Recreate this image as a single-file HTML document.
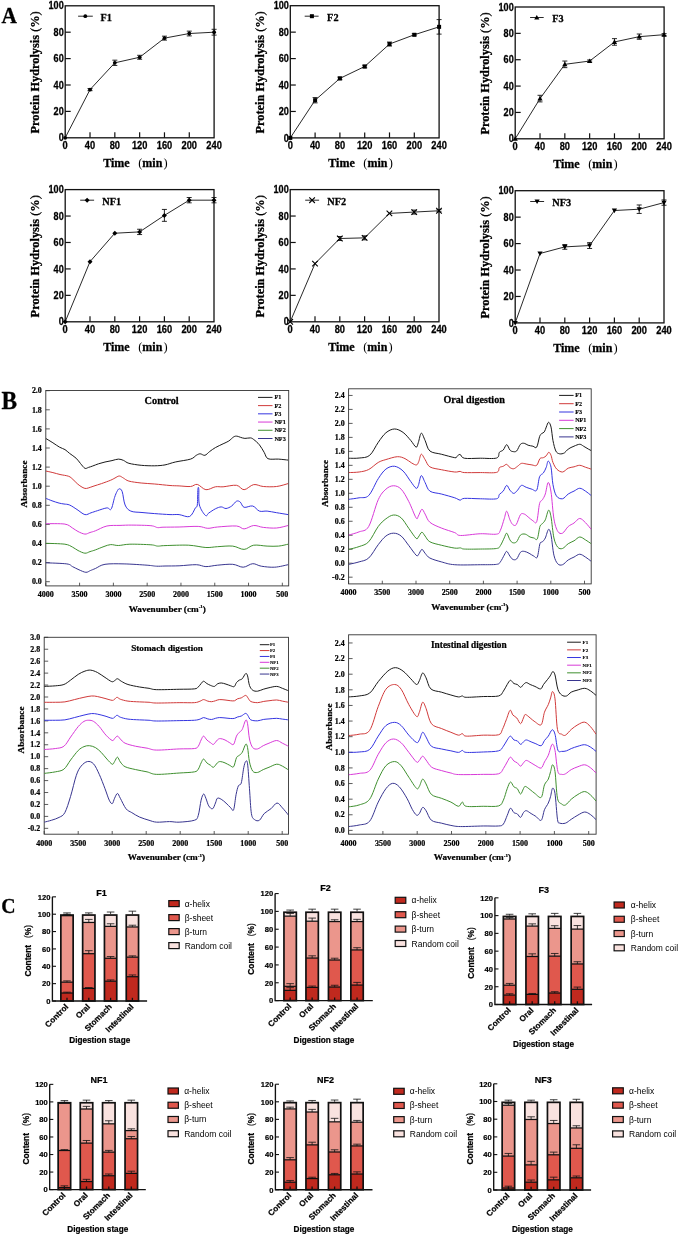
<!DOCTYPE html>
<html><head><meta charset="utf-8">
<style>
html,body{margin:0;padding:0;background:#fff;}
svg{display:block;will-change:transform;}
</style></head><body>
<svg width="680" height="1240" viewBox="0 0 680 1240">
<rect width="680" height="1240" fill="#fff"/>
<g>
<rect x="65.2" y="5.8" width="148.9" height="132" fill="none" stroke="#111" stroke-width="1.3"/>
<text transform="translate(63.7 141.4) scale(0.91 1)" font-family="&quot;Liberation Sans&quot;, sans-serif" font-weight="bold" font-size="10" text-anchor="end" fill="#000" stroke="#000" stroke-width="0.26">0</text>
<line x1="65.2" y1="111.4" x2="70.7" y2="111.4" stroke="#111" stroke-width="1.2"/>
<text transform="translate(63.7 115) scale(0.91 1)" font-family="&quot;Liberation Sans&quot;, sans-serif" font-weight="bold" font-size="10" text-anchor="end" fill="#000" stroke="#000" stroke-width="0.26">20</text>
<line x1="65.2" y1="85" x2="70.7" y2="85" stroke="#111" stroke-width="1.2"/>
<text transform="translate(63.7 88.6) scale(0.91 1)" font-family="&quot;Liberation Sans&quot;, sans-serif" font-weight="bold" font-size="10" text-anchor="end" fill="#000" stroke="#000" stroke-width="0.26">40</text>
<line x1="65.2" y1="58.6" x2="70.7" y2="58.6" stroke="#111" stroke-width="1.2"/>
<text transform="translate(63.7 62.2) scale(0.91 1)" font-family="&quot;Liberation Sans&quot;, sans-serif" font-weight="bold" font-size="10" text-anchor="end" fill="#000" stroke="#000" stroke-width="0.26">60</text>
<line x1="65.2" y1="32.2" x2="70.7" y2="32.2" stroke="#111" stroke-width="1.2"/>
<text transform="translate(63.7 35.8) scale(0.91 1)" font-family="&quot;Liberation Sans&quot;, sans-serif" font-weight="bold" font-size="10" text-anchor="end" fill="#000" stroke="#000" stroke-width="0.26">80</text>
<text transform="translate(63.7 9.4) scale(0.91 1)" font-family="&quot;Liberation Sans&quot;, sans-serif" font-weight="bold" font-size="10" text-anchor="end" fill="#000" stroke="#000" stroke-width="0.26">100</text>
<text transform="translate(65.2 148.8) scale(0.93 1)" font-family="&quot;Liberation Sans&quot;, sans-serif" font-weight="bold" font-size="10" text-anchor="middle" fill="#000" stroke="#000" stroke-width="0.26">0</text>
<line x1="90.02" y1="137.8" x2="90.02" y2="132.3" stroke="#111" stroke-width="1.2"/>
<text transform="translate(90.02 148.8) scale(0.93 1)" font-family="&quot;Liberation Sans&quot;, sans-serif" font-weight="bold" font-size="10" text-anchor="middle" fill="#000" stroke="#000" stroke-width="0.26">40</text>
<line x1="114.83" y1="137.8" x2="114.83" y2="132.3" stroke="#111" stroke-width="1.2"/>
<text transform="translate(114.83 148.8) scale(0.93 1)" font-family="&quot;Liberation Sans&quot;, sans-serif" font-weight="bold" font-size="10" text-anchor="middle" fill="#000" stroke="#000" stroke-width="0.26">80</text>
<line x1="139.65" y1="137.8" x2="139.65" y2="132.3" stroke="#111" stroke-width="1.2"/>
<text transform="translate(139.65 148.8) scale(0.93 1)" font-family="&quot;Liberation Sans&quot;, sans-serif" font-weight="bold" font-size="10" text-anchor="middle" fill="#000" stroke="#000" stroke-width="0.26">120</text>
<line x1="164.47" y1="137.8" x2="164.47" y2="132.3" stroke="#111" stroke-width="1.2"/>
<text transform="translate(164.47 148.8) scale(0.93 1)" font-family="&quot;Liberation Sans&quot;, sans-serif" font-weight="bold" font-size="10" text-anchor="middle" fill="#000" stroke="#000" stroke-width="0.26">160</text>
<line x1="189.28" y1="137.8" x2="189.28" y2="132.3" stroke="#111" stroke-width="1.2"/>
<text transform="translate(189.28 148.8) scale(0.93 1)" font-family="&quot;Liberation Sans&quot;, sans-serif" font-weight="bold" font-size="10" text-anchor="middle" fill="#000" stroke="#000" stroke-width="0.26">200</text>
<text transform="translate(214.1 148.8) scale(0.93 1)" font-family="&quot;Liberation Sans&quot;, sans-serif" font-weight="bold" font-size="10" text-anchor="middle" fill="#000" stroke="#000" stroke-width="0.26">240</text>
<text transform="translate(103.2 166.6) scale(0.97 1)" font-family="&quot;Liberation Serif&quot;, serif" font-weight="bold" font-size="12.4" text-anchor="start" fill="#000" stroke="#000" stroke-width="0.3">Time</text>
<text transform="translate(138.2 166.6)" font-family="&quot;Liberation Serif&quot;, serif" font-weight="normal" font-size="12.4" text-anchor="start" fill="#000">(</text>
<text transform="translate(142.3 166.6) scale(0.97 1)" font-family="&quot;Liberation Serif&quot;, serif" font-weight="bold" font-size="12.4" text-anchor="start" fill="#000" stroke="#000" stroke-width="0.3">min</text>
<text transform="translate(163.6 166.6)" font-family="&quot;Liberation Serif&quot;, serif" font-weight="normal" font-size="12.4" text-anchor="start" fill="#000">)</text>
<text transform="translate(39 72.4) rotate(-90) scale(0.95 1)" font-family="&quot;Liberation Serif&quot;, serif" font-weight="bold" font-size="13" text-anchor="middle" fill="#000" stroke="#000" stroke-width="0.3">Protein Hydrolysis <tspan font-weight="normal">(</tspan>%<tspan font-weight="normal">)</tspan></text>
<polyline points="65.2,137.8 90.02,89.62 114.83,62.82 139.65,57.28 164.47,38.14 189.28,33.52 214.1,32.2" fill="none" stroke="#111" stroke-width="0.9"/>
<path d="M90.02 88.56V90.68M87.52 88.56H92.52M87.52 90.68H92.52" stroke="#111" stroke-width="0.9" fill="none"/>
<path d="M114.83 60.18V65.46M112.33 60.18H117.33M112.33 65.46H117.33" stroke="#111" stroke-width="0.9" fill="none"/>
<path d="M139.65 55.3V59.26M137.15 55.3H142.15M137.15 59.26H142.15" stroke="#111" stroke-width="0.9" fill="none"/>
<path d="M164.47 36.16V40.12M161.97 36.16H166.97M161.97 40.12H166.97" stroke="#111" stroke-width="0.9" fill="none"/>
<path d="M189.28 31.14V35.9M186.78 31.14H191.78M186.78 35.9H191.78" stroke="#111" stroke-width="0.9" fill="none"/>
<path d="M214.1 29.3V35.1M211.6 29.3H216.6M211.6 35.1H216.6" stroke="#111" stroke-width="0.9" fill="none"/>
<circle cx="65.2" cy="137.8" r="1.9" fill="#000"/>
<circle cx="90.02" cy="89.62" r="1.9" fill="#000"/>
<circle cx="114.83" cy="62.82" r="1.9" fill="#000"/>
<circle cx="139.65" cy="57.28" r="1.9" fill="#000"/>
<circle cx="164.47" cy="38.14" r="1.9" fill="#000"/>
<circle cx="189.28" cy="33.52" r="1.9" fill="#000"/>
<circle cx="214.1" cy="32.2" r="1.9" fill="#000"/>
<line x1="78.1" y1="16.2" x2="92.8" y2="16.2" stroke="#111" stroke-width="0.9"/>
<circle cx="85.3" cy="16.2" r="1.9" fill="#000"/>
<text transform="translate(100.5 20.6) scale(0.91 1)" font-family="&quot;Liberation Serif&quot;, serif" font-weight="bold" font-size="11.3" text-anchor="start" fill="#000" stroke="#000" stroke-width="0.29">F1</text>
</g>
<g>
<rect x="290.3" y="5.7" width="148.8" height="132.2" fill="none" stroke="#111" stroke-width="1.3"/>
<text transform="translate(288.8 141.5) scale(0.91 1)" font-family="&quot;Liberation Sans&quot;, sans-serif" font-weight="bold" font-size="10" text-anchor="end" fill="#000" stroke="#000" stroke-width="0.26">0</text>
<line x1="290.3" y1="111.46" x2="295.8" y2="111.46" stroke="#111" stroke-width="1.2"/>
<text transform="translate(288.8 115.06) scale(0.91 1)" font-family="&quot;Liberation Sans&quot;, sans-serif" font-weight="bold" font-size="10" text-anchor="end" fill="#000" stroke="#000" stroke-width="0.26">20</text>
<line x1="290.3" y1="85.02" x2="295.8" y2="85.02" stroke="#111" stroke-width="1.2"/>
<text transform="translate(288.8 88.62) scale(0.91 1)" font-family="&quot;Liberation Sans&quot;, sans-serif" font-weight="bold" font-size="10" text-anchor="end" fill="#000" stroke="#000" stroke-width="0.26">40</text>
<line x1="290.3" y1="58.58" x2="295.8" y2="58.58" stroke="#111" stroke-width="1.2"/>
<text transform="translate(288.8 62.18) scale(0.91 1)" font-family="&quot;Liberation Sans&quot;, sans-serif" font-weight="bold" font-size="10" text-anchor="end" fill="#000" stroke="#000" stroke-width="0.26">60</text>
<line x1="290.3" y1="32.14" x2="295.8" y2="32.14" stroke="#111" stroke-width="1.2"/>
<text transform="translate(288.8 35.74) scale(0.91 1)" font-family="&quot;Liberation Sans&quot;, sans-serif" font-weight="bold" font-size="10" text-anchor="end" fill="#000" stroke="#000" stroke-width="0.26">80</text>
<text transform="translate(288.8 9.3) scale(0.91 1)" font-family="&quot;Liberation Sans&quot;, sans-serif" font-weight="bold" font-size="10" text-anchor="end" fill="#000" stroke="#000" stroke-width="0.26">100</text>
<text transform="translate(290.3 148.9) scale(0.93 1)" font-family="&quot;Liberation Sans&quot;, sans-serif" font-weight="bold" font-size="10" text-anchor="middle" fill="#000" stroke="#000" stroke-width="0.26">0</text>
<line x1="315.1" y1="137.9" x2="315.1" y2="132.4" stroke="#111" stroke-width="1.2"/>
<text transform="translate(315.1 148.9) scale(0.93 1)" font-family="&quot;Liberation Sans&quot;, sans-serif" font-weight="bold" font-size="10" text-anchor="middle" fill="#000" stroke="#000" stroke-width="0.26">40</text>
<line x1="339.9" y1="137.9" x2="339.9" y2="132.4" stroke="#111" stroke-width="1.2"/>
<text transform="translate(339.9 148.9) scale(0.93 1)" font-family="&quot;Liberation Sans&quot;, sans-serif" font-weight="bold" font-size="10" text-anchor="middle" fill="#000" stroke="#000" stroke-width="0.26">80</text>
<line x1="364.7" y1="137.9" x2="364.7" y2="132.4" stroke="#111" stroke-width="1.2"/>
<text transform="translate(364.7 148.9) scale(0.93 1)" font-family="&quot;Liberation Sans&quot;, sans-serif" font-weight="bold" font-size="10" text-anchor="middle" fill="#000" stroke="#000" stroke-width="0.26">120</text>
<line x1="389.5" y1="137.9" x2="389.5" y2="132.4" stroke="#111" stroke-width="1.2"/>
<text transform="translate(389.5 148.9) scale(0.93 1)" font-family="&quot;Liberation Sans&quot;, sans-serif" font-weight="bold" font-size="10" text-anchor="middle" fill="#000" stroke="#000" stroke-width="0.26">160</text>
<line x1="414.3" y1="137.9" x2="414.3" y2="132.4" stroke="#111" stroke-width="1.2"/>
<text transform="translate(414.3 148.9) scale(0.93 1)" font-family="&quot;Liberation Sans&quot;, sans-serif" font-weight="bold" font-size="10" text-anchor="middle" fill="#000" stroke="#000" stroke-width="0.26">200</text>
<text transform="translate(439.1 148.9) scale(0.93 1)" font-family="&quot;Liberation Sans&quot;, sans-serif" font-weight="bold" font-size="10" text-anchor="middle" fill="#000" stroke="#000" stroke-width="0.26">240</text>
<text transform="translate(328.3 166.7) scale(0.97 1)" font-family="&quot;Liberation Serif&quot;, serif" font-weight="bold" font-size="12.4" text-anchor="start" fill="#000" stroke="#000" stroke-width="0.3">Time</text>
<text transform="translate(363.3 166.7)" font-family="&quot;Liberation Serif&quot;, serif" font-weight="normal" font-size="12.4" text-anchor="start" fill="#000">(</text>
<text transform="translate(367.4 166.7) scale(0.97 1)" font-family="&quot;Liberation Serif&quot;, serif" font-weight="bold" font-size="12.4" text-anchor="start" fill="#000" stroke="#000" stroke-width="0.3">min</text>
<text transform="translate(388.7 166.7)" font-family="&quot;Liberation Serif&quot;, serif" font-weight="normal" font-size="12.4" text-anchor="start" fill="#000">)</text>
<text transform="translate(264.1 72.4) rotate(-90) scale(0.95 1)" font-family="&quot;Liberation Serif&quot;, serif" font-weight="bold" font-size="13" text-anchor="middle" fill="#000" stroke="#000" stroke-width="0.3">Protein Hydrolysis <tspan font-weight="normal">(</tspan>%<tspan font-weight="normal">)</tspan></text>
<polyline points="290.3,137.9 315.1,100.22 339.9,78.41 364.7,66.51 389.5,44.04 414.3,34.78 439.1,26.85" fill="none" stroke="#111" stroke-width="0.9"/>
<path d="M315.1 97.58V102.87M312.6 97.58H317.6M312.6 102.87H317.6" stroke="#111" stroke-width="0.9" fill="none"/>
<path d="M339.9 77.09V79.73M337.4 77.09H342.4M337.4 79.73H342.4" stroke="#111" stroke-width="0.9" fill="none"/>
<path d="M364.7 65.19V67.83M362.2 65.19H367.2M362.2 67.83H367.2" stroke="#111" stroke-width="0.9" fill="none"/>
<path d="M389.5 42.05V46.02M387 42.05H392M387 46.02H392" stroke="#111" stroke-width="0.9" fill="none"/>
<path d="M414.3 33.73V35.84M411.8 33.73H416.8M411.8 35.84H416.8" stroke="#111" stroke-width="0.9" fill="none"/>
<path d="M439.1 19.58V34.12M436.6 19.58H441.6M436.6 34.12H441.6" stroke="#111" stroke-width="0.9" fill="none"/>
<rect x="288.3" y="135.9" width="4" height="4" fill="#000"/>
<rect x="313.1" y="98.22" width="4" height="4" fill="#000"/>
<rect x="337.9" y="76.41" width="4" height="4" fill="#000"/>
<rect x="362.7" y="64.51" width="4" height="4" fill="#000"/>
<rect x="387.5" y="42.04" width="4" height="4" fill="#000"/>
<rect x="412.3" y="32.78" width="4" height="4" fill="#000"/>
<rect x="437.1" y="24.85" width="4" height="4" fill="#000"/>
<line x1="304.7" y1="16.2" x2="318.6" y2="16.2" stroke="#111" stroke-width="0.9"/>
<rect x="309.9" y="14.2" width="4" height="4" fill="#000"/>
<text transform="translate(327.1 20.6) scale(0.91 1)" font-family="&quot;Liberation Serif&quot;, serif" font-weight="bold" font-size="11.3" text-anchor="start" fill="#000" stroke="#000" stroke-width="0.29">F2</text>
</g>
<g>
<rect x="515.2" y="7" width="148.9" height="131.8" fill="none" stroke="#111" stroke-width="1.3"/>
<text transform="translate(513.7 142.4) scale(0.91 1)" font-family="&quot;Liberation Sans&quot;, sans-serif" font-weight="bold" font-size="10" text-anchor="end" fill="#000" stroke="#000" stroke-width="0.26">0</text>
<line x1="515.2" y1="112.44" x2="520.7" y2="112.44" stroke="#111" stroke-width="1.2"/>
<text transform="translate(513.7 116.04) scale(0.91 1)" font-family="&quot;Liberation Sans&quot;, sans-serif" font-weight="bold" font-size="10" text-anchor="end" fill="#000" stroke="#000" stroke-width="0.26">20</text>
<line x1="515.2" y1="86.08" x2="520.7" y2="86.08" stroke="#111" stroke-width="1.2"/>
<text transform="translate(513.7 89.68) scale(0.91 1)" font-family="&quot;Liberation Sans&quot;, sans-serif" font-weight="bold" font-size="10" text-anchor="end" fill="#000" stroke="#000" stroke-width="0.26">40</text>
<line x1="515.2" y1="59.72" x2="520.7" y2="59.72" stroke="#111" stroke-width="1.2"/>
<text transform="translate(513.7 63.32) scale(0.91 1)" font-family="&quot;Liberation Sans&quot;, sans-serif" font-weight="bold" font-size="10" text-anchor="end" fill="#000" stroke="#000" stroke-width="0.26">60</text>
<line x1="515.2" y1="33.36" x2="520.7" y2="33.36" stroke="#111" stroke-width="1.2"/>
<text transform="translate(513.7 36.96) scale(0.91 1)" font-family="&quot;Liberation Sans&quot;, sans-serif" font-weight="bold" font-size="10" text-anchor="end" fill="#000" stroke="#000" stroke-width="0.26">80</text>
<text transform="translate(513.7 10.6) scale(0.91 1)" font-family="&quot;Liberation Sans&quot;, sans-serif" font-weight="bold" font-size="10" text-anchor="end" fill="#000" stroke="#000" stroke-width="0.26">100</text>
<text transform="translate(515.2 149.8) scale(0.93 1)" font-family="&quot;Liberation Sans&quot;, sans-serif" font-weight="bold" font-size="10" text-anchor="middle" fill="#000" stroke="#000" stroke-width="0.26">0</text>
<line x1="540.02" y1="138.8" x2="540.02" y2="133.3" stroke="#111" stroke-width="1.2"/>
<text transform="translate(540.02 149.8) scale(0.93 1)" font-family="&quot;Liberation Sans&quot;, sans-serif" font-weight="bold" font-size="10" text-anchor="middle" fill="#000" stroke="#000" stroke-width="0.26">40</text>
<line x1="564.83" y1="138.8" x2="564.83" y2="133.3" stroke="#111" stroke-width="1.2"/>
<text transform="translate(564.83 149.8) scale(0.93 1)" font-family="&quot;Liberation Sans&quot;, sans-serif" font-weight="bold" font-size="10" text-anchor="middle" fill="#000" stroke="#000" stroke-width="0.26">80</text>
<line x1="589.65" y1="138.8" x2="589.65" y2="133.3" stroke="#111" stroke-width="1.2"/>
<text transform="translate(589.65 149.8) scale(0.93 1)" font-family="&quot;Liberation Sans&quot;, sans-serif" font-weight="bold" font-size="10" text-anchor="middle" fill="#000" stroke="#000" stroke-width="0.26">120</text>
<line x1="614.47" y1="138.8" x2="614.47" y2="133.3" stroke="#111" stroke-width="1.2"/>
<text transform="translate(614.47 149.8) scale(0.93 1)" font-family="&quot;Liberation Sans&quot;, sans-serif" font-weight="bold" font-size="10" text-anchor="middle" fill="#000" stroke="#000" stroke-width="0.26">160</text>
<line x1="639.28" y1="138.8" x2="639.28" y2="133.3" stroke="#111" stroke-width="1.2"/>
<text transform="translate(639.28 149.8) scale(0.93 1)" font-family="&quot;Liberation Sans&quot;, sans-serif" font-weight="bold" font-size="10" text-anchor="middle" fill="#000" stroke="#000" stroke-width="0.26">200</text>
<text transform="translate(664.1 149.8) scale(0.93 1)" font-family="&quot;Liberation Sans&quot;, sans-serif" font-weight="bold" font-size="10" text-anchor="middle" fill="#000" stroke="#000" stroke-width="0.26">240</text>
<text transform="translate(553.2 167.6) scale(0.97 1)" font-family="&quot;Liberation Serif&quot;, serif" font-weight="bold" font-size="12.4" text-anchor="start" fill="#000" stroke="#000" stroke-width="0.3">Time</text>
<text transform="translate(588.2 167.6)" font-family="&quot;Liberation Serif&quot;, serif" font-weight="normal" font-size="12.4" text-anchor="start" fill="#000">(</text>
<text transform="translate(592.3 167.6) scale(0.97 1)" font-family="&quot;Liberation Serif&quot;, serif" font-weight="bold" font-size="12.4" text-anchor="start" fill="#000" stroke="#000" stroke-width="0.3">min</text>
<text transform="translate(613.6 167.6)" font-family="&quot;Liberation Serif&quot;, serif" font-weight="normal" font-size="12.4" text-anchor="start" fill="#000">)</text>
<text transform="translate(489 73.5) rotate(-90) scale(0.95 1)" font-family="&quot;Liberation Serif&quot;, serif" font-weight="bold" font-size="13" text-anchor="middle" fill="#000" stroke="#000" stroke-width="0.3">Protein Hydrolysis <tspan font-weight="normal">(</tspan>%<tspan font-weight="normal">)</tspan></text>
<polyline points="515.2,138.8 540.02,98.6 564.83,64.33 589.65,61.04 614.47,41.93 639.28,36.66 664.1,34.68" fill="none" stroke="#111" stroke-width="0.9"/>
<path d="M540.02 95.31V101.9M537.52 95.31H542.52M537.52 101.9H542.52" stroke="#111" stroke-width="0.9" fill="none"/>
<path d="M564.83 61.04V67.63M562.33 61.04H567.33M562.33 67.63H567.33" stroke="#111" stroke-width="0.9" fill="none"/>
<path d="M589.65 59.98V62.09M587.15 59.98H592.15M587.15 62.09H592.15" stroke="#111" stroke-width="0.9" fill="none"/>
<path d="M614.47 38.63V45.22M611.97 38.63H616.97M611.97 45.22H616.97" stroke="#111" stroke-width="0.9" fill="none"/>
<path d="M639.28 34.02V39.29M636.78 34.02H641.78M636.78 39.29H641.78" stroke="#111" stroke-width="0.9" fill="none"/>
<path d="M664.1 33.62V35.73M661.6 33.62H666.6M661.6 35.73H666.6" stroke="#111" stroke-width="0.9" fill="none"/>
<path d="M515.2 136.2L517.8 140.75L512.6 140.75Z" fill="#000"/>
<path d="M540.02 96L542.62 100.55L537.42 100.55Z" fill="#000"/>
<path d="M564.83 61.73L567.43 66.28L562.23 66.28Z" fill="#000"/>
<path d="M589.65 58.44L592.25 62.99L587.05 62.99Z" fill="#000"/>
<path d="M614.47 39.33L617.07 43.88L611.87 43.88Z" fill="#000"/>
<path d="M639.28 34.05L641.88 38.61L636.68 38.61Z" fill="#000"/>
<path d="M664.1 32.08L666.7 36.63L661.5 36.63Z" fill="#000"/>
<line x1="530.1" y1="17.5" x2="543.7" y2="17.5" stroke="#111" stroke-width="0.9"/>
<path d="M536.8 14.9L539.4 19.45L534.2 19.45Z" fill="#000"/>
<text transform="translate(552.3 21.9) scale(0.91 1)" font-family="&quot;Liberation Serif&quot;, serif" font-weight="bold" font-size="11.3" text-anchor="start" fill="#000" stroke="#000" stroke-width="0.29">F3</text>
</g>
<g>
<rect x="65.2" y="189.6" width="148.8" height="132.2" fill="none" stroke="#111" stroke-width="1.3"/>
<text transform="translate(63.7 325.4) scale(0.91 1)" font-family="&quot;Liberation Sans&quot;, sans-serif" font-weight="bold" font-size="10" text-anchor="end" fill="#000" stroke="#000" stroke-width="0.26">0</text>
<line x1="65.2" y1="295.36" x2="70.7" y2="295.36" stroke="#111" stroke-width="1.2"/>
<text transform="translate(63.7 298.96) scale(0.91 1)" font-family="&quot;Liberation Sans&quot;, sans-serif" font-weight="bold" font-size="10" text-anchor="end" fill="#000" stroke="#000" stroke-width="0.26">20</text>
<line x1="65.2" y1="268.92" x2="70.7" y2="268.92" stroke="#111" stroke-width="1.2"/>
<text transform="translate(63.7 272.52) scale(0.91 1)" font-family="&quot;Liberation Sans&quot;, sans-serif" font-weight="bold" font-size="10" text-anchor="end" fill="#000" stroke="#000" stroke-width="0.26">40</text>
<line x1="65.2" y1="242.48" x2="70.7" y2="242.48" stroke="#111" stroke-width="1.2"/>
<text transform="translate(63.7 246.08) scale(0.91 1)" font-family="&quot;Liberation Sans&quot;, sans-serif" font-weight="bold" font-size="10" text-anchor="end" fill="#000" stroke="#000" stroke-width="0.26">60</text>
<line x1="65.2" y1="216.04" x2="70.7" y2="216.04" stroke="#111" stroke-width="1.2"/>
<text transform="translate(63.7 219.64) scale(0.91 1)" font-family="&quot;Liberation Sans&quot;, sans-serif" font-weight="bold" font-size="10" text-anchor="end" fill="#000" stroke="#000" stroke-width="0.26">80</text>
<text transform="translate(63.7 193.2) scale(0.91 1)" font-family="&quot;Liberation Sans&quot;, sans-serif" font-weight="bold" font-size="10" text-anchor="end" fill="#000" stroke="#000" stroke-width="0.26">100</text>
<text transform="translate(65.2 332.8) scale(0.93 1)" font-family="&quot;Liberation Sans&quot;, sans-serif" font-weight="bold" font-size="10" text-anchor="middle" fill="#000" stroke="#000" stroke-width="0.26">0</text>
<line x1="90" y1="321.8" x2="90" y2="316.3" stroke="#111" stroke-width="1.2"/>
<text transform="translate(90 332.8) scale(0.93 1)" font-family="&quot;Liberation Sans&quot;, sans-serif" font-weight="bold" font-size="10" text-anchor="middle" fill="#000" stroke="#000" stroke-width="0.26">40</text>
<line x1="114.8" y1="321.8" x2="114.8" y2="316.3" stroke="#111" stroke-width="1.2"/>
<text transform="translate(114.8 332.8) scale(0.93 1)" font-family="&quot;Liberation Sans&quot;, sans-serif" font-weight="bold" font-size="10" text-anchor="middle" fill="#000" stroke="#000" stroke-width="0.26">80</text>
<line x1="139.6" y1="321.8" x2="139.6" y2="316.3" stroke="#111" stroke-width="1.2"/>
<text transform="translate(139.6 332.8) scale(0.93 1)" font-family="&quot;Liberation Sans&quot;, sans-serif" font-weight="bold" font-size="10" text-anchor="middle" fill="#000" stroke="#000" stroke-width="0.26">120</text>
<line x1="164.4" y1="321.8" x2="164.4" y2="316.3" stroke="#111" stroke-width="1.2"/>
<text transform="translate(164.4 332.8) scale(0.93 1)" font-family="&quot;Liberation Sans&quot;, sans-serif" font-weight="bold" font-size="10" text-anchor="middle" fill="#000" stroke="#000" stroke-width="0.26">160</text>
<line x1="189.2" y1="321.8" x2="189.2" y2="316.3" stroke="#111" stroke-width="1.2"/>
<text transform="translate(189.2 332.8) scale(0.93 1)" font-family="&quot;Liberation Sans&quot;, sans-serif" font-weight="bold" font-size="10" text-anchor="middle" fill="#000" stroke="#000" stroke-width="0.26">200</text>
<text transform="translate(214 332.8) scale(0.93 1)" font-family="&quot;Liberation Sans&quot;, sans-serif" font-weight="bold" font-size="10" text-anchor="middle" fill="#000" stroke="#000" stroke-width="0.26">240</text>
<text transform="translate(103.2 350.6) scale(0.97 1)" font-family="&quot;Liberation Serif&quot;, serif" font-weight="bold" font-size="12.4" text-anchor="start" fill="#000" stroke="#000" stroke-width="0.3">Time</text>
<text transform="translate(138.2 350.6)" font-family="&quot;Liberation Serif&quot;, serif" font-weight="normal" font-size="12.4" text-anchor="start" fill="#000">(</text>
<text transform="translate(142.3 350.6) scale(0.97 1)" font-family="&quot;Liberation Serif&quot;, serif" font-weight="bold" font-size="12.4" text-anchor="start" fill="#000" stroke="#000" stroke-width="0.3">min</text>
<text transform="translate(163.6 350.6)" font-family="&quot;Liberation Serif&quot;, serif" font-weight="normal" font-size="12.4" text-anchor="start" fill="#000">)</text>
<text transform="translate(39 256.3) rotate(-90) scale(0.95 1)" font-family="&quot;Liberation Serif&quot;, serif" font-weight="bold" font-size="13" text-anchor="middle" fill="#000" stroke="#000" stroke-width="0.3">Protein Hydrolysis <tspan font-weight="normal">(</tspan>%<tspan font-weight="normal">)</tspan></text>
<polyline points="65.2,321.8 90,261.65 114.8,233.23 139.6,231.9 164.4,215.38 189.2,200.18 214,200.18" fill="none" stroke="#111" stroke-width="0.9"/>
<path d="M139.6 229.26V234.55M137.1 229.26H142.1M137.1 234.55H142.1" stroke="#111" stroke-width="0.9" fill="none"/>
<path d="M164.4 209.43V221.33M161.9 209.43H166.9M161.9 221.33H166.9" stroke="#111" stroke-width="0.9" fill="none"/>
<path d="M189.2 197.53V202.82M186.7 197.53H191.7M186.7 202.82H191.7" stroke="#111" stroke-width="0.9" fill="none"/>
<path d="M214 197.53V202.82M211.5 197.53H216.5M211.5 202.82H216.5" stroke="#111" stroke-width="0.9" fill="none"/>
<path d="M65.2 319.3L67.7 321.8L65.2 324.3L62.7 321.8Z" fill="#000"/>
<path d="M90 259.15L92.5 261.65L90 264.15L87.5 261.65Z" fill="#000"/>
<path d="M114.8 230.73L117.3 233.23L114.8 235.73L112.3 233.23Z" fill="#000"/>
<path d="M139.6 229.4L142.1 231.9L139.6 234.4L137.1 231.9Z" fill="#000"/>
<path d="M164.4 212.88L166.9 215.38L164.4 217.88L161.9 215.38Z" fill="#000"/>
<path d="M189.2 197.68L191.7 200.18L189.2 202.68L186.7 200.18Z" fill="#000"/>
<path d="M214 197.68L216.5 200.18L214 202.68L211.5 200.18Z" fill="#000"/>
<line x1="80.2" y1="200.2" x2="94.1" y2="200.2" stroke="#111" stroke-width="0.9"/>
<path d="M87.1 197.7L89.6 200.2L87.1 202.7L84.6 200.2Z" fill="#000"/>
<text transform="translate(102.3 204.6) scale(0.91 1)" font-family="&quot;Liberation Serif&quot;, serif" font-weight="bold" font-size="11.3" text-anchor="start" fill="#000" stroke="#000" stroke-width="0.29">NF1</text>
</g>
<g>
<rect x="290.2" y="189.6" width="148.8" height="132.2" fill="none" stroke="#111" stroke-width="1.3"/>
<text transform="translate(288.7 325.4) scale(0.91 1)" font-family="&quot;Liberation Sans&quot;, sans-serif" font-weight="bold" font-size="10" text-anchor="end" fill="#000" stroke="#000" stroke-width="0.26">0</text>
<line x1="290.2" y1="295.36" x2="295.7" y2="295.36" stroke="#111" stroke-width="1.2"/>
<text transform="translate(288.7 298.96) scale(0.91 1)" font-family="&quot;Liberation Sans&quot;, sans-serif" font-weight="bold" font-size="10" text-anchor="end" fill="#000" stroke="#000" stroke-width="0.26">20</text>
<line x1="290.2" y1="268.92" x2="295.7" y2="268.92" stroke="#111" stroke-width="1.2"/>
<text transform="translate(288.7 272.52) scale(0.91 1)" font-family="&quot;Liberation Sans&quot;, sans-serif" font-weight="bold" font-size="10" text-anchor="end" fill="#000" stroke="#000" stroke-width="0.26">40</text>
<line x1="290.2" y1="242.48" x2="295.7" y2="242.48" stroke="#111" stroke-width="1.2"/>
<text transform="translate(288.7 246.08) scale(0.91 1)" font-family="&quot;Liberation Sans&quot;, sans-serif" font-weight="bold" font-size="10" text-anchor="end" fill="#000" stroke="#000" stroke-width="0.26">60</text>
<line x1="290.2" y1="216.04" x2="295.7" y2="216.04" stroke="#111" stroke-width="1.2"/>
<text transform="translate(288.7 219.64) scale(0.91 1)" font-family="&quot;Liberation Sans&quot;, sans-serif" font-weight="bold" font-size="10" text-anchor="end" fill="#000" stroke="#000" stroke-width="0.26">80</text>
<text transform="translate(288.7 193.2) scale(0.91 1)" font-family="&quot;Liberation Sans&quot;, sans-serif" font-weight="bold" font-size="10" text-anchor="end" fill="#000" stroke="#000" stroke-width="0.26">100</text>
<text transform="translate(290.2 332.8) scale(0.93 1)" font-family="&quot;Liberation Sans&quot;, sans-serif" font-weight="bold" font-size="10" text-anchor="middle" fill="#000" stroke="#000" stroke-width="0.26">0</text>
<line x1="315" y1="321.8" x2="315" y2="316.3" stroke="#111" stroke-width="1.2"/>
<text transform="translate(315 332.8) scale(0.93 1)" font-family="&quot;Liberation Sans&quot;, sans-serif" font-weight="bold" font-size="10" text-anchor="middle" fill="#000" stroke="#000" stroke-width="0.26">40</text>
<line x1="339.8" y1="321.8" x2="339.8" y2="316.3" stroke="#111" stroke-width="1.2"/>
<text transform="translate(339.8 332.8) scale(0.93 1)" font-family="&quot;Liberation Sans&quot;, sans-serif" font-weight="bold" font-size="10" text-anchor="middle" fill="#000" stroke="#000" stroke-width="0.26">80</text>
<line x1="364.6" y1="321.8" x2="364.6" y2="316.3" stroke="#111" stroke-width="1.2"/>
<text transform="translate(364.6 332.8) scale(0.93 1)" font-family="&quot;Liberation Sans&quot;, sans-serif" font-weight="bold" font-size="10" text-anchor="middle" fill="#000" stroke="#000" stroke-width="0.26">120</text>
<line x1="389.4" y1="321.8" x2="389.4" y2="316.3" stroke="#111" stroke-width="1.2"/>
<text transform="translate(389.4 332.8) scale(0.93 1)" font-family="&quot;Liberation Sans&quot;, sans-serif" font-weight="bold" font-size="10" text-anchor="middle" fill="#000" stroke="#000" stroke-width="0.26">160</text>
<line x1="414.2" y1="321.8" x2="414.2" y2="316.3" stroke="#111" stroke-width="1.2"/>
<text transform="translate(414.2 332.8) scale(0.93 1)" font-family="&quot;Liberation Sans&quot;, sans-serif" font-weight="bold" font-size="10" text-anchor="middle" fill="#000" stroke="#000" stroke-width="0.26">200</text>
<text transform="translate(439 332.8) scale(0.93 1)" font-family="&quot;Liberation Sans&quot;, sans-serif" font-weight="bold" font-size="10" text-anchor="middle" fill="#000" stroke="#000" stroke-width="0.26">240</text>
<text transform="translate(328.2 350.6) scale(0.97 1)" font-family="&quot;Liberation Serif&quot;, serif" font-weight="bold" font-size="12.4" text-anchor="start" fill="#000" stroke="#000" stroke-width="0.3">Time</text>
<text transform="translate(363.2 350.6)" font-family="&quot;Liberation Serif&quot;, serif" font-weight="normal" font-size="12.4" text-anchor="start" fill="#000">(</text>
<text transform="translate(367.3 350.6) scale(0.97 1)" font-family="&quot;Liberation Serif&quot;, serif" font-weight="bold" font-size="12.4" text-anchor="start" fill="#000" stroke="#000" stroke-width="0.3">min</text>
<text transform="translate(388.6 350.6)" font-family="&quot;Liberation Serif&quot;, serif" font-weight="normal" font-size="12.4" text-anchor="start" fill="#000">)</text>
<text transform="translate(264 256.3) rotate(-90) scale(0.95 1)" font-family="&quot;Liberation Serif&quot;, serif" font-weight="bold" font-size="13" text-anchor="middle" fill="#000" stroke="#000" stroke-width="0.3">Protein Hydrolysis <tspan font-weight="normal">(</tspan>%<tspan font-weight="normal">)</tspan></text>
<polyline points="290.2,321.8 315,263.63 339.8,238.51 364.6,237.85 389.4,213.4 414.2,212.07 439,210.75" fill="none" stroke="#111" stroke-width="0.9"/>
<path d="M339.8 236.53V240.5M337.3 236.53H342.3M337.3 240.5H342.3" stroke="#111" stroke-width="0.9" fill="none"/>
<path d="M364.6 235.87V239.84M362.1 235.87H367.1M362.1 239.84H367.1" stroke="#111" stroke-width="0.9" fill="none"/>
<path d="M414.2 210.09V214.06M411.7 210.09H416.7M411.7 214.06H416.7" stroke="#111" stroke-width="0.9" fill="none"/>
<path d="M439 209.69V211.81M436.5 209.69H441.5M436.5 211.81H441.5" stroke="#111" stroke-width="0.9" fill="none"/>
<path d="M287.4 319L293 324.6M287.4 324.6L293 319" stroke="#000" stroke-width="1.1" fill="none"/>
<path d="M312.2 260.83L317.8 266.43M312.2 266.43L317.8 260.83" stroke="#000" stroke-width="1.1" fill="none"/>
<path d="M337 235.71L342.6 241.31M337 241.31L342.6 235.71" stroke="#000" stroke-width="1.1" fill="none"/>
<path d="M361.8 235.05L367.4 240.65M361.8 240.65L367.4 235.05" stroke="#000" stroke-width="1.1" fill="none"/>
<path d="M386.6 210.6L392.2 216.2M386.6 216.2L392.2 210.6" stroke="#000" stroke-width="1.1" fill="none"/>
<path d="M411.4 209.27L417 214.87M411.4 214.87L417 209.27" stroke="#000" stroke-width="1.1" fill="none"/>
<path d="M436.2 207.95L441.8 213.55M436.2 213.55L441.8 207.95" stroke="#000" stroke-width="1.1" fill="none"/>
<line x1="305.2" y1="200.2" x2="319.1" y2="200.2" stroke="#111" stroke-width="0.9"/>
<path d="M309.3 197.4L314.9 203M309.3 203L314.9 197.4" stroke="#000" stroke-width="1.1" fill="none"/>
<text transform="translate(327.3 204.6) scale(0.91 1)" font-family="&quot;Liberation Serif&quot;, serif" font-weight="bold" font-size="11.3" text-anchor="start" fill="#000" stroke="#000" stroke-width="0.29">NF2</text>
</g>
<g>
<rect x="515.2" y="190.7" width="148.8" height="132.2" fill="none" stroke="#111" stroke-width="1.3"/>
<text transform="translate(513.7 326.5) scale(0.91 1)" font-family="&quot;Liberation Sans&quot;, sans-serif" font-weight="bold" font-size="10" text-anchor="end" fill="#000" stroke="#000" stroke-width="0.26">0</text>
<line x1="515.2" y1="296.46" x2="520.7" y2="296.46" stroke="#111" stroke-width="1.2"/>
<text transform="translate(513.7 300.06) scale(0.91 1)" font-family="&quot;Liberation Sans&quot;, sans-serif" font-weight="bold" font-size="10" text-anchor="end" fill="#000" stroke="#000" stroke-width="0.26">20</text>
<line x1="515.2" y1="270.02" x2="520.7" y2="270.02" stroke="#111" stroke-width="1.2"/>
<text transform="translate(513.7 273.62) scale(0.91 1)" font-family="&quot;Liberation Sans&quot;, sans-serif" font-weight="bold" font-size="10" text-anchor="end" fill="#000" stroke="#000" stroke-width="0.26">40</text>
<line x1="515.2" y1="243.58" x2="520.7" y2="243.58" stroke="#111" stroke-width="1.2"/>
<text transform="translate(513.7 247.18) scale(0.91 1)" font-family="&quot;Liberation Sans&quot;, sans-serif" font-weight="bold" font-size="10" text-anchor="end" fill="#000" stroke="#000" stroke-width="0.26">60</text>
<line x1="515.2" y1="217.14" x2="520.7" y2="217.14" stroke="#111" stroke-width="1.2"/>
<text transform="translate(513.7 220.74) scale(0.91 1)" font-family="&quot;Liberation Sans&quot;, sans-serif" font-weight="bold" font-size="10" text-anchor="end" fill="#000" stroke="#000" stroke-width="0.26">80</text>
<text transform="translate(513.7 194.3) scale(0.91 1)" font-family="&quot;Liberation Sans&quot;, sans-serif" font-weight="bold" font-size="10" text-anchor="end" fill="#000" stroke="#000" stroke-width="0.26">100</text>
<text transform="translate(515.2 333.9) scale(0.93 1)" font-family="&quot;Liberation Sans&quot;, sans-serif" font-weight="bold" font-size="10" text-anchor="middle" fill="#000" stroke="#000" stroke-width="0.26">0</text>
<line x1="540" y1="322.9" x2="540" y2="317.4" stroke="#111" stroke-width="1.2"/>
<text transform="translate(540 333.9) scale(0.93 1)" font-family="&quot;Liberation Sans&quot;, sans-serif" font-weight="bold" font-size="10" text-anchor="middle" fill="#000" stroke="#000" stroke-width="0.26">40</text>
<line x1="564.8" y1="322.9" x2="564.8" y2="317.4" stroke="#111" stroke-width="1.2"/>
<text transform="translate(564.8 333.9) scale(0.93 1)" font-family="&quot;Liberation Sans&quot;, sans-serif" font-weight="bold" font-size="10" text-anchor="middle" fill="#000" stroke="#000" stroke-width="0.26">80</text>
<line x1="589.6" y1="322.9" x2="589.6" y2="317.4" stroke="#111" stroke-width="1.2"/>
<text transform="translate(589.6 333.9) scale(0.93 1)" font-family="&quot;Liberation Sans&quot;, sans-serif" font-weight="bold" font-size="10" text-anchor="middle" fill="#000" stroke="#000" stroke-width="0.26">120</text>
<line x1="614.4" y1="322.9" x2="614.4" y2="317.4" stroke="#111" stroke-width="1.2"/>
<text transform="translate(614.4 333.9) scale(0.93 1)" font-family="&quot;Liberation Sans&quot;, sans-serif" font-weight="bold" font-size="10" text-anchor="middle" fill="#000" stroke="#000" stroke-width="0.26">160</text>
<line x1="639.2" y1="322.9" x2="639.2" y2="317.4" stroke="#111" stroke-width="1.2"/>
<text transform="translate(639.2 333.9) scale(0.93 1)" font-family="&quot;Liberation Sans&quot;, sans-serif" font-weight="bold" font-size="10" text-anchor="middle" fill="#000" stroke="#000" stroke-width="0.26">200</text>
<text transform="translate(664 333.9) scale(0.93 1)" font-family="&quot;Liberation Sans&quot;, sans-serif" font-weight="bold" font-size="10" text-anchor="middle" fill="#000" stroke="#000" stroke-width="0.26">240</text>
<text transform="translate(553.2 351.7) scale(0.97 1)" font-family="&quot;Liberation Serif&quot;, serif" font-weight="bold" font-size="12.4" text-anchor="start" fill="#000" stroke="#000" stroke-width="0.3">Time</text>
<text transform="translate(588.2 351.7)" font-family="&quot;Liberation Serif&quot;, serif" font-weight="normal" font-size="12.4" text-anchor="start" fill="#000">(</text>
<text transform="translate(592.3 351.7) scale(0.97 1)" font-family="&quot;Liberation Serif&quot;, serif" font-weight="bold" font-size="12.4" text-anchor="start" fill="#000" stroke="#000" stroke-width="0.3">min</text>
<text transform="translate(613.6 351.7)" font-family="&quot;Liberation Serif&quot;, serif" font-weight="normal" font-size="12.4" text-anchor="start" fill="#000">)</text>
<text transform="translate(489 257.4) rotate(-90) scale(0.95 1)" font-family="&quot;Liberation Serif&quot;, serif" font-weight="bold" font-size="13" text-anchor="middle" fill="#000" stroke="#000" stroke-width="0.3">Protein Hydrolysis <tspan font-weight="normal">(</tspan>%<tspan font-weight="normal">)</tspan></text>
<polyline points="515.2,322.9 540,253.49 564.8,246.88 589.6,245.56 614.4,210.53 639.2,209.21 664,202.6" fill="none" stroke="#111" stroke-width="0.9"/>
<path d="M564.8 244.51V249.26M562.3 244.51H567.3M562.3 249.26H567.3" stroke="#111" stroke-width="0.9" fill="none"/>
<path d="M589.6 242.65V248.47M587.1 242.65H592.1M587.1 248.47H592.1" stroke="#111" stroke-width="0.9" fill="none"/>
<path d="M639.2 204.98V213.44M636.7 204.98H641.7M636.7 213.44H641.7" stroke="#111" stroke-width="0.9" fill="none"/>
<path d="M664 199.95V205.24M661.5 199.95H666.5M661.5 205.24H666.5" stroke="#111" stroke-width="0.9" fill="none"/>
<path d="M515.2 325.5L517.8 320.95L512.6 320.95Z" fill="#000"/>
<path d="M540 256.09L542.6 251.54L537.4 251.54Z" fill="#000"/>
<path d="M564.8 249.48L567.4 244.94L562.2 244.94Z" fill="#000"/>
<path d="M589.6 248.16L592.2 243.61L587 243.61Z" fill="#000"/>
<path d="M614.4 213.13L617 208.58L611.8 208.58Z" fill="#000"/>
<path d="M639.2 211.81L641.8 207.26L636.6 207.26Z" fill="#000"/>
<path d="M664 205.2L666.6 200.65L661.4 200.65Z" fill="#000"/>
<line x1="530.2" y1="201.5" x2="544.1" y2="201.5" stroke="#111" stroke-width="0.9"/>
<path d="M537.1 204.1L539.7 199.55L534.5 199.55Z" fill="#000"/>
<text transform="translate(552.3 205.9) scale(0.91 1)" font-family="&quot;Liberation Serif&quot;, serif" font-weight="bold" font-size="11.3" text-anchor="start" fill="#000" stroke="#000" stroke-width="0.29">NF3</text>
</g>
<text transform="translate(1.4 22.9) scale(0.93 1)" font-family="&quot;Liberation Serif&quot;, serif" font-weight="bold" font-size="23" text-anchor="start" fill="#000" stroke="#000" stroke-width="0.3">A</text>
<g>
<rect x="45.8" y="390.5" width="242.9" height="195.4" fill="none" stroke="#333" stroke-width="0.9"/>
<line x1="45.8" y1="581.7" x2="49.8" y2="581.7" stroke="#333" stroke-width="0.8"/>
<text transform="translate(41.8 584.4)" font-family="&quot;Liberation Serif&quot;, serif" font-weight="bold" font-size="7.9" text-anchor="end" fill="#000" stroke="#000" stroke-width="0.21">0.0</text>
<line x1="45.8" y1="562.6" x2="49.8" y2="562.6" stroke="#333" stroke-width="0.8"/>
<text transform="translate(41.8 565.3)" font-family="&quot;Liberation Serif&quot;, serif" font-weight="bold" font-size="7.9" text-anchor="end" fill="#000" stroke="#000" stroke-width="0.21">0.2</text>
<line x1="45.8" y1="543.5" x2="49.8" y2="543.5" stroke="#333" stroke-width="0.8"/>
<text transform="translate(41.8 546.2)" font-family="&quot;Liberation Serif&quot;, serif" font-weight="bold" font-size="7.9" text-anchor="end" fill="#000" stroke="#000" stroke-width="0.21">0.4</text>
<line x1="45.8" y1="524.4" x2="49.8" y2="524.4" stroke="#333" stroke-width="0.8"/>
<text transform="translate(41.8 527.1)" font-family="&quot;Liberation Serif&quot;, serif" font-weight="bold" font-size="7.9" text-anchor="end" fill="#000" stroke="#000" stroke-width="0.21">0.6</text>
<line x1="45.8" y1="505.3" x2="49.8" y2="505.3" stroke="#333" stroke-width="0.8"/>
<text transform="translate(41.8 508)" font-family="&quot;Liberation Serif&quot;, serif" font-weight="bold" font-size="7.9" text-anchor="end" fill="#000" stroke="#000" stroke-width="0.21">0.8</text>
<line x1="45.8" y1="486.2" x2="49.8" y2="486.2" stroke="#333" stroke-width="0.8"/>
<text transform="translate(41.8 488.9)" font-family="&quot;Liberation Serif&quot;, serif" font-weight="bold" font-size="7.9" text-anchor="end" fill="#000" stroke="#000" stroke-width="0.21">1.0</text>
<line x1="45.8" y1="467.1" x2="49.8" y2="467.1" stroke="#333" stroke-width="0.8"/>
<text transform="translate(41.8 469.8)" font-family="&quot;Liberation Serif&quot;, serif" font-weight="bold" font-size="7.9" text-anchor="end" fill="#000" stroke="#000" stroke-width="0.21">1.2</text>
<line x1="45.8" y1="448" x2="49.8" y2="448" stroke="#333" stroke-width="0.8"/>
<text transform="translate(41.8 450.7)" font-family="&quot;Liberation Serif&quot;, serif" font-weight="bold" font-size="7.9" text-anchor="end" fill="#000" stroke="#000" stroke-width="0.21">1.4</text>
<line x1="45.8" y1="428.9" x2="49.8" y2="428.9" stroke="#333" stroke-width="0.8"/>
<text transform="translate(41.8 431.6)" font-family="&quot;Liberation Serif&quot;, serif" font-weight="bold" font-size="7.9" text-anchor="end" fill="#000" stroke="#000" stroke-width="0.21">1.6</text>
<line x1="45.8" y1="409.8" x2="49.8" y2="409.8" stroke="#333" stroke-width="0.8"/>
<text transform="translate(41.8 412.5)" font-family="&quot;Liberation Serif&quot;, serif" font-weight="bold" font-size="7.9" text-anchor="end" fill="#000" stroke="#000" stroke-width="0.21">1.8</text>
<line x1="45.8" y1="390.7" x2="49.8" y2="390.7" stroke="#333" stroke-width="0.8"/>
<text transform="translate(41.8 393.4)" font-family="&quot;Liberation Serif&quot;, serif" font-weight="bold" font-size="7.9" text-anchor="end" fill="#000" stroke="#000" stroke-width="0.21">2.0</text>
<line x1="45.8" y1="585.9" x2="45.8" y2="582.7" stroke="#333" stroke-width="0.8"/>
<text transform="translate(45.8 597.3)" font-family="&quot;Liberation Serif&quot;, serif" font-weight="bold" font-size="8" text-anchor="middle" fill="#000" stroke="#000" stroke-width="0.21">4000</text>
<line x1="79.59" y1="585.9" x2="79.59" y2="582.7" stroke="#333" stroke-width="0.8"/>
<text transform="translate(79.59 597.3)" font-family="&quot;Liberation Serif&quot;, serif" font-weight="bold" font-size="8" text-anchor="middle" fill="#000" stroke="#000" stroke-width="0.21">3500</text>
<line x1="113.38" y1="585.9" x2="113.38" y2="582.7" stroke="#333" stroke-width="0.8"/>
<text transform="translate(113.38 597.3)" font-family="&quot;Liberation Serif&quot;, serif" font-weight="bold" font-size="8" text-anchor="middle" fill="#000" stroke="#000" stroke-width="0.21">3000</text>
<line x1="147.17" y1="585.9" x2="147.17" y2="582.7" stroke="#333" stroke-width="0.8"/>
<text transform="translate(147.17 597.3)" font-family="&quot;Liberation Serif&quot;, serif" font-weight="bold" font-size="8" text-anchor="middle" fill="#000" stroke="#000" stroke-width="0.21">2500</text>
<line x1="180.96" y1="585.9" x2="180.96" y2="582.7" stroke="#333" stroke-width="0.8"/>
<text transform="translate(180.96 597.3)" font-family="&quot;Liberation Serif&quot;, serif" font-weight="bold" font-size="8" text-anchor="middle" fill="#000" stroke="#000" stroke-width="0.21">2000</text>
<line x1="214.75" y1="585.9" x2="214.75" y2="582.7" stroke="#333" stroke-width="0.8"/>
<text transform="translate(214.75 597.3)" font-family="&quot;Liberation Serif&quot;, serif" font-weight="bold" font-size="8" text-anchor="middle" fill="#000" stroke="#000" stroke-width="0.21">1500</text>
<line x1="248.54" y1="585.9" x2="248.54" y2="582.7" stroke="#333" stroke-width="0.8"/>
<text transform="translate(248.54 597.3)" font-family="&quot;Liberation Serif&quot;, serif" font-weight="bold" font-size="8" text-anchor="middle" fill="#000" stroke="#000" stroke-width="0.21">1000</text>
<line x1="282.33" y1="585.9" x2="282.33" y2="582.7" stroke="#333" stroke-width="0.8"/>
<text transform="translate(282.33 597.3)" font-family="&quot;Liberation Serif&quot;, serif" font-weight="bold" font-size="8" text-anchor="middle" fill="#000" stroke="#000" stroke-width="0.21">500</text>
<clipPath id="cp317"><rect x="45.8" y="390.5" width="242.9" height="195.4"/></clipPath>
<g clip-path="url(#cp317)">
<path d="M45.7 438.4C46.9 439.13 50.58 441.33 52.9 442.8C55.22 444.27 57.58 446.07 59.6 447.2C61.62 448.33 63.33 448.57 65 449.6C66.67 450.63 67.75 451.97 69.6 453.4C71.45 454.83 74.28 456.52 76.1 458.2C77.92 459.88 79.03 461.82 80.5 463.5C81.97 465.18 83.57 467.65 84.9 468.3C86.23 468.95 87.2 467.78 88.5 467.4C89.8 467.02 91.03 466.6 92.7 466C94.37 465.4 96.45 464.47 98.5 463.8C100.55 463.13 102.75 462.53 105 462C107.25 461.47 109.77 461.08 112 460.6C114.23 460.12 116.48 459.13 118.4 459.1C120.32 459.07 121.75 459.7 123.5 460.4C125.25 461.1 125.95 462.48 128.9 463.3C131.85 464.12 136.9 464.88 141.2 465.3C145.5 465.72 150.73 465.87 154.7 465.8C158.67 465.73 161.57 465.53 165 464.9C168.43 464.27 171.03 462.97 175.3 462C179.57 461.03 187.1 460.22 190.6 459.1C194.1 457.98 194.7 456.18 196.3 455.3C197.9 454.42 198.77 453.8 200.2 453.8C201.63 453.8 203.32 455.68 204.9 455.3C206.48 454.92 207.95 452.78 209.7 451.5C211.45 450.22 213.17 448.88 215.4 447.6C217.63 446.32 220.87 444.9 223.1 443.8C225.33 442.7 227.02 442.17 228.8 441C230.58 439.83 232.42 437.6 233.8 436.8C235.18 436 236 436.12 237.1 436.2C238.2 436.28 239.1 436.93 240.4 437.3C241.7 437.67 243.23 438.3 244.9 438.4C246.57 438.5 248.93 437.72 250.4 437.9C251.87 438.08 252.2 438.35 253.7 439.5C255.2 440.65 257.65 442.65 259.4 444.8C261.15 446.95 262.77 450.08 264.2 452.4C265.63 454.72 265.62 457.58 268 458.7C270.38 459.82 275.15 458.87 278.5 459.1C281.85 459.33 286.5 459.93 288.1 460.1" fill="none" stroke="#1a1a1a" stroke-width="1.0" stroke-linejoin="round"/>
<path d="M45.7 471C46.9 471.27 50.52 472.02 52.9 472.6C55.28 473.18 57.37 473.88 60 474.5C62.63 475.12 66.53 475.47 68.7 476.3C70.87 477.13 71.58 478.28 73 479.5C74.42 480.72 75.87 482.43 77.2 483.6C78.53 484.77 79.72 485.7 81 486.5C82.28 487.3 83.7 488.15 84.9 488.4C86.1 488.65 86.68 488.4 88.2 488C89.72 487.6 91.78 486.73 94 486C96.22 485.27 98.72 484.57 101.5 483.6C104.28 482.63 108.45 481.13 110.7 480.2C112.95 479.27 113.57 478.7 115 478C116.43 477.3 117.88 475.98 119.3 476C120.72 476.02 121.9 477.25 123.5 478.1C125.1 478.95 125.95 480.28 128.9 481.1C131.85 481.92 136.9 482.52 141.2 483C145.5 483.48 149.9 483.58 154.7 484C159.5 484.42 165.93 485.18 170 485.5C174.07 485.82 175.67 485.73 179.1 485.9C182.53 486.07 187.57 486.75 190.6 486.5C193.63 486.25 194.75 483.87 197.3 484.4C199.85 484.93 202.88 489.3 205.9 489.7C208.92 490.1 212.53 487.28 215.4 486.8C218.27 486.32 219.58 487.05 223.1 486.8C226.62 486.55 233 484.82 236.5 485.3C240 485.78 241.23 489.82 244.1 489.7C246.97 489.58 250.5 485.13 253.7 484.6C256.9 484.07 259.48 486.18 263.3 486.5C267.12 486.82 272.47 486.98 276.6 486.5C280.73 486.02 286.18 484.08 288.1 483.6" fill="none" stroke="#d03a3a" stroke-width="1.0" stroke-linejoin="round"/>
<path d="M45.7 498.3C46.75 498.72 49.77 500 52 500.8C54.23 501.6 57.1 502.57 59.1 503.1C61.1 503.63 62.25 503.68 64 504C65.75 504.32 67.43 504.08 69.6 505C71.77 505.92 74.45 507.9 77 509.5C79.55 511.1 82.57 514.05 84.9 514.6C87.23 515.15 88.92 513.45 91 512.8C93.08 512.15 94.75 511.52 97.4 510.7C100.05 509.88 104.62 508.15 106.9 507.9C109.18 507.65 109.82 510.95 111.1 509.2C112.38 507.45 113.62 500.35 114.6 497.4C115.58 494.45 116.22 492.93 117 491.5C117.78 490.07 118.43 488.78 119.3 488.8C120.17 488.82 121.23 488.9 122.2 491.6C123.17 494.3 123.67 501.75 125.1 505C126.53 508.25 127.98 509.85 130.8 511.1C133.62 512.35 138.02 512.08 142 512.5C145.98 512.92 150.03 513.25 154.7 513.6C159.37 513.95 165.93 514.43 170 514.6C174.07 514.77 175.83 514.28 179.1 514.6C182.37 514.92 186.88 517.62 189.6 516.5C192.32 515.38 194.12 509.82 195.4 507.9C196.68 505.98 196.88 508.1 197.3 505C197.72 501.9 197.65 491.92 197.9 489.3C198.15 486.68 198.55 486.68 198.8 489.3C199.05 491.92 198.28 500.63 199.4 505C200.52 509.37 203.93 514.17 205.5 515.5C207.07 516.83 207.15 514.12 208.8 513C210.45 511.88 213.33 509.82 215.4 508.8C217.47 507.78 219.43 506.95 221.2 506.9C222.97 506.85 224.25 508.65 226 508.5C227.75 508.35 229.95 507.22 231.7 506C233.45 504.78 235.07 501.85 236.5 501.2C237.93 500.55 239.03 501.08 240.3 502.1C241.57 503.12 242.03 506.65 244.1 507.3C246.17 507.95 250.15 505.37 252.7 506C255.25 506.63 257 510.25 259.4 511.1C261.8 511.95 264.23 510.83 267.1 511.1C269.97 511.37 273.1 512.12 276.6 512.7C280.1 513.28 286.18 514.28 288.1 514.6" fill="none" stroke="#3535e0" stroke-width="1.0" stroke-linejoin="round"/>
<path d="M45.7 523.7C48.9 523.77 60.43 523.38 64.9 524.1C69.37 524.82 70.32 526.77 72.5 528C74.68 529.23 75.93 530.48 78 531.5C80.07 532.52 82.9 533.93 84.9 534.1C86.9 534.27 88.25 533.05 90 532.5C91.75 531.95 92.58 531.88 95.4 530.8C98.22 529.72 102.8 526.9 106.9 526C111 525.1 115.85 525.55 120 525.4C124.15 525.25 126.65 525.05 131.8 525.1C136.95 525.15 146.6 525.28 150.9 525.7C155.2 526.12 155.58 527.35 157.6 527.6C159.62 527.85 159.42 527.3 163 527.2C166.58 527.1 173.23 527.13 179.1 527C184.97 526.87 193.42 526.18 198.2 526.4C202.98 526.62 204.6 528.2 207.8 528.3C211 528.4 212.62 527.38 217.4 527C222.18 526.62 232.05 525.68 236.5 526C240.95 526.32 241.23 528.98 244.1 528.9C246.97 528.82 250.5 525.75 253.7 525.5C256.9 525.25 259.48 526.98 263.3 527.4C267.12 527.82 272.47 528.32 276.6 528C280.73 527.68 286.18 525.92 288.1 525.5" fill="none" stroke="#d83ad8" stroke-width="1.0" stroke-linejoin="round"/>
<path d="M45.7 543.3C48.9 543.45 60.43 543.57 64.9 544.2C69.37 544.83 70.32 546.05 72.5 547.1C74.68 548.15 75.93 549.48 78 550.5C80.07 551.52 82.9 553.02 84.9 553.2C86.9 553.38 88.25 552.15 90 551.6C91.75 551.05 93.07 550.75 95.4 549.9C97.73 549.05 101.45 547.38 104 546.5C106.55 545.62 108.3 544.77 110.7 544.6C113.1 544.43 115.2 545.57 118.4 545.5C121.6 545.43 124.48 544.32 129.9 544.2C135.32 544.08 146.28 544.48 150.9 544.8C155.52 545.12 155.25 545.97 157.6 546.1C159.95 546.23 159.82 545.75 165 545.6C170.18 545.45 181.88 544.88 188.7 545.2C195.52 545.52 201.12 547.25 205.9 547.5C210.68 547.75 212.93 546.93 217.4 546.7C221.87 546.47 228.25 545.65 232.7 546.1C237.15 546.55 240.6 549.55 244.1 549.4C247.6 549.25 249.87 545.75 253.7 545.2C257.53 544.65 262.97 545.95 267.1 546.1C271.23 546.25 275 546.42 278.5 546.1C282 545.78 286.5 544.52 288.1 544.2" fill="none" stroke="#3f8f2f" stroke-width="1.0" stroke-linejoin="round"/>
<path d="M45.7 562.8C49.22 562.98 62.33 563.27 66.8 563.9C71.27 564.53 70.47 565.62 72.5 566.6C74.53 567.58 76.77 568.85 79 569.8C81.23 570.75 83.98 572.18 85.9 572.3C87.82 572.42 88.92 571.13 90.5 570.5C92.08 569.87 92.98 569.53 95.4 568.5C97.82 567.47 100.22 565.07 105 564.3C109.78 563.53 117.08 563.75 124.1 563.9C131.12 564.05 141.68 564.82 147.1 565.2C152.52 565.58 153.62 566.07 156.6 566.2C159.58 566.33 161.25 566.07 165 566C168.75 565.93 173.88 566.02 179.1 565.8C184.32 565.58 191.83 564.57 196.3 564.7C200.77 564.83 202.38 566.52 205.9 566.6C209.42 566.68 212.93 565.58 217.4 565.2C221.87 564.82 228.4 563.97 232.7 564.3C237 564.63 239.87 567.3 243.2 567.2C246.53 567.1 249.68 563.87 252.7 563.7C255.72 563.53 257.63 565.62 261.3 566.2C264.97 566.78 270.23 567.45 274.7 567.2C279.17 566.95 285.87 565.12 288.1 564.7" fill="none" stroke="#38358f" stroke-width="1.0" stroke-linejoin="round"/>
</g>
<text transform="translate(144.6 404.2)" font-family="&quot;Liberation Serif&quot;, serif" font-weight="bold" font-size="10.3" text-anchor="start" fill="#000" stroke="#000" stroke-width="0.27">Control</text>
<line x1="258" y1="397.4" x2="272.5" y2="397.4" stroke="#1a1a1a" stroke-width="1"/>
<text transform="translate(274.4 399.45)" font-family="&quot;Liberation Serif&quot;, serif" font-weight="bold" font-size="6.2" text-anchor="start" fill="#000" stroke="#000" stroke-width="0.16">F1</text>
<line x1="258" y1="405.62" x2="272.5" y2="405.62" stroke="#d03a3a" stroke-width="1"/>
<text transform="translate(274.4 407.67)" font-family="&quot;Liberation Serif&quot;, serif" font-weight="bold" font-size="6.2" text-anchor="start" fill="#000" stroke="#000" stroke-width="0.16">F2</text>
<line x1="258" y1="413.84" x2="272.5" y2="413.84" stroke="#3535e0" stroke-width="1"/>
<text transform="translate(274.4 415.89)" font-family="&quot;Liberation Serif&quot;, serif" font-weight="bold" font-size="6.2" text-anchor="start" fill="#000" stroke="#000" stroke-width="0.16">F3</text>
<line x1="258" y1="422.06" x2="272.5" y2="422.06" stroke="#d83ad8" stroke-width="1"/>
<text transform="translate(274.4 424.11)" font-family="&quot;Liberation Serif&quot;, serif" font-weight="bold" font-size="6.2" text-anchor="start" fill="#000" stroke="#000" stroke-width="0.16">NF1</text>
<line x1="258" y1="430.28" x2="272.5" y2="430.28" stroke="#3f8f2f" stroke-width="1"/>
<text transform="translate(274.4 432.33)" font-family="&quot;Liberation Serif&quot;, serif" font-weight="bold" font-size="6.2" text-anchor="start" fill="#000" stroke="#000" stroke-width="0.16">NF2</text>
<line x1="258" y1="438.5" x2="272.5" y2="438.5" stroke="#38358f" stroke-width="1"/>
<text transform="translate(274.4 440.55)" font-family="&quot;Liberation Serif&quot;, serif" font-weight="bold" font-size="6.2" text-anchor="start" fill="#000" stroke="#000" stroke-width="0.16">NF3</text>
<text transform="translate(167.25 611.9)" font-family="&quot;Liberation Serif&quot;, serif" font-weight="bold" font-size="9.2" text-anchor="middle" fill="#000" stroke="#000" stroke-width="0.24">Wavenumber (cm<tspan font-size="5" dy="-3.5">-1</tspan><tspan dy="3.5">)</tspan></text>
<text transform="translate(27.1 484) rotate(-90)" font-family="&quot;Liberation Serif&quot;, serif" font-weight="bold" font-size="9.2" text-anchor="middle" fill="#000" stroke="#000" stroke-width="0.24">Absorbance</text>
</g>
<g>
<rect x="348.6" y="388.8" width="242.6" height="195.1" fill="none" stroke="#333" stroke-width="0.9"/>
<line x1="348.6" y1="577.18" x2="352.6" y2="577.18" stroke="#333" stroke-width="0.8"/>
<text transform="translate(344.6 579.88)" font-family="&quot;Liberation Serif&quot;, serif" font-weight="bold" font-size="7.9" text-anchor="end" fill="#000" stroke="#000" stroke-width="0.21">-0.2</text>
<line x1="348.6" y1="563.2" x2="352.6" y2="563.2" stroke="#333" stroke-width="0.8"/>
<text transform="translate(344.6 565.9)" font-family="&quot;Liberation Serif&quot;, serif" font-weight="bold" font-size="7.9" text-anchor="end" fill="#000" stroke="#000" stroke-width="0.21">0.0</text>
<line x1="348.6" y1="549.22" x2="352.6" y2="549.22" stroke="#333" stroke-width="0.8"/>
<text transform="translate(344.6 551.92)" font-family="&quot;Liberation Serif&quot;, serif" font-weight="bold" font-size="7.9" text-anchor="end" fill="#000" stroke="#000" stroke-width="0.21">0.2</text>
<line x1="348.6" y1="535.24" x2="352.6" y2="535.24" stroke="#333" stroke-width="0.8"/>
<text transform="translate(344.6 537.94)" font-family="&quot;Liberation Serif&quot;, serif" font-weight="bold" font-size="7.9" text-anchor="end" fill="#000" stroke="#000" stroke-width="0.21">0.4</text>
<line x1="348.6" y1="521.26" x2="352.6" y2="521.26" stroke="#333" stroke-width="0.8"/>
<text transform="translate(344.6 523.96)" font-family="&quot;Liberation Serif&quot;, serif" font-weight="bold" font-size="7.9" text-anchor="end" fill="#000" stroke="#000" stroke-width="0.21">0.6</text>
<line x1="348.6" y1="507.28" x2="352.6" y2="507.28" stroke="#333" stroke-width="0.8"/>
<text transform="translate(344.6 509.98)" font-family="&quot;Liberation Serif&quot;, serif" font-weight="bold" font-size="7.9" text-anchor="end" fill="#000" stroke="#000" stroke-width="0.21">0.8</text>
<line x1="348.6" y1="493.3" x2="352.6" y2="493.3" stroke="#333" stroke-width="0.8"/>
<text transform="translate(344.6 496)" font-family="&quot;Liberation Serif&quot;, serif" font-weight="bold" font-size="7.9" text-anchor="end" fill="#000" stroke="#000" stroke-width="0.21">1.0</text>
<line x1="348.6" y1="479.32" x2="352.6" y2="479.32" stroke="#333" stroke-width="0.8"/>
<text transform="translate(344.6 482.02)" font-family="&quot;Liberation Serif&quot;, serif" font-weight="bold" font-size="7.9" text-anchor="end" fill="#000" stroke="#000" stroke-width="0.21">1.2</text>
<line x1="348.6" y1="465.34" x2="352.6" y2="465.34" stroke="#333" stroke-width="0.8"/>
<text transform="translate(344.6 468.04)" font-family="&quot;Liberation Serif&quot;, serif" font-weight="bold" font-size="7.9" text-anchor="end" fill="#000" stroke="#000" stroke-width="0.21">1.4</text>
<line x1="348.6" y1="451.36" x2="352.6" y2="451.36" stroke="#333" stroke-width="0.8"/>
<text transform="translate(344.6 454.06)" font-family="&quot;Liberation Serif&quot;, serif" font-weight="bold" font-size="7.9" text-anchor="end" fill="#000" stroke="#000" stroke-width="0.21">1.6</text>
<line x1="348.6" y1="437.38" x2="352.6" y2="437.38" stroke="#333" stroke-width="0.8"/>
<text transform="translate(344.6 440.08)" font-family="&quot;Liberation Serif&quot;, serif" font-weight="bold" font-size="7.9" text-anchor="end" fill="#000" stroke="#000" stroke-width="0.21">1.8</text>
<line x1="348.6" y1="423.4" x2="352.6" y2="423.4" stroke="#333" stroke-width="0.8"/>
<text transform="translate(344.6 426.1)" font-family="&quot;Liberation Serif&quot;, serif" font-weight="bold" font-size="7.9" text-anchor="end" fill="#000" stroke="#000" stroke-width="0.21">2.0</text>
<line x1="348.6" y1="409.42" x2="352.6" y2="409.42" stroke="#333" stroke-width="0.8"/>
<text transform="translate(344.6 412.12)" font-family="&quot;Liberation Serif&quot;, serif" font-weight="bold" font-size="7.9" text-anchor="end" fill="#000" stroke="#000" stroke-width="0.21">2.2</text>
<line x1="348.6" y1="395.44" x2="352.6" y2="395.44" stroke="#333" stroke-width="0.8"/>
<text transform="translate(344.6 398.14)" font-family="&quot;Liberation Serif&quot;, serif" font-weight="bold" font-size="7.9" text-anchor="end" fill="#000" stroke="#000" stroke-width="0.21">2.4</text>
<line x1="348.6" y1="583.9" x2="348.6" y2="580.7" stroke="#333" stroke-width="0.8"/>
<text transform="translate(348.6 595.3)" font-family="&quot;Liberation Serif&quot;, serif" font-weight="bold" font-size="8" text-anchor="middle" fill="#000" stroke="#000" stroke-width="0.21">4000</text>
<line x1="382.3" y1="583.9" x2="382.3" y2="580.7" stroke="#333" stroke-width="0.8"/>
<text transform="translate(382.3 595.3)" font-family="&quot;Liberation Serif&quot;, serif" font-weight="bold" font-size="8" text-anchor="middle" fill="#000" stroke="#000" stroke-width="0.21">3500</text>
<line x1="416" y1="583.9" x2="416" y2="580.7" stroke="#333" stroke-width="0.8"/>
<text transform="translate(416 595.3)" font-family="&quot;Liberation Serif&quot;, serif" font-weight="bold" font-size="8" text-anchor="middle" fill="#000" stroke="#000" stroke-width="0.21">3000</text>
<line x1="449.7" y1="583.9" x2="449.7" y2="580.7" stroke="#333" stroke-width="0.8"/>
<text transform="translate(449.7 595.3)" font-family="&quot;Liberation Serif&quot;, serif" font-weight="bold" font-size="8" text-anchor="middle" fill="#000" stroke="#000" stroke-width="0.21">2500</text>
<line x1="483.4" y1="583.9" x2="483.4" y2="580.7" stroke="#333" stroke-width="0.8"/>
<text transform="translate(483.4 595.3)" font-family="&quot;Liberation Serif&quot;, serif" font-weight="bold" font-size="8" text-anchor="middle" fill="#000" stroke="#000" stroke-width="0.21">2000</text>
<line x1="517.1" y1="583.9" x2="517.1" y2="580.7" stroke="#333" stroke-width="0.8"/>
<text transform="translate(517.1 595.3)" font-family="&quot;Liberation Serif&quot;, serif" font-weight="bold" font-size="8" text-anchor="middle" fill="#000" stroke="#000" stroke-width="0.21">1500</text>
<line x1="550.8" y1="583.9" x2="550.8" y2="580.7" stroke="#333" stroke-width="0.8"/>
<text transform="translate(550.8 595.3)" font-family="&quot;Liberation Serif&quot;, serif" font-weight="bold" font-size="8" text-anchor="middle" fill="#000" stroke="#000" stroke-width="0.21">1000</text>
<line x1="584.5" y1="583.9" x2="584.5" y2="580.7" stroke="#333" stroke-width="0.8"/>
<text transform="translate(584.5 595.3)" font-family="&quot;Liberation Serif&quot;, serif" font-weight="bold" font-size="8" text-anchor="middle" fill="#000" stroke="#000" stroke-width="0.21">500</text>
<clipPath id="cp388"><rect x="348.6" y="388.8" width="242.6" height="195.1"/></clipPath>
<g clip-path="url(#cp388)">
<path d="M348.6 458.23C350.36 458.2 355.62 458.52 359.12 458.04C362.63 457.56 366.45 457.98 369.64 455.36C372.82 452.75 375.53 446.12 378.24 442.36C380.95 438.6 383.18 435.03 385.89 432.8C388.6 430.57 391.63 429.04 394.49 428.98C397.36 428.91 400.39 430.51 403.1 432.42C405.81 434.33 408.58 438 410.75 440.45C412.91 442.9 414.82 446.82 416.1 447.14C417.37 447.46 417.53 444.69 418.39 442.36C419.25 440.04 420.15 433.5 421.26 433.18C422.38 432.86 423.65 437.49 425.09 440.45C426.52 443.41 427.16 448.67 429.87 450.97C432.57 453.26 437.2 453.1 441.34 454.22C445.48 455.33 452.17 457.24 454.72 457.66C457.27 458.07 455.74 457.24 456.63 456.7C457.53 456.16 458.8 454.15 460.08 454.41C461.35 454.66 460.91 457.59 464.28 458.23C467.65 458.87 474.92 458.26 480.3 458.23C485.67 458.2 493.36 459.03 496.55 458.04C499.74 457.05 498.3 453.64 499.42 452.3C500.53 450.97 502.03 451.28 503.24 450.01C504.45 448.73 505.57 444.66 506.68 444.66C507.8 444.66 508.91 448.86 509.93 450.01C510.95 451.16 511.69 451.38 512.8 451.54C513.92 451.7 515.35 452.18 516.63 450.97C517.9 449.75 519.17 445.55 520.45 444.27C521.72 443 523 443.16 524.27 443.32C525.55 443.48 526.66 444.75 528.1 445.23C529.53 445.71 531.44 445.87 532.88 446.19C534.31 446.5 535.59 448.73 536.7 447.14C537.82 445.55 538.77 438.86 539.57 436.63C540.37 434.39 540.69 434.55 541.48 433.76C542.28 432.96 543.55 432.96 544.35 431.85C545.15 430.73 545.56 428.66 546.26 427.07C546.96 425.47 547.76 422.28 548.56 422.28C549.35 422.28 550.31 424.04 551.04 427.07C551.78 430.09 552.16 436.47 552.95 440.45C553.75 444.43 554.71 448.73 555.82 450.97C556.94 453.2 558.21 453.51 559.65 453.83C561.08 454.15 562.99 453.67 564.43 452.88C565.86 452.08 566.66 450.17 568.25 449.05C569.84 447.94 572.07 446.98 573.99 446.19C575.9 445.39 578.13 444.27 579.72 444.27C581.32 444.27 582.11 445.39 583.55 446.19C584.98 446.98 587.05 448.32 588.33 449.05C589.6 449.79 590.72 450.33 591.2 450.58" fill="none" stroke="#1a1a1a" stroke-width="1.0" stroke-linejoin="round"/>
<path d="M348.6 472.57C350.36 472.48 355.77 472.51 359.12 472C362.47 471.49 365.49 471.11 368.68 469.51C371.87 467.92 375.37 464.09 378.24 462.44C381.11 460.78 382.7 460.53 385.89 459.57C389.08 458.61 394.17 456.86 397.36 456.7C400.55 456.54 402.62 457.56 405.01 458.61C407.4 459.67 409.79 461.96 411.7 463.01C413.61 464.06 415.3 465.18 416.48 464.92C417.66 464.67 417.98 463.27 418.78 461.48C419.57 459.7 420.21 454.53 421.26 454.22C422.31 453.9 423.65 457.47 425.09 459.57C426.52 461.67 427.16 465.15 429.87 466.84C432.57 468.52 437.2 468.84 441.34 469.7C445.48 470.56 451.6 471.71 454.72 472C457.85 472.28 458.48 471.33 460.08 471.42C461.67 471.52 460.91 472.38 464.28 472.57C467.65 472.76 474.92 472.6 480.3 472.57C485.67 472.54 493.36 473.21 496.55 472.38C499.74 471.55 498.3 468.62 499.42 467.6C500.53 466.58 502.03 466.8 503.24 466.26C504.45 465.72 505.57 464.13 506.68 464.35C507.8 464.57 508.75 466.87 509.93 467.6C511.11 468.33 512.48 468.97 513.76 468.75C515.03 468.52 516.31 467.15 517.58 466.26C518.86 465.37 519.97 463.78 521.41 463.39C522.84 463.01 524.43 463.71 526.19 463.97C527.94 464.22 530.17 464.7 531.92 464.92C533.67 465.15 535.36 466.36 536.7 465.31C538.04 464.25 538.84 459.89 539.95 458.61C541.07 457.34 542.34 458.14 543.39 457.66C544.45 457.18 545.37 456.64 546.26 455.75C547.15 454.85 547.95 452.37 548.75 452.3C549.54 452.24 550.34 453.67 551.04 455.36C551.74 457.05 552 460.14 552.95 462.44C553.91 464.73 555.18 467.54 556.78 469.13C558.37 470.72 560.6 472.16 562.51 472C564.43 471.84 566.34 469.03 568.25 468.17C570.16 467.31 572.07 467.31 573.99 466.84C575.9 466.36 577.81 465.24 579.72 465.31C581.63 465.37 583.55 466.58 585.46 467.22C587.37 467.86 590.24 468.81 591.2 469.13" fill="none" stroke="#d03a3a" stroke-width="1.0" stroke-linejoin="round"/>
<path d="M348.6 499.34C350.36 499.09 355.77 498.45 359.12 497.81C362.47 497.17 365.49 498.7 368.68 495.52C371.87 492.33 375.37 483.09 378.24 478.69C381.11 474.29 383.18 471.2 385.89 469.13C388.6 467.06 391.63 465.94 394.49 466.26C397.36 466.58 400.39 468.49 403.1 471.04C405.81 473.59 408.58 478.69 410.75 481.56C412.91 484.43 414.82 487.61 416.1 488.25C417.37 488.89 417.53 487.49 418.39 485.38C419.25 483.28 420.15 476.11 421.26 475.63C422.38 475.15 423.65 479.93 425.09 482.51C426.52 485.1 427.16 489.21 429.87 491.12C432.57 493.03 437.2 492.87 441.34 493.99C445.48 495.1 451.6 496.79 454.72 497.81C457.85 498.83 458.48 500.01 460.08 500.11C461.67 500.2 460.91 498.61 464.28 498.38C467.65 498.16 474.92 498.7 480.3 498.77C485.67 498.83 493.36 499.5 496.55 498.77C499.74 498.03 498.3 495.64 499.42 494.37C500.53 493.09 502.03 492.62 503.24 491.12C504.45 489.62 505.57 485.54 506.68 485.38C507.8 485.22 508.75 488.82 509.93 490.16C511.11 491.5 512.48 493.41 513.76 493.41C515.03 493.41 516.31 491.5 517.58 490.16C518.86 488.82 519.97 485.86 521.41 485.38C522.84 484.9 524.43 486.66 526.19 487.29C527.94 487.93 530.17 488.73 531.92 489.21C533.67 489.68 535.43 492.23 536.7 490.16C537.98 488.09 538.45 479.65 539.57 476.78C540.69 473.91 542.28 474.55 543.39 472.95C544.51 471.36 545.47 469.19 546.26 467.22C547.06 465.24 547.38 461.1 548.17 461.1C548.97 461.1 550.25 463.33 551.04 467.22C551.84 471.11 552.06 479.65 552.95 484.43C553.85 489.21 554.8 493.51 556.4 495.9C557.99 498.29 560.54 499.09 562.51 498.77C564.49 498.45 566.34 495.26 568.25 493.99C570.16 492.71 572.07 492.07 573.99 491.12C575.9 490.16 577.81 488.25 579.72 488.25C581.63 488.25 583.55 489.91 585.46 491.12C587.37 492.33 590.24 494.78 591.2 495.52" fill="none" stroke="#3535e0" stroke-width="1.0" stroke-linejoin="round"/>
<path d="M348.6 535.1C350.36 534.55 355.77 533.28 359.12 531.85C362.47 530.41 365.49 531.85 368.68 526.49C371.87 521.14 375.37 505.94 378.24 499.72C381.11 493.51 383.34 491.53 385.89 489.21C388.44 486.88 390.99 485.76 393.54 485.76C396.09 485.76 398.64 486.56 401.19 489.21C403.73 491.85 406.35 496.85 408.83 501.63C411.32 506.41 414.51 515.5 416.1 517.89C417.69 520.28 417.44 517.41 418.39 515.98C419.35 514.54 420.72 509.6 421.84 509.28C422.95 508.96 423.75 511.9 425.09 514.06C426.42 516.23 427.16 519.96 429.87 522.28C432.57 524.61 437.2 526.3 441.34 528.02C445.48 529.74 451.54 531.37 454.72 532.61C457.91 533.85 456.2 535.29 460.46 535.48C464.72 535.67 474.28 533.98 480.3 533.76C486.31 533.53 493.2 534.71 496.55 534.14C499.89 533.57 499.1 532.86 500.37 530.32C501.65 527.77 503.15 522.03 504.2 518.84C505.25 515.66 505.73 511.04 506.68 511.2C507.64 511.35 508.91 517.57 509.93 519.8C510.95 522.03 511.75 523.78 512.8 524.58C513.85 525.38 514.97 526.24 516.24 524.58C517.52 522.92 519.11 516.39 520.45 514.64C521.79 512.88 523 513.68 524.27 514.06C525.55 514.45 526.66 515.82 528.1 516.93C529.53 518.05 531.44 519.96 532.88 520.76C534.31 521.55 535.59 524.58 536.7 521.71C537.82 518.84 538.61 507.21 539.57 503.55C540.53 499.88 541.48 501.32 542.44 499.72C543.39 498.13 544.35 496.85 545.31 493.99C546.26 491.12 547.22 482.83 548.17 482.51C549.13 482.2 550.09 486.02 551.04 492.07C552 498.13 552.79 512.31 553.91 518.84C555.03 525.38 556.3 528.88 557.73 531.27C559.17 533.66 560.76 533.98 562.51 533.18C564.27 532.39 566.34 528.18 568.25 526.49C570.16 524.8 572.07 524.39 573.99 523.05C575.9 521.71 577.81 518.52 579.72 518.46C581.63 518.4 583.55 520.85 585.46 522.67C587.37 524.48 590.24 528.24 591.2 529.36" fill="none" stroke="#d83ad8" stroke-width="1.0" stroke-linejoin="round"/>
<path d="M348.6 549.44C350.36 548.96 355.77 547.84 359.12 546.57C362.47 545.29 365.49 545.13 368.68 541.79C371.87 538.44 375.37 530.32 378.24 526.49C381.11 522.67 383.34 520.76 385.89 518.84C388.44 516.93 390.99 515.18 393.54 515.02C396.09 514.86 398.64 515.66 401.19 517.89C403.73 520.12 406.35 524.99 408.83 528.4C411.32 531.81 414.51 536.91 416.1 538.35C417.69 539.78 417.44 538.03 418.39 537.01C419.35 535.99 420.72 532.39 421.84 532.23C422.95 532.07 423.75 534.46 425.09 536.05C426.42 537.64 427.16 540.26 429.87 541.79C432.57 543.32 437.2 544.18 441.34 545.23C445.48 546.28 451.54 547.65 454.72 548.1C457.91 548.54 458.87 547.75 460.46 547.91C462.05 548.07 460.98 548.86 464.28 549.05C467.59 549.24 474.92 549.15 480.3 549.05C485.67 548.96 493.2 549.05 496.55 548.48C499.89 547.91 499.1 547.36 500.37 545.61C501.65 543.86 503.15 540.04 504.2 537.96C505.25 535.89 505.73 532.86 506.68 533.18C507.64 533.5 508.91 538.28 509.93 539.88C510.95 541.47 511.69 542.43 512.8 542.74C513.92 543.06 515.35 543.06 516.63 541.79C517.9 540.51 519.02 536.37 520.45 535.1C521.88 533.82 523.64 533.82 525.23 534.14C526.82 534.46 528.58 536.37 530.01 537.01C531.44 537.64 532.62 537.64 533.83 537.96C535.04 538.28 536.26 540.83 537.28 538.92C538.3 537.01 539.09 529.04 539.95 526.49C540.81 523.94 541.55 524.74 542.44 523.62C543.33 522.51 544.29 522.03 545.31 519.8C546.33 517.57 547.6 510.72 548.56 510.24C549.51 509.76 550.15 512.31 551.04 516.93C551.93 521.55 552.79 532.93 553.91 537.96C555.03 543 556.3 545.39 557.73 547.14C559.17 548.89 560.76 549.05 562.51 548.48C564.27 547.91 566.34 544.97 568.25 543.7C570.16 542.43 572.07 541.95 573.99 540.83C575.9 539.72 577.81 537.17 579.72 537.01C581.63 536.85 583.55 538.76 585.46 539.88C587.37 540.99 590.24 543.06 591.2 543.7" fill="none" stroke="#3f8f2f" stroke-width="1.0" stroke-linejoin="round"/>
<path d="M348.6 564.73C349.08 564.57 349.72 564.25 351.47 563.78C353.22 563.3 356.25 562.82 359.12 561.86C361.99 560.91 365.49 560.91 368.68 558.04C371.87 555.17 375.37 548.32 378.24 544.66C381.11 540.99 383.34 537.96 385.89 536.05C388.44 534.14 390.99 533.18 393.54 533.18C396.09 533.18 398.64 533.98 401.19 536.05C403.73 538.12 406.35 542.43 408.83 545.61C411.32 548.8 414.51 553.64 416.1 555.17C417.69 556.7 417.44 555.75 418.39 554.79C419.35 553.83 420.72 549.69 421.84 549.44C422.95 549.18 423.75 551.83 425.09 553.26C426.42 554.69 427.16 556.61 429.87 558.04C432.57 559.47 437.2 560.75 441.34 561.86C445.48 562.98 448.23 564.25 454.72 564.73C461.22 565.21 473.33 564.8 480.3 564.73C487.27 564.67 493.2 564.83 496.55 564.35C499.89 563.87 499.1 563.39 500.37 561.86C501.65 560.33 503.15 556.92 504.2 555.17C505.25 553.42 505.73 551.19 506.68 551.35C507.64 551.51 508.91 554.79 509.93 556.13C510.95 557.47 511.69 558.9 512.8 559.38C513.92 559.86 515.35 560.18 516.63 559C517.9 557.82 519.17 553.58 520.45 552.3C521.72 551.03 522.84 551.19 524.27 551.35C525.71 551.51 527.46 552.46 529.05 553.26C530.65 554.06 532.46 555.49 533.83 556.13C535.2 556.77 536.26 559.16 537.28 557.08C538.3 555.01 539.09 546.25 539.95 543.7C540.81 541.15 541.55 542.74 542.44 541.79C543.33 540.83 544.29 540.04 545.31 537.96C546.33 535.89 547.6 529.84 548.56 529.36C549.51 528.88 550.15 530.79 551.04 535.1C551.93 539.4 552.79 550.39 553.91 555.17C555.03 559.95 556.3 562.18 557.73 563.78C559.17 565.37 560.76 565.37 562.51 564.73C564.27 564.09 566.34 561.23 568.25 559.95C570.16 558.68 572.07 558.04 573.99 557.08C575.9 556.13 577.81 554.22 579.72 554.22C581.63 554.22 583.55 555.91 585.46 557.08C587.37 558.26 590.24 560.59 591.2 561.29" fill="none" stroke="#38358f" stroke-width="1.0" stroke-linejoin="round"/>
</g>
<text transform="translate(443.4 403)" font-family="&quot;Liberation Serif&quot;, serif" font-weight="bold" font-size="10.1" text-anchor="start" fill="#000" stroke="#000" stroke-width="0.26">Oral digestion</text>
<line x1="559.1" y1="395.4" x2="573.6" y2="395.4" stroke="#1a1a1a" stroke-width="1"/>
<text transform="translate(575.2 397.41)" font-family="&quot;Liberation Serif&quot;, serif" font-weight="bold" font-size="6.1" text-anchor="start" fill="#000" stroke="#000" stroke-width="0.16">F1</text>
<line x1="559.1" y1="403.7" x2="573.6" y2="403.7" stroke="#d03a3a" stroke-width="1"/>
<text transform="translate(575.2 405.71)" font-family="&quot;Liberation Serif&quot;, serif" font-weight="bold" font-size="6.1" text-anchor="start" fill="#000" stroke="#000" stroke-width="0.16">F2</text>
<line x1="559.1" y1="412" x2="573.6" y2="412" stroke="#3535e0" stroke-width="1"/>
<text transform="translate(575.2 414.01)" font-family="&quot;Liberation Serif&quot;, serif" font-weight="bold" font-size="6.1" text-anchor="start" fill="#000" stroke="#000" stroke-width="0.16">F3</text>
<line x1="559.1" y1="420.3" x2="573.6" y2="420.3" stroke="#d83ad8" stroke-width="1"/>
<text transform="translate(575.2 422.31)" font-family="&quot;Liberation Serif&quot;, serif" font-weight="bold" font-size="6.1" text-anchor="start" fill="#000" stroke="#000" stroke-width="0.16">NF1</text>
<line x1="559.1" y1="428.6" x2="573.6" y2="428.6" stroke="#3f8f2f" stroke-width="1"/>
<text transform="translate(575.2 430.61)" font-family="&quot;Liberation Serif&quot;, serif" font-weight="bold" font-size="6.1" text-anchor="start" fill="#000" stroke="#000" stroke-width="0.16">NF2</text>
<line x1="559.1" y1="436.9" x2="573.6" y2="436.9" stroke="#38358f" stroke-width="1"/>
<text transform="translate(575.2 438.91)" font-family="&quot;Liberation Serif&quot;, serif" font-weight="bold" font-size="6.1" text-anchor="start" fill="#000" stroke="#000" stroke-width="0.16">NF3</text>
<text transform="translate(469.9 609.9)" font-family="&quot;Liberation Serif&quot;, serif" font-weight="bold" font-size="9.2" text-anchor="middle" fill="#000" stroke="#000" stroke-width="0.24">Wavenumber (cm<tspan font-size="5" dy="-3.5">-1</tspan><tspan dy="3.5">)</tspan></text>
<text transform="translate(327.5 483.5) rotate(-90)" font-family="&quot;Liberation Serif&quot;, serif" font-weight="bold" font-size="9.2" text-anchor="middle" fill="#000" stroke="#000" stroke-width="0.24">Absorbance</text>
</g>
<g>
<rect x="44.2" y="637.3" width="244.3" height="196.9" fill="none" stroke="#333" stroke-width="0.9"/>
<line x1="44.2" y1="828.34" x2="48.2" y2="828.34" stroke="#333" stroke-width="0.8"/>
<text transform="translate(40.2 831.04)" font-family="&quot;Liberation Serif&quot;, serif" font-weight="bold" font-size="7.9" text-anchor="end" fill="#000" stroke="#000" stroke-width="0.21">-0.2</text>
<line x1="44.2" y1="816.4" x2="48.2" y2="816.4" stroke="#333" stroke-width="0.8"/>
<text transform="translate(40.2 819.1)" font-family="&quot;Liberation Serif&quot;, serif" font-weight="bold" font-size="7.9" text-anchor="end" fill="#000" stroke="#000" stroke-width="0.21">0.0</text>
<line x1="44.2" y1="804.46" x2="48.2" y2="804.46" stroke="#333" stroke-width="0.8"/>
<text transform="translate(40.2 807.16)" font-family="&quot;Liberation Serif&quot;, serif" font-weight="bold" font-size="7.9" text-anchor="end" fill="#000" stroke="#000" stroke-width="0.21">0.2</text>
<line x1="44.2" y1="792.52" x2="48.2" y2="792.52" stroke="#333" stroke-width="0.8"/>
<text transform="translate(40.2 795.22)" font-family="&quot;Liberation Serif&quot;, serif" font-weight="bold" font-size="7.9" text-anchor="end" fill="#000" stroke="#000" stroke-width="0.21">0.4</text>
<line x1="44.2" y1="780.58" x2="48.2" y2="780.58" stroke="#333" stroke-width="0.8"/>
<text transform="translate(40.2 783.28)" font-family="&quot;Liberation Serif&quot;, serif" font-weight="bold" font-size="7.9" text-anchor="end" fill="#000" stroke="#000" stroke-width="0.21">0.6</text>
<line x1="44.2" y1="768.64" x2="48.2" y2="768.64" stroke="#333" stroke-width="0.8"/>
<text transform="translate(40.2 771.34)" font-family="&quot;Liberation Serif&quot;, serif" font-weight="bold" font-size="7.9" text-anchor="end" fill="#000" stroke="#000" stroke-width="0.21">0.8</text>
<line x1="44.2" y1="756.7" x2="48.2" y2="756.7" stroke="#333" stroke-width="0.8"/>
<text transform="translate(40.2 759.4)" font-family="&quot;Liberation Serif&quot;, serif" font-weight="bold" font-size="7.9" text-anchor="end" fill="#000" stroke="#000" stroke-width="0.21">1.0</text>
<line x1="44.2" y1="744.76" x2="48.2" y2="744.76" stroke="#333" stroke-width="0.8"/>
<text transform="translate(40.2 747.46)" font-family="&quot;Liberation Serif&quot;, serif" font-weight="bold" font-size="7.9" text-anchor="end" fill="#000" stroke="#000" stroke-width="0.21">1.2</text>
<line x1="44.2" y1="732.82" x2="48.2" y2="732.82" stroke="#333" stroke-width="0.8"/>
<text transform="translate(40.2 735.52)" font-family="&quot;Liberation Serif&quot;, serif" font-weight="bold" font-size="7.9" text-anchor="end" fill="#000" stroke="#000" stroke-width="0.21">1.4</text>
<line x1="44.2" y1="720.88" x2="48.2" y2="720.88" stroke="#333" stroke-width="0.8"/>
<text transform="translate(40.2 723.58)" font-family="&quot;Liberation Serif&quot;, serif" font-weight="bold" font-size="7.9" text-anchor="end" fill="#000" stroke="#000" stroke-width="0.21">1.6</text>
<line x1="44.2" y1="708.94" x2="48.2" y2="708.94" stroke="#333" stroke-width="0.8"/>
<text transform="translate(40.2 711.64)" font-family="&quot;Liberation Serif&quot;, serif" font-weight="bold" font-size="7.9" text-anchor="end" fill="#000" stroke="#000" stroke-width="0.21">1.8</text>
<line x1="44.2" y1="697" x2="48.2" y2="697" stroke="#333" stroke-width="0.8"/>
<text transform="translate(40.2 699.7)" font-family="&quot;Liberation Serif&quot;, serif" font-weight="bold" font-size="7.9" text-anchor="end" fill="#000" stroke="#000" stroke-width="0.21">2.0</text>
<line x1="44.2" y1="685.06" x2="48.2" y2="685.06" stroke="#333" stroke-width="0.8"/>
<text transform="translate(40.2 687.76)" font-family="&quot;Liberation Serif&quot;, serif" font-weight="bold" font-size="7.9" text-anchor="end" fill="#000" stroke="#000" stroke-width="0.21">2.2</text>
<line x1="44.2" y1="673.12" x2="48.2" y2="673.12" stroke="#333" stroke-width="0.8"/>
<text transform="translate(40.2 675.82)" font-family="&quot;Liberation Serif&quot;, serif" font-weight="bold" font-size="7.9" text-anchor="end" fill="#000" stroke="#000" stroke-width="0.21">2.4</text>
<line x1="44.2" y1="661.18" x2="48.2" y2="661.18" stroke="#333" stroke-width="0.8"/>
<text transform="translate(40.2 663.88)" font-family="&quot;Liberation Serif&quot;, serif" font-weight="bold" font-size="7.9" text-anchor="end" fill="#000" stroke="#000" stroke-width="0.21">2.6</text>
<line x1="44.2" y1="649.24" x2="48.2" y2="649.24" stroke="#333" stroke-width="0.8"/>
<text transform="translate(40.2 651.94)" font-family="&quot;Liberation Serif&quot;, serif" font-weight="bold" font-size="7.9" text-anchor="end" fill="#000" stroke="#000" stroke-width="0.21">2.8</text>
<line x1="44.2" y1="637.3" x2="48.2" y2="637.3" stroke="#333" stroke-width="0.8"/>
<text transform="translate(40.2 640)" font-family="&quot;Liberation Serif&quot;, serif" font-weight="bold" font-size="7.9" text-anchor="end" fill="#000" stroke="#000" stroke-width="0.21">3.0</text>
<line x1="44.2" y1="834.2" x2="44.2" y2="831" stroke="#333" stroke-width="0.8"/>
<text transform="translate(44.2 845.6)" font-family="&quot;Liberation Serif&quot;, serif" font-weight="bold" font-size="8" text-anchor="middle" fill="#000" stroke="#000" stroke-width="0.21">4000</text>
<line x1="78.2" y1="834.2" x2="78.2" y2="831" stroke="#333" stroke-width="0.8"/>
<text transform="translate(78.2 845.6)" font-family="&quot;Liberation Serif&quot;, serif" font-weight="bold" font-size="8" text-anchor="middle" fill="#000" stroke="#000" stroke-width="0.21">3500</text>
<line x1="112.2" y1="834.2" x2="112.2" y2="831" stroke="#333" stroke-width="0.8"/>
<text transform="translate(112.2 845.6)" font-family="&quot;Liberation Serif&quot;, serif" font-weight="bold" font-size="8" text-anchor="middle" fill="#000" stroke="#000" stroke-width="0.21">3000</text>
<line x1="146.2" y1="834.2" x2="146.2" y2="831" stroke="#333" stroke-width="0.8"/>
<text transform="translate(146.2 845.6)" font-family="&quot;Liberation Serif&quot;, serif" font-weight="bold" font-size="8" text-anchor="middle" fill="#000" stroke="#000" stroke-width="0.21">2500</text>
<line x1="180.2" y1="834.2" x2="180.2" y2="831" stroke="#333" stroke-width="0.8"/>
<text transform="translate(180.2 845.6)" font-family="&quot;Liberation Serif&quot;, serif" font-weight="bold" font-size="8" text-anchor="middle" fill="#000" stroke="#000" stroke-width="0.21">2000</text>
<line x1="214.2" y1="834.2" x2="214.2" y2="831" stroke="#333" stroke-width="0.8"/>
<text transform="translate(214.2 845.6)" font-family="&quot;Liberation Serif&quot;, serif" font-weight="bold" font-size="8" text-anchor="middle" fill="#000" stroke="#000" stroke-width="0.21">1500</text>
<line x1="248.2" y1="834.2" x2="248.2" y2="831" stroke="#333" stroke-width="0.8"/>
<text transform="translate(248.2 845.6)" font-family="&quot;Liberation Serif&quot;, serif" font-weight="bold" font-size="8" text-anchor="middle" fill="#000" stroke="#000" stroke-width="0.21">1000</text>
<line x1="282.2" y1="834.2" x2="282.2" y2="831" stroke="#333" stroke-width="0.8"/>
<text transform="translate(282.2 845.6)" font-family="&quot;Liberation Serif&quot;, serif" font-weight="bold" font-size="8" text-anchor="middle" fill="#000" stroke="#000" stroke-width="0.21">500</text>
<clipPath id="cp465"><rect x="44.2" y="637.3" width="244.3" height="196.9"/></clipPath>
<g clip-path="url(#cp465)">
<path d="M44.21 686.41C46.05 686.31 52.01 686.15 55.3 685.83C58.58 685.51 61.35 685.45 63.9 684.49C66.45 683.54 68.2 681.78 70.59 680.1C72.98 678.41 75.85 675.86 78.24 674.36C80.63 672.86 82.86 671.81 84.93 671.11C87 670.41 88.6 669.93 90.67 670.15C92.74 670.38 94.97 671.24 97.36 672.45C99.75 673.66 102.62 675.89 105.01 677.42C107.4 678.95 110.11 681.08 111.7 681.63C113.3 682.17 113.61 681.15 114.57 680.67C115.53 680.19 116.32 678.66 117.44 678.76C118.55 678.85 119.51 680.29 121.26 681.24C123.01 682.2 124.93 683.54 127.95 684.49C130.98 685.45 135.92 686.34 139.43 686.98C142.93 687.62 146.12 687.87 148.99 688.32C151.85 688.76 151.61 689.5 156.63 689.66C161.66 689.82 172.82 689.4 179.12 689.27C185.42 689.15 191.23 689.27 194.42 688.89C197.6 688.51 197.13 687.87 198.24 686.98C199.36 686.09 200.22 684.49 201.11 683.54C202 682.58 202.64 681.24 203.59 681.24C204.55 681.24 205.67 682.84 206.85 683.54C208.02 684.24 209.39 684.97 210.67 685.45C211.94 685.93 213.38 686.66 214.49 686.41C215.61 686.15 216.25 684.49 217.36 683.92C218.48 683.35 219.75 682.93 221.19 682.96C222.62 683 224.37 683.63 225.97 684.11C227.56 684.59 229.38 685.42 230.75 685.83C232.12 686.25 233.23 687.14 234.19 686.6C235.14 686.05 235.62 683.66 236.48 682.58C237.34 681.5 238.39 680.73 239.35 680.1C240.31 679.46 241.17 679.84 242.22 678.76C243.27 677.67 244.77 674.07 245.66 673.59C246.55 673.12 246.93 673.91 247.57 675.89C248.21 677.86 248.62 683.06 249.48 685.45C250.34 687.84 251.4 689.27 252.73 690.23C254.07 691.19 255.76 691.34 257.51 691.19C259.27 691.03 261.34 689.85 263.25 689.27C265.16 688.7 266.76 688.22 268.99 687.74C271.22 687.27 274.4 686.31 276.63 686.41C278.87 686.5 280.4 687.58 282.37 688.32C284.35 689.05 287.47 690.39 288.49 690.8" fill="none" stroke="#1a1a1a" stroke-width="1.0" stroke-linejoin="round"/>
<path d="M44.21 702.28C46.05 702.28 51.85 702.34 55.3 702.28C58.74 702.21 61.67 702.34 64.86 701.89C68.04 701.45 71.23 700.36 74.42 699.6C77.6 698.83 81.11 697.91 83.98 697.3C86.85 696.7 89.39 696.09 91.63 695.97C93.86 695.84 95.13 696.12 97.36 696.54C99.59 696.95 102.52 697.81 105.01 698.45C107.5 699.09 110.68 700.24 112.28 700.36C113.87 700.49 113.77 699.73 114.57 699.22C115.37 698.71 116.1 697.3 117.06 697.3C118.01 697.3 118.49 698.58 120.31 699.22C122.12 699.85 124.77 700.68 127.95 701.13C131.14 701.57 135.92 701.7 139.43 701.89C142.93 702.08 146.12 702.08 148.99 702.28C151.85 702.47 151.61 702.98 156.63 703.04C161.66 703.1 172.82 702.72 179.12 702.66C185.42 702.59 190.91 702.91 194.42 702.66C197.92 702.4 198.62 701.64 200.15 701.13C201.68 700.62 202.32 699.6 203.59 699.6C204.87 699.6 206.46 700.78 207.8 701.13C209.14 701.48 210.35 701.77 211.63 701.7C212.9 701.64 214.17 701.1 215.45 700.75C216.72 700.4 217.68 699.73 219.27 699.6C220.87 699.47 223.1 699.79 225.01 699.98C226.92 700.17 229.15 700.62 230.75 700.75C232.34 700.87 233.45 701.06 234.57 700.75C235.69 700.43 236.32 699.31 237.44 698.83C238.55 698.36 239.89 698.45 241.26 697.88C242.63 697.3 244.54 695.39 245.66 695.39C246.78 695.39 247.09 696.86 247.95 697.88C248.81 698.9 249.23 700.71 250.82 701.51C252.42 702.31 255.44 702.66 257.51 702.66C259.59 702.66 261.34 701.83 263.25 701.51C265.16 701.19 266.76 701 268.99 700.75C271.22 700.49 274.4 699.92 276.63 699.98C278.87 700.04 280.4 700.75 282.37 701.13C284.35 701.51 287.47 702.08 288.49 702.28" fill="none" stroke="#d03a3a" stroke-width="1.0" stroke-linejoin="round"/>
<path d="M44.21 720.25C46.05 720.25 51.85 720.31 55.3 720.25C58.74 720.18 61.67 720.31 64.86 719.87C68.04 719.42 71.23 718.37 74.42 717.57C77.6 716.78 81.11 715.76 83.98 715.09C86.85 714.42 89.39 713.72 91.63 713.56C93.86 713.4 95.13 713.72 97.36 714.13C99.59 714.54 102.52 715.34 105.01 716.04C107.5 716.74 110.68 718.15 112.28 718.34C113.87 718.53 113.77 717.7 114.57 717.19C115.37 716.68 116.1 715.28 117.06 715.28C118.01 715.28 118.49 716.55 120.31 717.19C122.12 717.83 124.77 718.66 127.95 719.1C131.14 719.55 135.92 719.67 139.43 719.87C142.93 720.06 146.12 720.06 148.99 720.25C151.85 720.44 151.61 720.95 156.63 721.01C161.66 721.08 172.82 720.76 179.12 720.63C185.42 720.5 190.91 720.5 194.42 720.25C197.92 719.99 198.62 719.55 200.15 719.1C201.68 718.66 202.32 717.6 203.59 717.57C204.87 717.54 206.46 718.59 207.8 718.91C209.14 719.23 210.35 719.58 211.63 719.48C212.9 719.39 214.17 718.66 215.45 718.34C216.72 718.02 217.68 717.64 219.27 717.57C220.87 717.51 223.1 717.79 225.01 717.95C226.92 718.11 229.15 718.46 230.75 718.53C232.34 718.59 233.45 718.59 234.57 718.34C235.69 718.08 236.32 717.38 237.44 717C238.55 716.62 239.89 716.65 241.26 716.04C242.63 715.44 244.54 713.43 245.66 713.37C246.78 713.3 247.09 714.58 247.95 715.66C248.81 716.74 249.23 719.01 250.82 719.87C252.42 720.73 255.44 720.89 257.51 720.82C259.59 720.76 261.34 719.8 263.25 719.48C265.16 719.17 266.76 719.1 268.99 718.91C271.22 718.72 274.4 718.3 276.63 718.34C278.87 718.37 280.4 718.85 282.37 719.1C284.35 719.36 287.47 719.74 288.49 719.87" fill="none" stroke="#3535e0" stroke-width="1.0" stroke-linejoin="round"/>
<path d="M44.21 749.5C46.05 749.34 52.01 749.09 55.3 748.55C58.58 748.01 61.35 748.16 63.9 746.25C66.45 744.34 68.2 740.36 70.59 737.07C72.98 733.79 76.01 729.17 78.24 726.56C80.47 723.95 82.22 722.45 83.98 721.4C85.73 720.34 87.16 720.25 88.76 720.25C90.35 720.25 91.78 720.34 93.54 721.4C95.29 722.45 97.2 724.26 99.27 726.56C101.34 728.85 103.8 732.84 105.97 735.16C108.13 737.49 110.84 739.94 112.28 740.52C113.71 741.09 113.71 739.34 114.57 738.6C115.43 737.87 116.48 736.05 117.44 736.12C118.39 736.18 119.03 737.81 120.31 738.99C121.58 740.17 122.54 741.98 125.09 743.19C127.64 744.4 131.94 745.42 135.6 746.25C139.27 747.08 143.57 747.53 147.07 748.16C150.58 748.8 151.29 749.95 156.63 750.08C161.98 750.2 172.82 749.18 179.12 748.93C185.42 748.67 191.23 748.99 194.42 748.55C197.6 748.1 197.13 747.69 198.24 746.25C199.36 744.82 200.22 741.63 201.11 739.94C202 738.25 202.64 736.12 203.59 736.12C204.55 736.12 205.67 738.83 206.85 739.94C208.02 741.06 209.55 742.08 210.67 742.81C211.78 743.54 212.42 744.82 213.54 744.34C214.65 743.86 216.25 740.9 217.36 739.94C218.48 738.99 218.95 738.6 220.23 738.6C221.5 738.6 223.42 739.24 225.01 739.94C226.6 740.64 228.36 742.08 229.79 742.81C231.22 743.54 232.5 745.46 233.61 744.34C234.73 743.22 235.53 738.13 236.48 736.12C237.44 734.11 238.39 733.41 239.35 732.29C240.31 731.18 241.17 731.43 242.22 729.43C243.27 727.42 244.77 721.2 245.66 720.25C246.55 719.29 246.93 720.57 247.57 723.69C248.21 726.81 248.62 735 249.48 738.99C250.34 742.97 251.4 745.93 252.73 747.59C254.07 749.25 255.76 749.25 257.51 748.93C259.27 748.61 261.34 746.63 263.25 745.68C265.16 744.72 266.76 744.05 268.99 743.19C271.22 742.33 274.4 740.52 276.63 740.52C278.87 740.52 280.4 742.24 282.37 743.19C284.35 744.15 287.47 745.74 288.49 746.25" fill="none" stroke="#d83ad8" stroke-width="1.0" stroke-linejoin="round"/>
<path d="M44.21 773.4C46.05 773.15 52.01 772.57 55.3 771.87C58.58 771.17 61.35 771.17 63.9 769.2C66.45 767.22 68.2 763.14 70.59 760.02C72.98 756.9 76.01 752.69 78.24 750.46C80.47 748.23 82.13 747.43 83.98 746.63C85.83 745.84 87.42 745.52 89.33 745.68C91.24 745.84 93.47 746.48 95.45 747.59C97.43 748.71 99.27 750.46 101.19 752.37C103.1 754.28 105.07 757.09 106.92 759.06C108.77 761.04 111 763.81 112.28 764.23C113.55 764.64 113.71 762.73 114.57 761.55C115.43 760.37 116.48 757.09 117.44 757.15C118.39 757.21 119.03 760.34 120.31 761.93C121.58 763.52 122.54 765.44 125.09 766.71C127.64 767.99 131.94 768.72 135.6 769.58C139.27 770.44 143.57 771.08 147.07 771.87C150.58 772.67 151.29 774.17 156.63 774.36C161.98 774.55 172.82 773.44 179.12 773.02C185.42 772.61 191.23 772.51 194.42 771.87C197.6 771.24 197.13 770.69 198.24 769.2C199.36 767.7 200.22 764.58 201.11 762.89C202 761.2 202.64 759.06 203.59 759.06C204.55 759.06 205.67 761.84 206.85 762.89C208.02 763.94 209.55 764.64 210.67 765.37C211.78 766.11 212.42 767.7 213.54 767.28C214.65 766.87 216.25 763.84 217.36 762.89C218.48 761.93 218.95 761.55 220.23 761.55C221.5 761.55 223.42 762.25 225.01 762.89C226.6 763.52 228.36 764.74 229.79 765.37C231.22 766.01 232.5 767.99 233.61 766.71C234.73 765.44 235.53 759.64 236.48 757.72C237.44 755.81 238.39 756.13 239.35 755.24C240.31 754.35 241.17 754.19 242.22 752.37C243.27 750.55 244.77 745.14 245.66 744.34C246.55 743.54 246.93 744.66 247.57 747.59C248.21 750.52 248.62 758.01 249.48 761.93C250.34 765.85 251.4 769.36 252.73 771.11C254.07 772.86 255.76 772.7 257.51 772.45C259.27 772.19 261.34 770.44 263.25 769.58C265.16 768.72 266.76 768.18 268.99 767.28C271.22 766.39 274.4 764.42 276.63 764.23C278.87 764.03 280.4 765.18 282.37 766.14C284.35 767.09 287.47 769.32 288.49 769.96" fill="none" stroke="#3f8f2f" stroke-width="1.0" stroke-linejoin="round"/>
<path d="M44.21 822.16C45.42 821.84 48.99 821.05 51.47 820.25C53.96 819.45 56.89 818.66 59.12 817.38C61.35 816.11 62.94 816.11 64.86 812.6C66.77 809.09 68.68 802.56 70.59 796.35C72.5 790.13 74.58 780.35 76.33 775.32C78.08 770.28 79.26 768.43 81.11 766.14C82.96 763.84 85.35 761.93 87.42 761.55C89.49 761.17 91.56 761.71 93.54 763.84C95.51 765.98 97.36 770.22 99.27 774.36C101.19 778.5 103.35 784.4 105.01 788.7C106.67 793 108.01 797.69 109.22 800.17C110.43 802.66 111.38 803.93 112.28 803.61C113.17 803.3 113.71 799.95 114.57 798.26C115.43 796.57 116.48 793.48 117.44 793.48C118.39 793.48 118.87 795.71 120.31 798.26C121.74 800.81 124.13 806.39 126.04 808.78C127.95 811.17 129.55 811.23 131.78 812.6C134.01 813.97 136.56 815.72 139.43 817C142.29 818.27 146.12 819.39 148.99 820.25C151.85 821.11 153.21 821.94 156.63 822.16C160.06 822.38 165.81 821.59 169.56 821.59C173.31 821.59 174.98 822.38 179.12 822.16C183.26 821.94 191.23 821.36 194.42 820.25C197.6 819.13 197.13 818.81 198.24 815.47C199.36 812.12 200.22 803.74 201.11 800.17C202 796.6 202.8 794.37 203.59 794.05C204.39 793.73 205.03 796.28 205.89 798.26C206.75 800.24 207.64 804.16 208.76 805.91C209.87 807.66 211.47 809.25 212.58 808.78C213.7 808.3 214.65 804.79 215.45 803.04C216.25 801.29 216.41 798.9 217.36 798.26C218.32 797.62 219.75 798.42 221.19 799.22C222.62 800.01 224.37 801.61 225.97 803.04C227.56 804.47 229.47 806.7 230.75 807.82C232.02 808.94 232.72 811.96 233.61 809.73C234.51 807.5 235.3 798.42 236.1 794.44C236.9 790.45 237.53 787.74 238.39 785.83C239.25 783.92 240.37 785.99 241.26 782.96C242.15 779.94 243.01 771.24 243.75 767.67C244.48 764.1 245.02 762.19 245.66 761.55C246.3 760.91 246.93 759.32 247.57 763.84C248.21 768.37 248.85 780.41 249.48 788.7C250.12 796.99 250.54 808.39 251.4 813.56C252.26 818.72 253.31 818.56 254.65 819.67C255.98 820.79 257.83 821.27 259.43 820.25C261.02 819.23 262.29 815.47 264.21 813.56C266.12 811.64 268.76 810.53 270.9 808.78C273.03 807.02 275.11 803.2 277.02 803.04C278.93 802.88 280.46 805.81 282.37 807.82C284.28 809.83 287.47 813.88 288.49 815.09" fill="none" stroke="#38358f" stroke-width="1.0" stroke-linejoin="round"/>
</g>
<text transform="translate(131.2 651)" font-family="&quot;Liberation Serif&quot;, serif" font-weight="bold" font-size="9.2" text-anchor="start" fill="#000" stroke="#000" stroke-width="0.24">Stomach digestion</text>
<line x1="259.8" y1="644.7" x2="269.4" y2="644.7" stroke="#1a1a1a" stroke-width="1"/>
<text transform="translate(269.9 646.28)" font-family="&quot;Liberation Serif&quot;, serif" font-weight="bold" font-size="4.8" text-anchor="start" fill="#000" stroke="#000" stroke-width="0.12">F1</text>
<line x1="259.8" y1="650.57" x2="269.4" y2="650.57" stroke="#d03a3a" stroke-width="1"/>
<text transform="translate(269.9 652.15)" font-family="&quot;Liberation Serif&quot;, serif" font-weight="bold" font-size="4.8" text-anchor="start" fill="#000" stroke="#000" stroke-width="0.12">F2</text>
<line x1="259.8" y1="656.44" x2="269.4" y2="656.44" stroke="#3535e0" stroke-width="1"/>
<text transform="translate(269.9 658.02)" font-family="&quot;Liberation Serif&quot;, serif" font-weight="bold" font-size="4.8" text-anchor="start" fill="#000" stroke="#000" stroke-width="0.12">F3</text>
<line x1="259.8" y1="662.31" x2="269.4" y2="662.31" stroke="#d83ad8" stroke-width="1"/>
<text transform="translate(269.9 663.89)" font-family="&quot;Liberation Serif&quot;, serif" font-weight="bold" font-size="4.8" text-anchor="start" fill="#000" stroke="#000" stroke-width="0.12">NF1</text>
<line x1="259.8" y1="668.18" x2="269.4" y2="668.18" stroke="#3f8f2f" stroke-width="1"/>
<text transform="translate(269.9 669.76)" font-family="&quot;Liberation Serif&quot;, serif" font-weight="bold" font-size="4.8" text-anchor="start" fill="#000" stroke="#000" stroke-width="0.12">NF2</text>
<line x1="259.8" y1="674.05" x2="269.4" y2="674.05" stroke="#38358f" stroke-width="1"/>
<text transform="translate(269.9 675.63)" font-family="&quot;Liberation Serif&quot;, serif" font-weight="bold" font-size="4.8" text-anchor="start" fill="#000" stroke="#000" stroke-width="0.12">NF3</text>
<text transform="translate(166.35 860.2)" font-family="&quot;Liberation Serif&quot;, serif" font-weight="bold" font-size="9.2" text-anchor="middle" fill="#000" stroke="#000" stroke-width="0.24">Wavenumber (cm<tspan font-size="5" dy="-3.5">-1</tspan><tspan dy="3.5">)</tspan></text>
<text transform="translate(24.3 730) rotate(-90)" font-family="&quot;Liberation Serif&quot;, serif" font-weight="bold" font-size="9.2" text-anchor="middle" fill="#000" stroke="#000" stroke-width="0.24">Absorbance</text>
</g>
<g>
<rect x="348.6" y="634.8" width="247.5" height="199.4" fill="none" stroke="#333" stroke-width="0.9"/>
<line x1="348.6" y1="830.4" x2="352.6" y2="830.4" stroke="#333" stroke-width="0.8"/>
<text transform="translate(344.6 833.1)" font-family="&quot;Liberation Serif&quot;, serif" font-weight="bold" font-size="7.9" text-anchor="end" fill="#000" stroke="#000" stroke-width="0.21">0.0</text>
<line x1="348.6" y1="814.78" x2="352.6" y2="814.78" stroke="#333" stroke-width="0.8"/>
<text transform="translate(344.6 817.48)" font-family="&quot;Liberation Serif&quot;, serif" font-weight="bold" font-size="7.9" text-anchor="end" fill="#000" stroke="#000" stroke-width="0.21">0.2</text>
<line x1="348.6" y1="799.16" x2="352.6" y2="799.16" stroke="#333" stroke-width="0.8"/>
<text transform="translate(344.6 801.86)" font-family="&quot;Liberation Serif&quot;, serif" font-weight="bold" font-size="7.9" text-anchor="end" fill="#000" stroke="#000" stroke-width="0.21">0.4</text>
<line x1="348.6" y1="783.54" x2="352.6" y2="783.54" stroke="#333" stroke-width="0.8"/>
<text transform="translate(344.6 786.24)" font-family="&quot;Liberation Serif&quot;, serif" font-weight="bold" font-size="7.9" text-anchor="end" fill="#000" stroke="#000" stroke-width="0.21">0.6</text>
<line x1="348.6" y1="767.92" x2="352.6" y2="767.92" stroke="#333" stroke-width="0.8"/>
<text transform="translate(344.6 770.62)" font-family="&quot;Liberation Serif&quot;, serif" font-weight="bold" font-size="7.9" text-anchor="end" fill="#000" stroke="#000" stroke-width="0.21">0.8</text>
<line x1="348.6" y1="752.3" x2="352.6" y2="752.3" stroke="#333" stroke-width="0.8"/>
<text transform="translate(344.6 755)" font-family="&quot;Liberation Serif&quot;, serif" font-weight="bold" font-size="7.9" text-anchor="end" fill="#000" stroke="#000" stroke-width="0.21">1.0</text>
<line x1="348.6" y1="736.68" x2="352.6" y2="736.68" stroke="#333" stroke-width="0.8"/>
<text transform="translate(344.6 739.38)" font-family="&quot;Liberation Serif&quot;, serif" font-weight="bold" font-size="7.9" text-anchor="end" fill="#000" stroke="#000" stroke-width="0.21">1.2</text>
<line x1="348.6" y1="721.06" x2="352.6" y2="721.06" stroke="#333" stroke-width="0.8"/>
<text transform="translate(344.6 723.76)" font-family="&quot;Liberation Serif&quot;, serif" font-weight="bold" font-size="7.9" text-anchor="end" fill="#000" stroke="#000" stroke-width="0.21">1.4</text>
<line x1="348.6" y1="705.44" x2="352.6" y2="705.44" stroke="#333" stroke-width="0.8"/>
<text transform="translate(344.6 708.14)" font-family="&quot;Liberation Serif&quot;, serif" font-weight="bold" font-size="7.9" text-anchor="end" fill="#000" stroke="#000" stroke-width="0.21">1.6</text>
<line x1="348.6" y1="689.82" x2="352.6" y2="689.82" stroke="#333" stroke-width="0.8"/>
<text transform="translate(344.6 692.52)" font-family="&quot;Liberation Serif&quot;, serif" font-weight="bold" font-size="7.9" text-anchor="end" fill="#000" stroke="#000" stroke-width="0.21">1.8</text>
<line x1="348.6" y1="674.2" x2="352.6" y2="674.2" stroke="#333" stroke-width="0.8"/>
<text transform="translate(344.6 676.9)" font-family="&quot;Liberation Serif&quot;, serif" font-weight="bold" font-size="7.9" text-anchor="end" fill="#000" stroke="#000" stroke-width="0.21">2.0</text>
<line x1="348.6" y1="658.58" x2="352.6" y2="658.58" stroke="#333" stroke-width="0.8"/>
<text transform="translate(344.6 661.28)" font-family="&quot;Liberation Serif&quot;, serif" font-weight="bold" font-size="7.9" text-anchor="end" fill="#000" stroke="#000" stroke-width="0.21">2.2</text>
<line x1="348.6" y1="642.96" x2="352.6" y2="642.96" stroke="#333" stroke-width="0.8"/>
<text transform="translate(344.6 645.66)" font-family="&quot;Liberation Serif&quot;, serif" font-weight="bold" font-size="7.9" text-anchor="end" fill="#000" stroke="#000" stroke-width="0.21">2.4</text>
<line x1="348.6" y1="834.2" x2="348.6" y2="831" stroke="#333" stroke-width="0.8"/>
<text transform="translate(348.6 845.6)" font-family="&quot;Liberation Serif&quot;, serif" font-weight="bold" font-size="8" text-anchor="middle" fill="#000" stroke="#000" stroke-width="0.21">4000</text>
<line x1="382.9" y1="834.2" x2="382.9" y2="831" stroke="#333" stroke-width="0.8"/>
<text transform="translate(382.9 845.6)" font-family="&quot;Liberation Serif&quot;, serif" font-weight="bold" font-size="8" text-anchor="middle" fill="#000" stroke="#000" stroke-width="0.21">3500</text>
<line x1="417.2" y1="834.2" x2="417.2" y2="831" stroke="#333" stroke-width="0.8"/>
<text transform="translate(417.2 845.6)" font-family="&quot;Liberation Serif&quot;, serif" font-weight="bold" font-size="8" text-anchor="middle" fill="#000" stroke="#000" stroke-width="0.21">3000</text>
<line x1="451.5" y1="834.2" x2="451.5" y2="831" stroke="#333" stroke-width="0.8"/>
<text transform="translate(451.5 845.6)" font-family="&quot;Liberation Serif&quot;, serif" font-weight="bold" font-size="8" text-anchor="middle" fill="#000" stroke="#000" stroke-width="0.21">2500</text>
<line x1="485.8" y1="834.2" x2="485.8" y2="831" stroke="#333" stroke-width="0.8"/>
<text transform="translate(485.8 845.6)" font-family="&quot;Liberation Serif&quot;, serif" font-weight="bold" font-size="8" text-anchor="middle" fill="#000" stroke="#000" stroke-width="0.21">2000</text>
<line x1="520.1" y1="834.2" x2="520.1" y2="831" stroke="#333" stroke-width="0.8"/>
<text transform="translate(520.1 845.6)" font-family="&quot;Liberation Serif&quot;, serif" font-weight="bold" font-size="8" text-anchor="middle" fill="#000" stroke="#000" stroke-width="0.21">1500</text>
<line x1="554.4" y1="834.2" x2="554.4" y2="831" stroke="#333" stroke-width="0.8"/>
<text transform="translate(554.4 845.6)" font-family="&quot;Liberation Serif&quot;, serif" font-weight="bold" font-size="8" text-anchor="middle" fill="#000" stroke="#000" stroke-width="0.21">1000</text>
<line x1="588.7" y1="834.2" x2="588.7" y2="831" stroke="#333" stroke-width="0.8"/>
<text transform="translate(588.7 845.6)" font-family="&quot;Liberation Serif&quot;, serif" font-weight="bold" font-size="8" text-anchor="middle" fill="#000" stroke="#000" stroke-width="0.21">500</text>
<clipPath id="cp534"><rect x="348.6" y="634.8" width="247.5" height="199.4"/></clipPath>
<g clip-path="url(#cp534)">
<path d="M348.6 696.92C350.36 696.76 355.62 696.6 359.12 695.97C362.63 695.33 366.45 695.49 369.64 693.1C372.82 690.71 375.21 685.29 378.24 681.63C381.27 677.96 384.93 673.44 387.8 671.11C390.67 668.78 392.9 667.67 395.45 667.67C398 667.67 400.55 669.26 403.1 671.11C405.65 672.96 408.51 676.53 410.75 678.76C412.98 680.99 415.05 684.17 416.48 684.49C417.92 684.81 418.33 682.58 419.35 680.67C420.37 678.76 421.49 673.5 422.6 673.02C423.72 672.54 424.67 675.16 426.04 677.8C427.41 680.45 428.27 686.5 430.82 688.89C433.37 691.28 437.99 691.12 441.34 692.14C444.68 693.16 448.03 694.21 450.9 695.01C453.77 695.81 456.63 696.76 458.55 696.92C460.46 697.08 461.1 695.9 462.37 695.97C463.65 696.03 462.71 697.21 466.2 697.3C469.68 697.4 477.9 696.76 483.3 696.54C488.7 696.32 495.25 696.86 498.59 695.97C501.94 695.07 501.94 693.1 503.37 691.19C504.81 689.27 506.02 686.31 507.2 684.49C508.38 682.68 509.33 680.45 510.45 680.29C511.56 680.13 512.74 682.84 513.89 683.54C515.04 684.24 516.22 683.86 517.33 684.49C518.45 685.13 519.56 687.36 520.58 687.36C521.6 687.36 522.49 685.29 523.45 684.49C524.41 683.7 525.2 682.58 526.32 682.58C527.43 682.58 528.71 683.86 530.14 684.49C531.58 685.13 533.17 685.67 534.92 686.41C536.67 687.14 539.22 689.21 540.66 688.89C542.09 688.57 542.41 686.02 543.53 684.49C544.64 682.96 546.23 681.15 547.35 679.71C548.47 678.28 549.33 677.23 550.22 675.89C551.11 674.55 551.91 671.84 552.7 671.68C553.5 671.52 554.14 672 555 674.93C555.86 677.86 556.75 685.93 557.87 689.27C558.98 692.62 560.26 693.89 561.69 695.01C563.12 696.12 564.88 696.44 566.47 695.97C568.06 695.49 569.5 693.1 571.25 692.14C573 691.19 574.76 690.87 576.99 690.23C579.22 689.59 582.4 688.22 584.63 688.32C586.87 688.41 588.46 689.62 590.37 690.8C592.28 691.98 595.15 694.63 596.11 695.39" fill="none" stroke="#1a1a1a" stroke-width="1.0" stroke-linejoin="round"/>
<path d="M348.6 735.54C350.36 735.32 355.62 735.07 359.12 734.21C362.63 733.35 366.45 735 369.64 730.38C372.82 725.76 375.53 713.33 378.24 706.48C380.95 699.63 383.18 692.94 385.89 689.27C388.6 685.61 391.94 684.49 394.49 684.49C397.04 684.49 398.8 685.93 401.19 689.27C403.58 692.62 406.28 700.04 408.83 704.57C411.38 709.09 414.73 715.15 416.48 716.42C418.23 717.7 418.33 714.58 419.35 712.22C420.37 709.86 421.49 702.91 422.6 702.28C423.72 701.64 424.58 704.82 426.04 708.39C427.51 711.96 428.85 720.34 431.4 723.69C433.95 727.04 438.09 727.04 441.34 728.47C444.59 729.9 448.03 731.18 450.9 732.29C453.77 733.41 456.63 734.94 458.55 735.16C460.46 735.39 461.1 733.47 462.37 733.63C463.65 733.79 462.71 735.86 466.2 736.12C469.68 736.37 477.9 735.39 483.3 735.16C488.7 734.94 495.41 735.74 498.59 734.78C501.78 733.82 501.14 731.91 502.42 729.43C503.69 726.94 504.97 723.05 506.24 719.87C507.52 716.68 508.95 711.1 510.07 710.31C511.18 709.51 511.82 713.81 512.93 715.09C514.05 716.36 515.48 716.52 516.76 717.95C518.03 719.39 519.47 723.69 520.58 723.69C521.7 723.69 522.65 719.48 523.45 717.95C524.25 716.42 524.25 714.51 525.36 714.51C526.48 714.51 528.55 716.74 530.14 717.95C531.73 719.17 533.07 720.66 534.92 721.78C536.77 722.89 539.64 726.24 541.23 724.65C542.82 723.05 543.3 715.56 544.48 712.22C545.66 708.87 547.29 706.96 548.31 704.57C549.33 702.18 549.9 700.04 550.6 697.88C551.3 695.71 551.78 691.41 552.51 691.57C553.25 691.73 554.17 692.52 555 698.83C555.83 705.14 556.37 723.53 557.48 729.43C558.6 735.32 560.35 733.25 561.69 734.21C563.03 735.16 563.92 735.96 565.51 735.16C567.11 734.37 569.18 731.18 571.25 729.43C573.32 727.67 575.71 725.86 577.94 724.65C580.17 723.44 582.56 721.84 584.63 722.16C586.71 722.48 588.46 724.55 590.37 726.56C592.28 728.57 595.15 732.93 596.11 734.21" fill="none" stroke="#d03a3a" stroke-width="1.0" stroke-linejoin="round"/>
<path d="M348.6 752.37C350.36 752.31 355.62 752.47 359.12 751.99C362.63 751.51 366.45 752.15 369.64 749.5C372.82 746.86 375.53 740.1 378.24 736.12C380.95 732.14 383.18 727.9 385.89 725.6C388.6 723.31 391.94 722.35 394.49 722.35C397.04 722.35 398.8 723.47 401.19 725.6C403.58 727.74 406.28 732.36 408.83 735.16C411.38 737.97 414.73 741.63 416.48 742.43C418.23 743.22 418.33 741.63 419.35 739.94C420.37 738.25 421.49 732.77 422.6 732.29C423.72 731.82 424.58 734.75 426.04 737.07C427.51 739.4 428.85 744.28 431.4 746.25C433.95 748.23 438.09 748.16 441.34 748.93C444.59 749.69 448.03 750.27 450.9 750.84C453.77 751.41 456.63 752.43 458.55 752.37C460.46 752.31 461.1 750.46 462.37 750.46C463.65 750.46 462.71 752.12 466.2 752.37C469.68 752.63 477.9 752.24 483.3 751.99C488.7 751.73 495.25 751.8 498.59 750.84C501.94 749.89 501.94 748.07 503.37 746.25C504.81 744.44 506.02 741.63 507.2 739.94C508.38 738.25 509.33 736.12 510.45 736.12C511.56 736.12 512.74 739.15 513.89 739.94C515.04 740.74 516.22 740.17 517.33 740.9C518.45 741.63 519.56 744.18 520.58 744.34C521.6 744.5 522.49 742.59 523.45 741.85C524.41 741.12 525.04 739.94 526.32 739.94C527.59 739.94 529.5 741.22 531.1 741.85C532.69 742.49 534.19 743.13 535.88 743.77C537.57 744.4 539.8 746.22 541.23 745.68C542.67 745.14 543.3 742.11 544.48 740.52C545.66 738.92 547.03 737.9 548.31 736.12C549.58 734.33 551.01 730.13 552.13 729.81C553.25 729.49 554.04 730.83 555 734.21C555.95 737.58 556.75 747.21 557.87 750.08C558.98 752.94 560.26 751.29 561.69 751.41C563.12 751.54 564.88 751.32 566.47 750.84C568.06 750.36 569.34 749.31 571.25 748.55C573.16 747.78 575.71 746.89 577.94 746.25C580.17 745.62 582.56 744.6 584.63 744.72C586.71 744.85 588.46 745.9 590.37 747.02C592.28 748.13 595.15 750.68 596.11 751.41" fill="none" stroke="#3535e0" stroke-width="1.0" stroke-linejoin="round"/>
<path d="M348.6 774.74C350.36 774.52 355.62 774.1 359.12 773.4C362.63 772.7 366.45 773.72 369.64 770.54C372.82 767.35 375.53 758.9 378.24 754.28C380.95 749.66 383.34 745.36 385.89 742.81C388.44 740.26 390.99 738.99 393.54 738.99C396.09 738.99 398.64 740.58 401.19 742.81C403.73 745.04 406.28 749.18 408.83 752.37C411.38 755.56 414.73 760.59 416.48 761.93C418.23 763.27 418.33 761.36 419.35 760.4C420.37 759.45 421.49 756.26 422.6 756.2C423.72 756.13 424.51 758.17 426.04 760.02C427.57 761.87 429.23 765.53 431.78 767.28C434.33 769.04 438.15 769.58 441.34 770.54C444.53 771.49 448.03 772.35 450.9 773.02C453.77 773.69 453.15 774.33 458.55 774.55C463.95 774.77 476.62 774.49 483.3 774.36C489.97 774.23 495.25 774.74 498.59 773.79C501.94 772.83 501.94 770.6 503.37 768.62C504.81 766.65 506.02 763.84 507.2 761.93C508.38 760.02 509.33 757.31 510.45 757.15C511.56 756.99 512.74 760.02 513.89 760.98C515.04 761.93 516.22 762.03 517.33 762.89C518.45 763.75 519.56 766.14 520.58 766.14C521.6 766.14 522.49 763.84 523.45 762.89C524.41 761.93 525.04 760.4 526.32 760.4C527.59 760.4 529.5 761.99 531.1 762.89C532.69 763.78 534.19 764.89 535.88 765.76C537.57 766.62 539.8 768.69 541.23 768.05C542.67 767.41 543.3 764.07 544.48 761.93C545.66 759.8 547.03 758.17 548.31 755.24C549.58 752.31 551.01 745.14 552.13 744.34C553.25 743.54 554.04 745.93 555 750.46C555.95 754.98 556.75 767.51 557.87 771.49C558.98 775.47 560.42 773.98 561.69 774.36C562.96 774.74 563.92 774.58 565.51 773.79C567.11 772.99 569.18 770.76 571.25 769.58C573.32 768.4 575.71 767.51 577.94 766.71C580.17 765.91 582.56 764.64 584.63 764.8C586.71 764.96 588.46 766.3 590.37 767.67C592.28 769.04 595.15 772.13 596.11 773.02" fill="none" stroke="#d83ad8" stroke-width="1.0" stroke-linejoin="round"/>
<path d="M348.6 806.86C350.36 806.55 355.62 806.23 359.12 804.95C362.63 803.68 366.45 803.52 369.64 799.22C372.82 794.91 375.53 784.72 378.24 779.14C380.95 773.56 383.18 768.69 385.89 765.76C388.6 762.82 391.94 761.55 394.49 761.55C397.04 761.55 398.8 763.14 401.19 765.76C403.58 768.37 406.28 773.47 408.83 777.23C411.38 780.99 414.73 786.79 416.48 788.32C418.23 789.85 418.33 787.93 419.35 786.41C420.37 784.88 421.49 779.55 422.6 779.14C423.72 778.73 424.58 781.37 426.04 783.92C427.51 786.47 428.85 792.05 431.4 794.44C433.95 796.83 438.09 796.99 441.34 798.26C444.59 799.53 448.03 800.75 450.9 802.08C453.77 803.42 456.63 806.29 458.55 806.29C460.46 806.29 461.1 802.08 462.37 802.08C463.65 802.08 462.71 805.59 466.2 806.29C469.68 806.99 477.9 806.35 483.3 806.29C488.7 806.23 495.25 806.93 498.59 805.91C501.94 804.89 501.94 803.04 503.37 800.17C504.81 797.3 506.02 791.73 507.2 788.7C508.38 785.67 509.33 782.33 510.45 782.01C511.56 781.69 512.74 785.67 513.89 786.79C515.04 787.9 516.22 787.49 517.33 788.7C518.45 789.91 519.56 794.05 520.58 794.05C521.6 794.05 522.65 789.97 523.45 788.7C524.25 787.43 524.25 786.25 525.36 786.41C526.48 786.56 528.55 788.48 530.14 789.66C531.73 790.83 533.07 792.21 534.92 793.48C536.77 794.75 539.64 798.74 541.23 797.3C542.82 795.87 543.3 787.9 544.48 784.88C545.66 781.85 547.29 781.37 548.31 779.14C549.33 776.91 549.9 773.88 550.6 771.49C551.3 769.1 551.78 764.8 552.51 764.8C553.25 764.8 554.17 765.91 555 771.49C555.83 777.07 556.37 792.84 557.48 798.26C558.6 803.68 560.35 802.88 561.69 804C563.03 805.11 563.92 805.75 565.51 804.95C567.11 804.16 569.18 800.97 571.25 799.22C573.32 797.46 575.71 795.71 577.94 794.44C580.17 793.16 582.56 791.5 584.63 791.57C586.71 791.63 588.46 793.22 590.37 794.82C592.28 796.41 595.15 800.08 596.11 801.13" fill="none" stroke="#3f8f2f" stroke-width="1.0" stroke-linejoin="round"/>
<path d="M348.6 826.56C350.36 826.3 355.62 825.92 359.12 825.03C362.63 824.14 366.45 825.03 369.64 821.2C372.82 817.38 375.53 807.5 378.24 802.08C380.95 796.67 383.5 791.82 385.89 788.7C388.28 785.58 390.35 783.66 392.58 783.35C394.81 783.03 396.88 784.3 399.27 786.79C401.66 789.27 404.75 794.5 406.92 798.26C409.09 802.02 410.68 806.55 412.28 809.35C413.87 812.15 415.3 814.38 416.48 815.09C417.66 815.79 418.33 814.83 419.35 813.56C420.37 812.28 421.49 807.92 422.6 807.44C423.72 806.96 424.58 808.55 426.04 810.69C427.51 812.82 428.85 818.18 431.4 820.25C433.95 822.32 438.09 822.26 441.34 823.12C444.59 823.98 447.71 824.84 450.9 825.41C454.09 825.98 455.06 826.46 460.46 826.56C465.86 826.65 476.94 826.08 483.3 825.98C489.65 825.89 495.25 826.3 498.59 825.98C501.94 825.67 501.94 825.83 503.37 824.07C504.81 822.32 506.02 818.11 507.2 815.47C508.38 812.82 509.33 808.68 510.45 808.2C511.56 807.72 512.74 811.64 513.89 812.6C515.04 813.56 516.22 813.14 517.33 813.94C518.45 814.74 519.56 817.6 520.58 817.38C521.6 817.16 522.49 813.72 523.45 812.6C524.41 811.49 525.04 810.53 526.32 810.69C527.59 810.85 529.5 812.6 531.1 813.56C532.69 814.51 534.19 815.31 535.88 816.42C537.57 817.54 539.8 821.36 541.23 820.25C542.67 819.13 543.3 812.6 544.48 809.73C545.66 806.86 547.29 805.27 548.31 803.04C549.33 800.81 549.9 798.8 550.6 796.35C551.3 793.89 551.78 788.8 552.51 788.32C553.25 787.84 554.17 788.32 555 793.48C555.83 798.64 556.69 814.35 557.48 819.29C558.28 824.23 558.44 822.48 559.78 823.12C561.12 823.75 563.6 823.75 565.51 823.12C567.43 822.48 569.18 820.63 571.25 819.29C573.32 817.95 575.71 816.3 577.94 815.09C580.17 813.88 582.56 812.12 584.63 812.03C586.71 811.93 588.46 813.24 590.37 814.51C592.28 815.79 595.15 818.81 596.11 819.67" fill="none" stroke="#38358f" stroke-width="1.0" stroke-linejoin="round"/>
</g>
<text transform="translate(431 648.3)" font-family="&quot;Liberation Serif&quot;, serif" font-weight="bold" font-size="9.3" text-anchor="start" fill="#000" stroke="#000" stroke-width="0.24">Intestinal digestion</text>
<line x1="567.1" y1="642.2" x2="580.9" y2="642.2" stroke="#1a1a1a" stroke-width="1"/>
<text transform="translate(582.6 643.85)" font-family="&quot;Liberation Serif&quot;, serif" font-weight="bold" font-size="5" text-anchor="start" fill="#000" stroke="#000" stroke-width="0.13">F1</text>
<line x1="567.1" y1="649.86" x2="580.9" y2="649.86" stroke="#d03a3a" stroke-width="1"/>
<text transform="translate(582.6 651.51)" font-family="&quot;Liberation Serif&quot;, serif" font-weight="bold" font-size="5" text-anchor="start" fill="#000" stroke="#000" stroke-width="0.13">F2</text>
<line x1="567.1" y1="657.52" x2="580.9" y2="657.52" stroke="#3535e0" stroke-width="1"/>
<text transform="translate(582.6 659.17)" font-family="&quot;Liberation Serif&quot;, serif" font-weight="bold" font-size="5" text-anchor="start" fill="#000" stroke="#000" stroke-width="0.13">F3</text>
<line x1="567.1" y1="665.18" x2="580.9" y2="665.18" stroke="#d83ad8" stroke-width="1"/>
<text transform="translate(582.6 666.83)" font-family="&quot;Liberation Serif&quot;, serif" font-weight="bold" font-size="5" text-anchor="start" fill="#000" stroke="#000" stroke-width="0.13">NF1</text>
<line x1="567.1" y1="672.84" x2="580.9" y2="672.84" stroke="#3f8f2f" stroke-width="1"/>
<text transform="translate(582.6 674.49)" font-family="&quot;Liberation Serif&quot;, serif" font-weight="bold" font-size="5" text-anchor="start" fill="#000" stroke="#000" stroke-width="0.13">NF2</text>
<line x1="567.1" y1="680.5" x2="580.9" y2="680.5" stroke="#38358f" stroke-width="1"/>
<text transform="translate(582.6 682.15)" font-family="&quot;Liberation Serif&quot;, serif" font-weight="bold" font-size="5" text-anchor="start" fill="#000" stroke="#000" stroke-width="0.13">NF3</text>
<text transform="translate(472.35 860.2)" font-family="&quot;Liberation Serif&quot;, serif" font-weight="bold" font-size="9.2" text-anchor="middle" fill="#000" stroke="#000" stroke-width="0.24">Wavenumber (cm<tspan font-size="5" dy="-3.5">-1</tspan><tspan dy="3.5">)</tspan></text>
<text transform="translate(331.5 727) rotate(-90)" font-family="&quot;Liberation Serif&quot;, serif" font-weight="bold" font-size="9.2" text-anchor="middle" fill="#000" stroke="#000" stroke-width="0.24">Absorbance</text>
</g>
<text transform="translate(1.6 409) scale(0.9 1)" font-family="&quot;Liberation Serif&quot;, serif" font-weight="bold" font-size="26" text-anchor="start" fill="#000" stroke="#000" stroke-width="0.3">B</text>
<g>
<rect x="60.85" y="993.01" width="12.3" height="7.99" fill="#c0291e"/>
<rect x="60.85" y="982.16" width="12.3" height="10.85" fill="#e0584d"/>
<rect x="60.85" y="915.68" width="12.3" height="66.49" fill="#eb968c"/>
<rect x="60.85" y="914.2" width="12.3" height="1.48" fill="#f9e2df"/>
<line x1="60.85" y1="993.01" x2="73.15" y2="993.01" stroke="#111" stroke-width="1.25"/>
<line x1="60.85" y1="982.16" x2="73.15" y2="982.16" stroke="#111" stroke-width="1.25"/>
<line x1="60.85" y1="915.68" x2="73.15" y2="915.68" stroke="#111" stroke-width="1.25"/>
<path d="M67 993.01V992.15M63.2 992.15H70.8" stroke="#111" stroke-width="0.8" fill="none"/>
<path d="M67 982.16V980.86M63.2 980.86H70.8" stroke="#111" stroke-width="0.8" fill="none"/>
<path d="M67 915.68V914.37M63.2 914.37H70.8" stroke="#111" stroke-width="0.8" fill="none"/>
<path d="M67 914.2V912.9M63.2 912.9H70.8" stroke="#111" stroke-width="0.8" fill="none"/>
<path d="M67 1001V997.8" stroke="#111" stroke-width="1.3"/>
<rect x="60.85" y="915.05" width="12.3" height="85.95" fill="none" stroke="#111" stroke-width="1.7"/>
<text transform="translate(68.8 1007.3) rotate(-45)" font-family="&quot;Liberation Sans&quot;, sans-serif" font-weight="bold" font-size="8.2" text-anchor="end" fill="#000" stroke="#000" stroke-width="0.21">Control</text>
<rect x="82.65" y="988.41" width="12.3" height="12.59" fill="#c0291e"/>
<rect x="82.65" y="953.69" width="12.3" height="34.72" fill="#e0584d"/>
<rect x="82.65" y="922.45" width="12.3" height="31.25" fill="#eb968c"/>
<rect x="82.65" y="914.2" width="12.3" height="8.25" fill="#f9e2df"/>
<line x1="82.65" y1="988.41" x2="94.95" y2="988.41" stroke="#111" stroke-width="1.25"/>
<line x1="82.65" y1="953.69" x2="94.95" y2="953.69" stroke="#111" stroke-width="1.25"/>
<line x1="82.65" y1="922.45" x2="94.95" y2="922.45" stroke="#111" stroke-width="1.25"/>
<path d="M88.8 988.41V987.55M85 987.55H92.6" stroke="#111" stroke-width="0.8" fill="none"/>
<path d="M88.8 953.69V950.66M85 950.66H92.6" stroke="#111" stroke-width="0.8" fill="none"/>
<path d="M88.8 922.45V919.41M85 919.41H92.6" stroke="#111" stroke-width="0.8" fill="none"/>
<path d="M88.8 914.2V912.9M85 912.9H92.6" stroke="#111" stroke-width="0.8" fill="none"/>
<path d="M88.8 1001V997.8" stroke="#111" stroke-width="1.3"/>
<rect x="82.65" y="915.05" width="12.3" height="85.95" fill="none" stroke="#111" stroke-width="1.7"/>
<text transform="translate(90.6 1007.3) rotate(-45)" font-family="&quot;Liberation Sans&quot;, sans-serif" font-weight="bold" font-size="8.2" text-anchor="end" fill="#000" stroke="#000" stroke-width="0.21">Oral</text>
<rect x="104.45" y="981.21" width="12.3" height="19.79" fill="#c0291e"/>
<rect x="104.45" y="958.29" width="12.3" height="22.92" fill="#e0584d"/>
<rect x="104.45" y="926.35" width="12.3" height="31.94" fill="#eb968c"/>
<rect x="104.45" y="914.2" width="12.3" height="12.15" fill="#f9e2df"/>
<line x1="104.45" y1="981.21" x2="116.75" y2="981.21" stroke="#111" stroke-width="1.25"/>
<line x1="104.45" y1="958.29" x2="116.75" y2="958.29" stroke="#111" stroke-width="1.25"/>
<line x1="104.45" y1="926.35" x2="116.75" y2="926.35" stroke="#111" stroke-width="1.25"/>
<path d="M110.6 981.21V979.91M106.8 979.91H114.4" stroke="#111" stroke-width="0.8" fill="none"/>
<path d="M110.6 958.29V956.56M106.8 956.56H114.4" stroke="#111" stroke-width="0.8" fill="none"/>
<path d="M110.6 926.35V923.75M106.8 923.75H114.4" stroke="#111" stroke-width="0.8" fill="none"/>
<path d="M110.6 914.2V912.03M106.8 912.03H114.4" stroke="#111" stroke-width="0.8" fill="none"/>
<path d="M110.6 1001V997.8" stroke="#111" stroke-width="1.3"/>
<rect x="104.45" y="915.05" width="12.3" height="85.95" fill="none" stroke="#111" stroke-width="1.7"/>
<text transform="translate(112.4 1007.3) rotate(-45)" font-family="&quot;Liberation Sans&quot;, sans-serif" font-weight="bold" font-size="8.2" text-anchor="end" fill="#000" stroke="#000" stroke-width="0.21">Stomach</text>
<rect x="126.25" y="976.7" width="12.3" height="24.3" fill="#c0291e"/>
<rect x="126.25" y="957.17" width="12.3" height="19.53" fill="#e0584d"/>
<rect x="126.25" y="926.96" width="12.3" height="30.21" fill="#eb968c"/>
<rect x="126.25" y="914.2" width="12.3" height="12.76" fill="#f9e2df"/>
<line x1="126.25" y1="976.7" x2="138.55" y2="976.7" stroke="#111" stroke-width="1.25"/>
<line x1="126.25" y1="957.17" x2="138.55" y2="957.17" stroke="#111" stroke-width="1.25"/>
<line x1="126.25" y1="926.96" x2="138.55" y2="926.96" stroke="#111" stroke-width="1.25"/>
<path d="M132.4 976.7V974.96M128.6 974.96H136.2" stroke="#111" stroke-width="0.8" fill="none"/>
<path d="M132.4 957.17V955.86M128.6 955.86H136.2" stroke="#111" stroke-width="0.8" fill="none"/>
<path d="M132.4 926.96V925.22M128.6 925.22H136.2" stroke="#111" stroke-width="0.8" fill="none"/>
<path d="M132.4 914.2V911.16M128.6 911.16H136.2" stroke="#111" stroke-width="0.8" fill="none"/>
<path d="M132.4 1001V997.8" stroke="#111" stroke-width="1.3"/>
<rect x="126.25" y="915.05" width="12.3" height="85.95" fill="none" stroke="#111" stroke-width="1.7"/>
<text transform="translate(134.2 1007.3) rotate(-45)" font-family="&quot;Liberation Sans&quot;, sans-serif" font-weight="bold" font-size="8.2" text-anchor="end" fill="#000" stroke="#000" stroke-width="0.21">Intestinal</text>
<path d="M52.4 896.84V1001H147.1" stroke="#111" stroke-width="1.35" fill="none"/>
<line x1="52.4" y1="1001" x2="56" y2="1001" stroke="#111" stroke-width="1.1"/>
<text transform="translate(50.5 1003.8) scale(0.96 1)" font-family="&quot;Liberation Sans&quot;, sans-serif" font-weight="bold" font-size="7.9" text-anchor="end" fill="#000" stroke="#000" stroke-width="0.21">0</text>
<line x1="52.4" y1="983.64" x2="56" y2="983.64" stroke="#111" stroke-width="1.1"/>
<text transform="translate(50.5 986.44) scale(0.96 1)" font-family="&quot;Liberation Sans&quot;, sans-serif" font-weight="bold" font-size="7.9" text-anchor="end" fill="#000" stroke="#000" stroke-width="0.21">20</text>
<line x1="52.4" y1="966.28" x2="56" y2="966.28" stroke="#111" stroke-width="1.1"/>
<text transform="translate(50.5 969.08) scale(0.96 1)" font-family="&quot;Liberation Sans&quot;, sans-serif" font-weight="bold" font-size="7.9" text-anchor="end" fill="#000" stroke="#000" stroke-width="0.21">40</text>
<line x1="52.4" y1="948.92" x2="56" y2="948.92" stroke="#111" stroke-width="1.1"/>
<text transform="translate(50.5 951.72) scale(0.96 1)" font-family="&quot;Liberation Sans&quot;, sans-serif" font-weight="bold" font-size="7.9" text-anchor="end" fill="#000" stroke="#000" stroke-width="0.21">60</text>
<line x1="52.4" y1="931.56" x2="56" y2="931.56" stroke="#111" stroke-width="1.1"/>
<text transform="translate(50.5 934.36) scale(0.96 1)" font-family="&quot;Liberation Sans&quot;, sans-serif" font-weight="bold" font-size="7.9" text-anchor="end" fill="#000" stroke="#000" stroke-width="0.21">80</text>
<line x1="52.4" y1="914.2" x2="56" y2="914.2" stroke="#111" stroke-width="1.1"/>
<text transform="translate(50.5 917) scale(0.96 1)" font-family="&quot;Liberation Sans&quot;, sans-serif" font-weight="bold" font-size="7.9" text-anchor="end" fill="#000" stroke="#000" stroke-width="0.21">100</text>
<line x1="52.4" y1="896.84" x2="56" y2="896.84" stroke="#111" stroke-width="1.1"/>
<text transform="translate(50.5 899.64) scale(0.96 1)" font-family="&quot;Liberation Sans&quot;, sans-serif" font-weight="bold" font-size="7.9" text-anchor="end" fill="#000" stroke="#000" stroke-width="0.21">120</text>
<text transform="translate(101.5 895.8)" font-family="&quot;Liberation Sans&quot;, sans-serif" font-weight="bold" font-size="9" text-anchor="middle" fill="#000" stroke="#000" stroke-width="0.23">F1</text>
<text transform="translate(99.75 1043.2)" font-family="&quot;Liberation Sans&quot;, sans-serif" font-weight="bold" font-size="8.2" text-anchor="middle" fill="#000" stroke="#000" stroke-width="0.21">Digestion stage</text>
<text transform="translate(31.3 976.52) rotate(-90) scale(0.91 1)" font-family="&quot;Liberation Sans&quot;, sans-serif" font-weight="bold" font-size="9.2" text-anchor="start" fill="#000" stroke="#000" stroke-width="0.24">Content<tspan font-weight="normal" dx="7.6">(</tspan>%<tspan font-weight="normal">)</tspan></text>
<clipPath id="cc0"><rect x="0" y="0" width="680" height="1240"/></clipPath>
<g clip-path="url(#cc0)">
<rect x="168.8" y="900.6" width="10.4" height="6" fill="#c0291e" stroke="#111" stroke-width="1.2"/>
<text transform="translate(184.7 906.6)" font-family="&quot;Liberation Sans&quot;, sans-serif" font-weight="normal" font-size="8.5" text-anchor="start" fill="#000">α-helix</text>
<rect x="168.8" y="914.6" width="10.4" height="6" fill="#e0584d" stroke="#111" stroke-width="1.2"/>
<text transform="translate(184.7 920.6)" font-family="&quot;Liberation Sans&quot;, sans-serif" font-weight="normal" font-size="8.5" text-anchor="start" fill="#000">β-sheet</text>
<rect x="168.8" y="928.6" width="10.4" height="6" fill="#eb968c" stroke="#111" stroke-width="1.2"/>
<text transform="translate(184.7 934.6)" font-family="&quot;Liberation Sans&quot;, sans-serif" font-weight="normal" font-size="8.5" text-anchor="start" fill="#000">β-turn</text>
<rect x="168.8" y="942.6" width="10.4" height="6" fill="#f9e2df" stroke="#111" stroke-width="1.2"/>
<text transform="translate(184.7 948.6)" font-family="&quot;Liberation Sans&quot;, sans-serif" font-weight="normal" font-size="8.5" text-anchor="start" fill="#000">Random coil</text>
</g>
</g>
<g>
<rect x="283.95" y="990.34" width="12.4" height="10.26" fill="#c0291e"/>
<rect x="283.95" y="986.33" width="12.4" height="4.01" fill="#e0584d"/>
<rect x="283.95" y="916.13" width="12.4" height="70.2" fill="#eb968c"/>
<rect x="283.95" y="911.4" width="12.4" height="4.73" fill="#f9e2df"/>
<line x1="283.95" y1="990.34" x2="296.35" y2="990.34" stroke="#111" stroke-width="1.25"/>
<line x1="283.95" y1="986.33" x2="296.35" y2="986.33" stroke="#111" stroke-width="1.25"/>
<line x1="283.95" y1="916.13" x2="296.35" y2="916.13" stroke="#111" stroke-width="1.25"/>
<path d="M290.15 990.34V987.67M286.35 987.67H293.95" stroke="#111" stroke-width="0.8" fill="none"/>
<path d="M290.15 986.33V983.65M286.35 983.65H293.95" stroke="#111" stroke-width="0.8" fill="none"/>
<path d="M290.15 916.13V913.45M286.35 913.45H293.95" stroke="#111" stroke-width="0.8" fill="none"/>
<path d="M290.15 911.4V910.06M286.35 910.06H293.95" stroke="#111" stroke-width="0.8" fill="none"/>
<path d="M290.15 1000.6V997.4" stroke="#111" stroke-width="1.3"/>
<rect x="283.95" y="912.25" width="12.4" height="88.35" fill="none" stroke="#111" stroke-width="1.7"/>
<text transform="translate(291.95 1006.9) rotate(-45)" font-family="&quot;Liberation Sans&quot;, sans-serif" font-weight="bold" font-size="8.2" text-anchor="end" fill="#000" stroke="#000" stroke-width="0.21">Control</text>
<rect x="305.95" y="987.4" width="12.4" height="13.2" fill="#c0291e"/>
<rect x="305.95" y="958.05" width="12.4" height="29.35" fill="#e0584d"/>
<rect x="305.95" y="921.21" width="12.4" height="36.84" fill="#eb968c"/>
<rect x="305.95" y="911.4" width="12.4" height="9.81" fill="#f9e2df"/>
<line x1="305.95" y1="987.4" x2="318.35" y2="987.4" stroke="#111" stroke-width="1.25"/>
<line x1="305.95" y1="958.05" x2="318.35" y2="958.05" stroke="#111" stroke-width="1.25"/>
<line x1="305.95" y1="921.21" x2="318.35" y2="921.21" stroke="#111" stroke-width="1.25"/>
<path d="M312.15 987.4V986.06M308.35 986.06H315.95" stroke="#111" stroke-width="0.8" fill="none"/>
<path d="M312.15 958.05V955.82M308.35 955.82H315.95" stroke="#111" stroke-width="0.8" fill="none"/>
<path d="M312.15 921.21V918.09M308.35 918.09H315.95" stroke="#111" stroke-width="0.8" fill="none"/>
<path d="M312.15 911.4V909.17M308.35 909.17H315.95" stroke="#111" stroke-width="0.8" fill="none"/>
<path d="M312.15 1000.6V997.4" stroke="#111" stroke-width="1.3"/>
<rect x="305.95" y="912.25" width="12.4" height="88.35" fill="none" stroke="#111" stroke-width="1.7"/>
<text transform="translate(313.95 1006.9) rotate(-45)" font-family="&quot;Liberation Sans&quot;, sans-serif" font-weight="bold" font-size="8.2" text-anchor="end" fill="#000" stroke="#000" stroke-width="0.21">Oral</text>
<rect x="328.45" y="987.04" width="12.4" height="13.56" fill="#c0291e"/>
<rect x="328.45" y="960.01" width="12.4" height="27.03" fill="#e0584d"/>
<rect x="328.45" y="921.57" width="12.4" height="38.45" fill="#eb968c"/>
<rect x="328.45" y="911.4" width="12.4" height="10.17" fill="#f9e2df"/>
<line x1="328.45" y1="987.04" x2="340.85" y2="987.04" stroke="#111" stroke-width="1.25"/>
<line x1="328.45" y1="960.01" x2="340.85" y2="960.01" stroke="#111" stroke-width="1.25"/>
<line x1="328.45" y1="921.57" x2="340.85" y2="921.57" stroke="#111" stroke-width="1.25"/>
<path d="M334.65 987.04V985.26M330.85 985.26H338.45" stroke="#111" stroke-width="0.8" fill="none"/>
<path d="M334.65 960.01V958.23M330.85 958.23H338.45" stroke="#111" stroke-width="0.8" fill="none"/>
<path d="M334.65 921.57V919.78M330.85 919.78H338.45" stroke="#111" stroke-width="0.8" fill="none"/>
<path d="M334.65 911.4V909.17M330.85 909.17H338.45" stroke="#111" stroke-width="0.8" fill="none"/>
<path d="M334.65 1000.6V997.4" stroke="#111" stroke-width="1.3"/>
<rect x="328.45" y="912.25" width="12.4" height="88.35" fill="none" stroke="#111" stroke-width="1.7"/>
<text transform="translate(336.45 1006.9) rotate(-45)" font-family="&quot;Liberation Sans&quot;, sans-serif" font-weight="bold" font-size="8.2" text-anchor="end" fill="#000" stroke="#000" stroke-width="0.21">Stomach</text>
<rect x="350.85" y="985.08" width="12.4" height="15.52" fill="#c0291e"/>
<rect x="350.85" y="949.93" width="12.4" height="35.14" fill="#e0584d"/>
<rect x="350.85" y="921.57" width="12.4" height="28.37" fill="#eb968c"/>
<rect x="350.85" y="911.4" width="12.4" height="10.17" fill="#f9e2df"/>
<line x1="350.85" y1="985.08" x2="363.25" y2="985.08" stroke="#111" stroke-width="1.25"/>
<line x1="350.85" y1="949.93" x2="363.25" y2="949.93" stroke="#111" stroke-width="1.25"/>
<line x1="350.85" y1="921.57" x2="363.25" y2="921.57" stroke="#111" stroke-width="1.25"/>
<path d="M357.05 985.08V982.4M353.25 982.4H360.85" stroke="#111" stroke-width="0.8" fill="none"/>
<path d="M357.05 949.93V947.7M353.25 947.7H360.85" stroke="#111" stroke-width="0.8" fill="none"/>
<path d="M357.05 921.57V919.34M353.25 919.34H360.85" stroke="#111" stroke-width="0.8" fill="none"/>
<path d="M357.05 911.4V909.17M353.25 909.17H360.85" stroke="#111" stroke-width="0.8" fill="none"/>
<path d="M357.05 1000.6V997.4" stroke="#111" stroke-width="1.3"/>
<rect x="350.85" y="912.25" width="12.4" height="88.35" fill="none" stroke="#111" stroke-width="1.7"/>
<text transform="translate(358.85 1006.9) rotate(-45)" font-family="&quot;Liberation Sans&quot;, sans-serif" font-weight="bold" font-size="8.2" text-anchor="end" fill="#000" stroke="#000" stroke-width="0.21">Intestinal</text>
<path d="M275.1 893.56V1000.6H372.8" stroke="#111" stroke-width="1.35" fill="none"/>
<line x1="275.1" y1="1000.6" x2="278.7" y2="1000.6" stroke="#111" stroke-width="1.1"/>
<text transform="translate(273.2 1003.4) scale(0.96 1)" font-family="&quot;Liberation Sans&quot;, sans-serif" font-weight="bold" font-size="7.9" text-anchor="end" fill="#000" stroke="#000" stroke-width="0.21">0</text>
<line x1="275.1" y1="982.76" x2="278.7" y2="982.76" stroke="#111" stroke-width="1.1"/>
<text transform="translate(273.2 985.56) scale(0.96 1)" font-family="&quot;Liberation Sans&quot;, sans-serif" font-weight="bold" font-size="7.9" text-anchor="end" fill="#000" stroke="#000" stroke-width="0.21">20</text>
<line x1="275.1" y1="964.92" x2="278.7" y2="964.92" stroke="#111" stroke-width="1.1"/>
<text transform="translate(273.2 967.72) scale(0.96 1)" font-family="&quot;Liberation Sans&quot;, sans-serif" font-weight="bold" font-size="7.9" text-anchor="end" fill="#000" stroke="#000" stroke-width="0.21">40</text>
<line x1="275.1" y1="947.08" x2="278.7" y2="947.08" stroke="#111" stroke-width="1.1"/>
<text transform="translate(273.2 949.88) scale(0.96 1)" font-family="&quot;Liberation Sans&quot;, sans-serif" font-weight="bold" font-size="7.9" text-anchor="end" fill="#000" stroke="#000" stroke-width="0.21">60</text>
<line x1="275.1" y1="929.24" x2="278.7" y2="929.24" stroke="#111" stroke-width="1.1"/>
<text transform="translate(273.2 932.04) scale(0.96 1)" font-family="&quot;Liberation Sans&quot;, sans-serif" font-weight="bold" font-size="7.9" text-anchor="end" fill="#000" stroke="#000" stroke-width="0.21">80</text>
<line x1="275.1" y1="911.4" x2="278.7" y2="911.4" stroke="#111" stroke-width="1.1"/>
<text transform="translate(273.2 914.2) scale(0.96 1)" font-family="&quot;Liberation Sans&quot;, sans-serif" font-weight="bold" font-size="7.9" text-anchor="end" fill="#000" stroke="#000" stroke-width="0.21">100</text>
<line x1="275.1" y1="893.56" x2="278.7" y2="893.56" stroke="#111" stroke-width="1.1"/>
<text transform="translate(273.2 896.36) scale(0.96 1)" font-family="&quot;Liberation Sans&quot;, sans-serif" font-weight="bold" font-size="7.9" text-anchor="end" fill="#000" stroke="#000" stroke-width="0.21">120</text>
<text transform="translate(325.4 891.3)" font-family="&quot;Liberation Sans&quot;, sans-serif" font-weight="bold" font-size="9" text-anchor="middle" fill="#000" stroke="#000" stroke-width="0.23">F2</text>
<text transform="translate(323.95 1042.8)" font-family="&quot;Liberation Sans&quot;, sans-serif" font-weight="bold" font-size="8.2" text-anchor="middle" fill="#000" stroke="#000" stroke-width="0.21">Digestion stage</text>
<text transform="translate(254 974.68) rotate(-90) scale(0.91 1)" font-family="&quot;Liberation Sans&quot;, sans-serif" font-weight="bold" font-size="9.2" text-anchor="start" fill="#000" stroke="#000" stroke-width="0.24">Content<tspan font-weight="normal" dx="7.6">(</tspan>%<tspan font-weight="normal">)</tspan></text>
<clipPath id="cc1"><rect x="0" y="0" width="680" height="1240"/></clipPath>
<g clip-path="url(#cc1)">
<rect x="395.2" y="897.3" width="10.6" height="6" fill="#c0291e" stroke="#111" stroke-width="1.2"/>
<text transform="translate(411.6 903.3)" font-family="&quot;Liberation Sans&quot;, sans-serif" font-weight="normal" font-size="8.5" text-anchor="start" fill="#000">α-helix</text>
<rect x="395.2" y="911.7" width="10.6" height="6" fill="#e0584d" stroke="#111" stroke-width="1.2"/>
<text transform="translate(411.6 917.7)" font-family="&quot;Liberation Sans&quot;, sans-serif" font-weight="normal" font-size="8.5" text-anchor="start" fill="#000">β-sheet</text>
<rect x="395.2" y="926.1" width="10.6" height="6" fill="#eb968c" stroke="#111" stroke-width="1.2"/>
<text transform="translate(411.6 932.1)" font-family="&quot;Liberation Sans&quot;, sans-serif" font-weight="normal" font-size="8.5" text-anchor="start" fill="#000">β-turn</text>
<rect x="395.2" y="940.5" width="10.6" height="6" fill="#f9e2df" stroke="#111" stroke-width="1.2"/>
<text transform="translate(411.6 946.5)" font-family="&quot;Liberation Sans&quot;, sans-serif" font-weight="normal" font-size="8.5" text-anchor="start" fill="#000">Random coil</text>
</g>
</g>
<g>
<rect x="503.35" y="995.08" width="12.5" height="9.42" fill="#c0291e"/>
<rect x="503.35" y="985.21" width="12.5" height="9.87" fill="#e0584d"/>
<rect x="503.35" y="918.98" width="12.5" height="66.23" fill="#eb968c"/>
<rect x="503.35" y="915.6" width="12.5" height="3.38" fill="#f9e2df"/>
<line x1="503.35" y1="995.08" x2="515.85" y2="995.08" stroke="#111" stroke-width="1.25"/>
<line x1="503.35" y1="985.21" x2="515.85" y2="985.21" stroke="#111" stroke-width="1.25"/>
<line x1="503.35" y1="918.98" x2="515.85" y2="918.98" stroke="#111" stroke-width="1.25"/>
<path d="M509.6 995.08V993.74M505.8 993.74H513.4" stroke="#111" stroke-width="0.8" fill="none"/>
<path d="M509.6 985.21V983.43M505.8 983.43H513.4" stroke="#111" stroke-width="0.8" fill="none"/>
<path d="M509.6 918.98V917.64M505.8 917.64H513.4" stroke="#111" stroke-width="0.8" fill="none"/>
<path d="M509.6 915.6V914.27M505.8 914.27H513.4" stroke="#111" stroke-width="0.8" fill="none"/>
<path d="M509.6 1004.5V1001.3" stroke="#111" stroke-width="1.3"/>
<rect x="503.35" y="916.45" width="12.5" height="88.05" fill="none" stroke="#111" stroke-width="1.7"/>
<text transform="translate(511.4 1010.8) rotate(-45)" font-family="&quot;Liberation Sans&quot;, sans-serif" font-weight="bold" font-size="8.2" text-anchor="end" fill="#000" stroke="#000" stroke-width="0.21">Control</text>
<rect x="525.95" y="994.37" width="12.5" height="10.13" fill="#c0291e"/>
<rect x="525.95" y="956.49" width="12.5" height="37.87" fill="#e0584d"/>
<rect x="525.95" y="926.09" width="12.5" height="30.4" fill="#eb968c"/>
<rect x="525.95" y="915.6" width="12.5" height="10.49" fill="#f9e2df"/>
<line x1="525.95" y1="994.37" x2="538.45" y2="994.37" stroke="#111" stroke-width="1.25"/>
<line x1="525.95" y1="956.49" x2="538.45" y2="956.49" stroke="#111" stroke-width="1.25"/>
<line x1="525.95" y1="926.09" x2="538.45" y2="926.09" stroke="#111" stroke-width="1.25"/>
<path d="M532.2 994.37V993.48M528.4 993.48H536" stroke="#111" stroke-width="0.8" fill="none"/>
<path d="M532.2 956.49V953.83M528.4 953.83H536" stroke="#111" stroke-width="0.8" fill="none"/>
<path d="M532.2 926.09V923.87M528.4 923.87H536" stroke="#111" stroke-width="0.8" fill="none"/>
<path d="M532.2 915.6V913.82M528.4 913.82H536" stroke="#111" stroke-width="0.8" fill="none"/>
<path d="M532.2 1004.5V1001.3" stroke="#111" stroke-width="1.3"/>
<rect x="525.95" y="916.45" width="12.5" height="88.05" fill="none" stroke="#111" stroke-width="1.7"/>
<text transform="translate(534 1010.8) rotate(-45)" font-family="&quot;Liberation Sans&quot;, sans-serif" font-weight="bold" font-size="8.2" text-anchor="end" fill="#000" stroke="#000" stroke-width="0.21">Oral</text>
<rect x="548.45" y="993.03" width="12.5" height="11.47" fill="#c0291e"/>
<rect x="548.45" y="956.14" width="12.5" height="36.89" fill="#e0584d"/>
<rect x="548.45" y="928.4" width="12.5" height="27.74" fill="#eb968c"/>
<rect x="548.45" y="915.6" width="12.5" height="12.8" fill="#f9e2df"/>
<line x1="548.45" y1="993.03" x2="560.95" y2="993.03" stroke="#111" stroke-width="1.25"/>
<line x1="548.45" y1="956.14" x2="560.95" y2="956.14" stroke="#111" stroke-width="1.25"/>
<line x1="548.45" y1="928.4" x2="560.95" y2="928.4" stroke="#111" stroke-width="1.25"/>
<path d="M554.7 993.03V991.7M550.9 991.7H558.5" stroke="#111" stroke-width="0.8" fill="none"/>
<path d="M554.7 956.14V953.47M550.9 953.47H558.5" stroke="#111" stroke-width="0.8" fill="none"/>
<path d="M554.7 928.4V925.73M550.9 925.73H558.5" stroke="#111" stroke-width="0.8" fill="none"/>
<path d="M554.7 915.6V913.38M550.9 913.38H558.5" stroke="#111" stroke-width="0.8" fill="none"/>
<path d="M554.7 1004.5V1001.3" stroke="#111" stroke-width="1.3"/>
<rect x="548.45" y="916.45" width="12.5" height="88.05" fill="none" stroke="#111" stroke-width="1.7"/>
<text transform="translate(556.5 1010.8) rotate(-45)" font-family="&quot;Liberation Sans&quot;, sans-serif" font-weight="bold" font-size="8.2" text-anchor="end" fill="#000" stroke="#000" stroke-width="0.21">Stomach</text>
<rect x="571.15" y="989.3" width="12.5" height="15.2" fill="#c0291e"/>
<rect x="571.15" y="963.96" width="12.5" height="25.34" fill="#e0584d"/>
<rect x="571.15" y="929.11" width="12.5" height="34.85" fill="#eb968c"/>
<rect x="571.15" y="915.6" width="12.5" height="13.51" fill="#f9e2df"/>
<line x1="571.15" y1="989.3" x2="583.65" y2="989.3" stroke="#111" stroke-width="1.25"/>
<line x1="571.15" y1="963.96" x2="583.65" y2="963.96" stroke="#111" stroke-width="1.25"/>
<line x1="571.15" y1="929.11" x2="583.65" y2="929.11" stroke="#111" stroke-width="1.25"/>
<path d="M577.4 989.3V987.08M573.6 987.08H581.2" stroke="#111" stroke-width="0.8" fill="none"/>
<path d="M577.4 963.96V961.74M573.6 961.74H581.2" stroke="#111" stroke-width="0.8" fill="none"/>
<path d="M577.4 929.11V925.56M573.6 925.56H581.2" stroke="#111" stroke-width="0.8" fill="none"/>
<path d="M577.4 915.6V913.38M573.6 913.38H581.2" stroke="#111" stroke-width="0.8" fill="none"/>
<path d="M577.4 1004.5V1001.3" stroke="#111" stroke-width="1.3"/>
<rect x="571.15" y="916.45" width="12.5" height="88.05" fill="none" stroke="#111" stroke-width="1.7"/>
<text transform="translate(579.2 1010.8) rotate(-45)" font-family="&quot;Liberation Sans&quot;, sans-serif" font-weight="bold" font-size="8.2" text-anchor="end" fill="#000" stroke="#000" stroke-width="0.21">Intestinal</text>
<path d="M494.9 897.82V1004.5H592.1" stroke="#111" stroke-width="1.35" fill="none"/>
<line x1="494.9" y1="1004.5" x2="498.5" y2="1004.5" stroke="#111" stroke-width="1.1"/>
<text transform="translate(493 1007.3) scale(0.96 1)" font-family="&quot;Liberation Sans&quot;, sans-serif" font-weight="bold" font-size="7.9" text-anchor="end" fill="#000" stroke="#000" stroke-width="0.21">0</text>
<line x1="494.9" y1="986.72" x2="498.5" y2="986.72" stroke="#111" stroke-width="1.1"/>
<text transform="translate(493 989.52) scale(0.96 1)" font-family="&quot;Liberation Sans&quot;, sans-serif" font-weight="bold" font-size="7.9" text-anchor="end" fill="#000" stroke="#000" stroke-width="0.21">20</text>
<line x1="494.9" y1="968.94" x2="498.5" y2="968.94" stroke="#111" stroke-width="1.1"/>
<text transform="translate(493 971.74) scale(0.96 1)" font-family="&quot;Liberation Sans&quot;, sans-serif" font-weight="bold" font-size="7.9" text-anchor="end" fill="#000" stroke="#000" stroke-width="0.21">40</text>
<line x1="494.9" y1="951.16" x2="498.5" y2="951.16" stroke="#111" stroke-width="1.1"/>
<text transform="translate(493 953.96) scale(0.96 1)" font-family="&quot;Liberation Sans&quot;, sans-serif" font-weight="bold" font-size="7.9" text-anchor="end" fill="#000" stroke="#000" stroke-width="0.21">60</text>
<line x1="494.9" y1="933.38" x2="498.5" y2="933.38" stroke="#111" stroke-width="1.1"/>
<text transform="translate(493 936.18) scale(0.96 1)" font-family="&quot;Liberation Sans&quot;, sans-serif" font-weight="bold" font-size="7.9" text-anchor="end" fill="#000" stroke="#000" stroke-width="0.21">80</text>
<line x1="494.9" y1="915.6" x2="498.5" y2="915.6" stroke="#111" stroke-width="1.1"/>
<text transform="translate(493 918.4) scale(0.96 1)" font-family="&quot;Liberation Sans&quot;, sans-serif" font-weight="bold" font-size="7.9" text-anchor="end" fill="#000" stroke="#000" stroke-width="0.21">100</text>
<line x1="494.9" y1="897.82" x2="498.5" y2="897.82" stroke="#111" stroke-width="1.1"/>
<text transform="translate(493 900.62) scale(0.96 1)" font-family="&quot;Liberation Sans&quot;, sans-serif" font-weight="bold" font-size="7.9" text-anchor="end" fill="#000" stroke="#000" stroke-width="0.21">120</text>
<text transform="translate(543.7 893.3)" font-family="&quot;Liberation Sans&quot;, sans-serif" font-weight="bold" font-size="9" text-anchor="middle" fill="#000" stroke="#000" stroke-width="0.23">F3</text>
<text transform="translate(543.5 1046.7)" font-family="&quot;Liberation Sans&quot;, sans-serif" font-weight="bold" font-size="8.2" text-anchor="middle" fill="#000" stroke="#000" stroke-width="0.21">Digestion stage</text>
<text transform="translate(473.8 978.76) rotate(-90) scale(0.91 1)" font-family="&quot;Liberation Sans&quot;, sans-serif" font-weight="bold" font-size="9.2" text-anchor="start" fill="#000" stroke="#000" stroke-width="0.24">Content<tspan font-weight="normal" dx="7.6">(</tspan>%<tspan font-weight="normal">)</tspan></text>
<clipPath id="cc2"><rect x="0" y="0" width="680" height="1240"/></clipPath>
<g clip-path="url(#cc2)">
<rect x="614.1" y="902" width="10.2" height="6" fill="#c0291e" stroke="#111" stroke-width="1.2"/>
<text transform="translate(630.8 908)" font-family="&quot;Liberation Sans&quot;, sans-serif" font-weight="normal" font-size="8.5" text-anchor="start" fill="#000">α-helix</text>
<rect x="614.1" y="916.27" width="10.2" height="6" fill="#e0584d" stroke="#111" stroke-width="1.2"/>
<text transform="translate(630.8 922.27)" font-family="&quot;Liberation Sans&quot;, sans-serif" font-weight="normal" font-size="8.5" text-anchor="start" fill="#000">β-sheet</text>
<rect x="614.1" y="930.54" width="10.2" height="6" fill="#eb968c" stroke="#111" stroke-width="1.2"/>
<text transform="translate(630.8 936.54)" font-family="&quot;Liberation Sans&quot;, sans-serif" font-weight="normal" font-size="8.5" text-anchor="start" fill="#000">β-turn</text>
<rect x="614.1" y="944.81" width="10.2" height="6" fill="#f9e2df" stroke="#111" stroke-width="1.2"/>
<text transform="translate(630.8 950.81)" font-family="&quot;Liberation Sans&quot;, sans-serif" font-weight="normal" font-size="8.5" text-anchor="start" fill="#000">Random coil</text>
</g>
</g>
<g>
<rect x="58.15" y="1187.58" width="12.5" height="2.02" fill="#c0291e"/>
<rect x="58.15" y="1150.49" width="12.5" height="37.1" fill="#e0584d"/>
<rect x="58.15" y="1103.22" width="12.5" height="47.27" fill="#eb968c"/>
<rect x="58.15" y="1101.9" width="12.5" height="1.32" fill="#f9e2df"/>
<line x1="58.15" y1="1187.58" x2="70.65" y2="1187.58" stroke="#111" stroke-width="1.25"/>
<line x1="58.15" y1="1150.49" x2="70.65" y2="1150.49" stroke="#111" stroke-width="1.25"/>
<line x1="58.15" y1="1103.22" x2="70.65" y2="1103.22" stroke="#111" stroke-width="1.25"/>
<path d="M64.4 1187.58V1185.83M60.6 1185.83H68.2" stroke="#111" stroke-width="0.8" fill="none"/>
<path d="M64.4 1150.49V1149.61M60.6 1149.61H68.2" stroke="#111" stroke-width="0.8" fill="none"/>
<path d="M64.4 1103.22V1102.34M60.6 1102.34H68.2" stroke="#111" stroke-width="0.8" fill="none"/>
<path d="M64.4 1101.9V1100.58M60.6 1100.58H68.2" stroke="#111" stroke-width="0.8" fill="none"/>
<path d="M64.4 1189.6V1186.4" stroke="#111" stroke-width="1.3"/>
<rect x="58.15" y="1102.75" width="12.5" height="86.85" fill="none" stroke="#111" stroke-width="1.7"/>
<text transform="translate(66.2 1195.9) rotate(-45)" font-family="&quot;Liberation Sans&quot;, sans-serif" font-weight="bold" font-size="8.2" text-anchor="end" fill="#000" stroke="#000" stroke-width="0.21">Control</text>
<rect x="80.25" y="1181.53" width="12.5" height="8.07" fill="#c0291e"/>
<rect x="80.25" y="1143.12" width="12.5" height="38.41" fill="#e0584d"/>
<rect x="80.25" y="1109" width="12.5" height="34.12" fill="#eb968c"/>
<rect x="80.25" y="1101.9" width="12.5" height="7.1" fill="#f9e2df"/>
<line x1="80.25" y1="1181.53" x2="92.75" y2="1181.53" stroke="#111" stroke-width="1.25"/>
<line x1="80.25" y1="1143.12" x2="92.75" y2="1143.12" stroke="#111" stroke-width="1.25"/>
<line x1="80.25" y1="1109" x2="92.75" y2="1109" stroke="#111" stroke-width="1.25"/>
<path d="M86.5 1181.53V1179.34M82.7 1179.34H90.3" stroke="#111" stroke-width="0.8" fill="none"/>
<path d="M86.5 1143.12V1140.49M82.7 1140.49H90.3" stroke="#111" stroke-width="0.8" fill="none"/>
<path d="M86.5 1109V1106.37M82.7 1106.37H90.3" stroke="#111" stroke-width="0.8" fill="none"/>
<path d="M86.5 1101.9V1100.15M82.7 1100.15H90.3" stroke="#111" stroke-width="0.8" fill="none"/>
<path d="M86.5 1189.6V1186.4" stroke="#111" stroke-width="1.3"/>
<rect x="80.25" y="1102.75" width="12.5" height="86.85" fill="none" stroke="#111" stroke-width="1.7"/>
<text transform="translate(88.3 1195.9) rotate(-45)" font-family="&quot;Liberation Sans&quot;, sans-serif" font-weight="bold" font-size="8.2" text-anchor="end" fill="#000" stroke="#000" stroke-width="0.21">Oral</text>
<rect x="102.55" y="1175.74" width="12.5" height="13.86" fill="#c0291e"/>
<rect x="102.55" y="1152.15" width="12.5" height="23.59" fill="#e0584d"/>
<rect x="102.55" y="1123.83" width="12.5" height="28.33" fill="#eb968c"/>
<rect x="102.55" y="1101.9" width="12.5" height="21.92" fill="#f9e2df"/>
<line x1="102.55" y1="1175.74" x2="115.05" y2="1175.74" stroke="#111" stroke-width="1.25"/>
<line x1="102.55" y1="1152.15" x2="115.05" y2="1152.15" stroke="#111" stroke-width="1.25"/>
<line x1="102.55" y1="1123.83" x2="115.05" y2="1123.83" stroke="#111" stroke-width="1.25"/>
<path d="M108.8 1175.74V1173.99M105 1173.99H112.6" stroke="#111" stroke-width="0.8" fill="none"/>
<path d="M108.8 1152.15V1150.4M105 1150.4H112.6" stroke="#111" stroke-width="0.8" fill="none"/>
<path d="M108.8 1123.83V1120.76M105 1120.76H112.6" stroke="#111" stroke-width="0.8" fill="none"/>
<path d="M108.8 1101.9V1100.58M105 1100.58H112.6" stroke="#111" stroke-width="0.8" fill="none"/>
<path d="M108.8 1189.6V1186.4" stroke="#111" stroke-width="1.3"/>
<rect x="102.55" y="1102.75" width="12.5" height="86.85" fill="none" stroke="#111" stroke-width="1.7"/>
<text transform="translate(110.6 1195.9) rotate(-45)" font-family="&quot;Liberation Sans&quot;, sans-serif" font-weight="bold" font-size="8.2" text-anchor="end" fill="#000" stroke="#000" stroke-width="0.21">Stomach</text>
<rect x="125.05" y="1173.38" width="12.5" height="16.22" fill="#c0291e"/>
<rect x="125.05" y="1138.73" width="12.5" height="34.64" fill="#e0584d"/>
<rect x="125.05" y="1130.58" width="12.5" height="8.16" fill="#eb968c"/>
<rect x="125.05" y="1101.9" width="12.5" height="28.68" fill="#f9e2df"/>
<line x1="125.05" y1="1173.38" x2="137.55" y2="1173.38" stroke="#111" stroke-width="1.25"/>
<line x1="125.05" y1="1138.73" x2="137.55" y2="1138.73" stroke="#111" stroke-width="1.25"/>
<line x1="125.05" y1="1130.58" x2="137.55" y2="1130.58" stroke="#111" stroke-width="1.25"/>
<path d="M131.3 1173.38V1171.18M127.5 1171.18H135.1" stroke="#111" stroke-width="0.8" fill="none"/>
<path d="M131.3 1138.73V1136.54M127.5 1136.54H135.1" stroke="#111" stroke-width="0.8" fill="none"/>
<path d="M131.3 1130.58V1128.82M127.5 1128.82H135.1" stroke="#111" stroke-width="0.8" fill="none"/>
<path d="M131.3 1101.9V1100.15M127.5 1100.15H135.1" stroke="#111" stroke-width="0.8" fill="none"/>
<path d="M131.3 1189.6V1186.4" stroke="#111" stroke-width="1.3"/>
<rect x="125.05" y="1102.75" width="12.5" height="86.85" fill="none" stroke="#111" stroke-width="1.7"/>
<text transform="translate(133.1 1195.9) rotate(-45)" font-family="&quot;Liberation Sans&quot;, sans-serif" font-weight="bold" font-size="8.2" text-anchor="end" fill="#000" stroke="#000" stroke-width="0.21">Intestinal</text>
<path d="M49.7 1084.36V1189.6H145.8" stroke="#111" stroke-width="1.35" fill="none"/>
<line x1="49.7" y1="1189.6" x2="53.3" y2="1189.6" stroke="#111" stroke-width="1.1"/>
<text transform="translate(47.8 1192.4) scale(0.96 1)" font-family="&quot;Liberation Sans&quot;, sans-serif" font-weight="bold" font-size="7.9" text-anchor="end" fill="#000" stroke="#000" stroke-width="0.21">0</text>
<line x1="49.7" y1="1172.06" x2="53.3" y2="1172.06" stroke="#111" stroke-width="1.1"/>
<text transform="translate(47.8 1174.86) scale(0.96 1)" font-family="&quot;Liberation Sans&quot;, sans-serif" font-weight="bold" font-size="7.9" text-anchor="end" fill="#000" stroke="#000" stroke-width="0.21">20</text>
<line x1="49.7" y1="1154.52" x2="53.3" y2="1154.52" stroke="#111" stroke-width="1.1"/>
<text transform="translate(47.8 1157.32) scale(0.96 1)" font-family="&quot;Liberation Sans&quot;, sans-serif" font-weight="bold" font-size="7.9" text-anchor="end" fill="#000" stroke="#000" stroke-width="0.21">40</text>
<line x1="49.7" y1="1136.98" x2="53.3" y2="1136.98" stroke="#111" stroke-width="1.1"/>
<text transform="translate(47.8 1139.78) scale(0.96 1)" font-family="&quot;Liberation Sans&quot;, sans-serif" font-weight="bold" font-size="7.9" text-anchor="end" fill="#000" stroke="#000" stroke-width="0.21">60</text>
<line x1="49.7" y1="1119.44" x2="53.3" y2="1119.44" stroke="#111" stroke-width="1.1"/>
<text transform="translate(47.8 1122.24) scale(0.96 1)" font-family="&quot;Liberation Sans&quot;, sans-serif" font-weight="bold" font-size="7.9" text-anchor="end" fill="#000" stroke="#000" stroke-width="0.21">80</text>
<line x1="49.7" y1="1101.9" x2="53.3" y2="1101.9" stroke="#111" stroke-width="1.1"/>
<text transform="translate(47.8 1104.7) scale(0.96 1)" font-family="&quot;Liberation Sans&quot;, sans-serif" font-weight="bold" font-size="7.9" text-anchor="end" fill="#000" stroke="#000" stroke-width="0.21">100</text>
<line x1="49.7" y1="1084.36" x2="53.3" y2="1084.36" stroke="#111" stroke-width="1.1"/>
<text transform="translate(47.8 1087.16) scale(0.96 1)" font-family="&quot;Liberation Sans&quot;, sans-serif" font-weight="bold" font-size="7.9" text-anchor="end" fill="#000" stroke="#000" stroke-width="0.21">120</text>
<text transform="translate(99.1 1082.7)" font-family="&quot;Liberation Sans&quot;, sans-serif" font-weight="bold" font-size="9" text-anchor="middle" fill="#000" stroke="#000" stroke-width="0.23">NF1</text>
<text transform="translate(97.75 1231.8)" font-family="&quot;Liberation Sans&quot;, sans-serif" font-weight="bold" font-size="8.2" text-anchor="middle" fill="#000" stroke="#000" stroke-width="0.21">Digestion stage</text>
<text transform="translate(28.6 1164.58) rotate(-90) scale(0.91 1)" font-family="&quot;Liberation Sans&quot;, sans-serif" font-weight="bold" font-size="9.2" text-anchor="start" fill="#000" stroke="#000" stroke-width="0.24">Content<tspan font-weight="normal" dx="7.6">(</tspan>%<tspan font-weight="normal">)</tspan></text>
<clipPath id="cc3"><rect x="0" y="0" width="680" height="1240"/></clipPath>
<g clip-path="url(#cc3)">
<rect x="168" y="1088" width="10.4" height="6" fill="#c0291e" stroke="#111" stroke-width="1.2"/>
<text transform="translate(184.2 1094)" font-family="&quot;Liberation Sans&quot;, sans-serif" font-weight="normal" font-size="8.5" text-anchor="start" fill="#000">α-helix</text>
<rect x="168" y="1102.24" width="10.4" height="6" fill="#e0584d" stroke="#111" stroke-width="1.2"/>
<text transform="translate(184.2 1108.24)" font-family="&quot;Liberation Sans&quot;, sans-serif" font-weight="normal" font-size="8.5" text-anchor="start" fill="#000">β-sheet</text>
<rect x="168" y="1116.48" width="10.4" height="6" fill="#eb968c" stroke="#111" stroke-width="1.2"/>
<text transform="translate(184.2 1122.48)" font-family="&quot;Liberation Sans&quot;, sans-serif" font-weight="normal" font-size="8.5" text-anchor="start" fill="#000">β-turn</text>
<rect x="168" y="1130.72" width="10.4" height="6" fill="#f9e2df" stroke="#111" stroke-width="1.2"/>
<text transform="translate(184.2 1136.72)" font-family="&quot;Liberation Sans&quot;, sans-serif" font-weight="normal" font-size="8.5" text-anchor="start" fill="#000">Random coil</text>
</g>
</g>
<g>
<rect x="283.95" y="1182.23" width="12.3" height="7.47" fill="#c0291e"/>
<rect x="283.95" y="1159.81" width="12.3" height="22.41" fill="#e0584d"/>
<rect x="283.95" y="1108.92" width="12.3" height="50.89" fill="#eb968c"/>
<rect x="283.95" y="1101.8" width="12.3" height="7.12" fill="#f9e2df"/>
<line x1="283.95" y1="1182.23" x2="296.25" y2="1182.23" stroke="#111" stroke-width="1.25"/>
<line x1="283.95" y1="1159.81" x2="296.25" y2="1159.81" stroke="#111" stroke-width="1.25"/>
<line x1="283.95" y1="1108.92" x2="296.25" y2="1108.92" stroke="#111" stroke-width="1.25"/>
<path d="M290.1 1182.23V1180.47M286.3 1180.47H293.9" stroke="#111" stroke-width="0.8" fill="none"/>
<path d="M290.1 1159.81V1157.62M286.3 1157.62H293.9" stroke="#111" stroke-width="0.8" fill="none"/>
<path d="M290.1 1108.92V1107.16M286.3 1107.16H293.9" stroke="#111" stroke-width="0.8" fill="none"/>
<path d="M290.1 1101.8V1100.92M286.3 1100.92H293.9" stroke="#111" stroke-width="0.8" fill="none"/>
<path d="M290.1 1189.7V1186.5" stroke="#111" stroke-width="1.3"/>
<rect x="283.95" y="1102.65" width="12.3" height="87.05" fill="none" stroke="#111" stroke-width="1.7"/>
<text transform="translate(291.9 1196) rotate(-45)" font-family="&quot;Liberation Sans&quot;, sans-serif" font-weight="bold" font-size="8.2" text-anchor="end" fill="#000" stroke="#000" stroke-width="0.21">Control</text>
<rect x="305.95" y="1178.54" width="12.3" height="11.16" fill="#c0291e"/>
<rect x="305.95" y="1144.87" width="12.3" height="33.67" fill="#e0584d"/>
<rect x="305.95" y="1112" width="12.3" height="32.87" fill="#eb968c"/>
<rect x="305.95" y="1101.8" width="12.3" height="10.2" fill="#f9e2df"/>
<line x1="305.95" y1="1178.54" x2="318.25" y2="1178.54" stroke="#111" stroke-width="1.25"/>
<line x1="305.95" y1="1144.87" x2="318.25" y2="1144.87" stroke="#111" stroke-width="1.25"/>
<line x1="305.95" y1="1112" x2="318.25" y2="1112" stroke="#111" stroke-width="1.25"/>
<path d="M312.1 1178.54V1177.22M308.3 1177.22H315.9" stroke="#111" stroke-width="0.8" fill="none"/>
<path d="M312.1 1144.87V1142.23M308.3 1142.23H315.9" stroke="#111" stroke-width="0.8" fill="none"/>
<path d="M312.1 1112V1109.36M308.3 1109.36H315.9" stroke="#111" stroke-width="0.8" fill="none"/>
<path d="M312.1 1101.8V1100.48M308.3 1100.48H315.9" stroke="#111" stroke-width="0.8" fill="none"/>
<path d="M312.1 1189.7V1186.5" stroke="#111" stroke-width="1.3"/>
<rect x="305.95" y="1102.65" width="12.3" height="87.05" fill="none" stroke="#111" stroke-width="1.7"/>
<text transform="translate(313.9 1196) rotate(-45)" font-family="&quot;Liberation Sans&quot;, sans-serif" font-weight="bold" font-size="8.2" text-anchor="end" fill="#000" stroke="#000" stroke-width="0.21">Oral</text>
<rect x="328.45" y="1174.76" width="12.3" height="14.94" fill="#c0291e"/>
<rect x="328.45" y="1151.99" width="12.3" height="22.77" fill="#e0584d"/>
<rect x="328.45" y="1121.84" width="12.3" height="30.15" fill="#eb968c"/>
<rect x="328.45" y="1101.8" width="12.3" height="20.04" fill="#f9e2df"/>
<line x1="328.45" y1="1174.76" x2="340.75" y2="1174.76" stroke="#111" stroke-width="1.25"/>
<line x1="328.45" y1="1151.99" x2="340.75" y2="1151.99" stroke="#111" stroke-width="1.25"/>
<line x1="328.45" y1="1121.84" x2="340.75" y2="1121.84" stroke="#111" stroke-width="1.25"/>
<path d="M334.6 1174.76V1173.44M330.8 1173.44H338.4" stroke="#111" stroke-width="0.8" fill="none"/>
<path d="M334.6 1151.99V1149.79M330.8 1149.79H338.4" stroke="#111" stroke-width="0.8" fill="none"/>
<path d="M334.6 1121.84V1118.33M330.8 1118.33H338.4" stroke="#111" stroke-width="0.8" fill="none"/>
<path d="M334.6 1101.8V1100.04M330.8 1100.04H338.4" stroke="#111" stroke-width="0.8" fill="none"/>
<path d="M334.6 1189.7V1186.5" stroke="#111" stroke-width="1.3"/>
<rect x="328.45" y="1102.65" width="12.3" height="87.05" fill="none" stroke="#111" stroke-width="1.7"/>
<text transform="translate(336.4 1196) rotate(-45)" font-family="&quot;Liberation Sans&quot;, sans-serif" font-weight="bold" font-size="8.2" text-anchor="end" fill="#000" stroke="#000" stroke-width="0.21">Stomach</text>
<rect x="350.85" y="1174.05" width="12.3" height="15.65" fill="#c0291e"/>
<rect x="350.85" y="1145.93" width="12.3" height="28.13" fill="#e0584d"/>
<rect x="350.85" y="1122.19" width="12.3" height="23.73" fill="#eb968c"/>
<rect x="350.85" y="1101.8" width="12.3" height="20.39" fill="#f9e2df"/>
<line x1="350.85" y1="1174.05" x2="363.15" y2="1174.05" stroke="#111" stroke-width="1.25"/>
<line x1="350.85" y1="1145.93" x2="363.15" y2="1145.93" stroke="#111" stroke-width="1.25"/>
<line x1="350.85" y1="1122.19" x2="363.15" y2="1122.19" stroke="#111" stroke-width="1.25"/>
<path d="M357 1174.05V1171.86M353.2 1171.86H360.8" stroke="#111" stroke-width="0.8" fill="none"/>
<path d="M357 1145.93V1144.17M353.2 1144.17H360.8" stroke="#111" stroke-width="0.8" fill="none"/>
<path d="M357 1122.19V1120.43M353.2 1120.43H360.8" stroke="#111" stroke-width="0.8" fill="none"/>
<path d="M357 1101.8V1099.16M353.2 1099.16H360.8" stroke="#111" stroke-width="0.8" fill="none"/>
<path d="M357 1189.7V1186.5" stroke="#111" stroke-width="1.3"/>
<rect x="350.85" y="1102.65" width="12.3" height="87.05" fill="none" stroke="#111" stroke-width="1.7"/>
<text transform="translate(358.8 1196) rotate(-45)" font-family="&quot;Liberation Sans&quot;, sans-serif" font-weight="bold" font-size="8.2" text-anchor="end" fill="#000" stroke="#000" stroke-width="0.21">Intestinal</text>
<path d="M275.4 1084.22V1189.7H372.5" stroke="#111" stroke-width="1.35" fill="none"/>
<line x1="275.4" y1="1189.7" x2="279" y2="1189.7" stroke="#111" stroke-width="1.1"/>
<text transform="translate(273.5 1192.5) scale(0.96 1)" font-family="&quot;Liberation Sans&quot;, sans-serif" font-weight="bold" font-size="7.9" text-anchor="end" fill="#000" stroke="#000" stroke-width="0.21">0</text>
<line x1="275.4" y1="1172.12" x2="279" y2="1172.12" stroke="#111" stroke-width="1.1"/>
<text transform="translate(273.5 1174.92) scale(0.96 1)" font-family="&quot;Liberation Sans&quot;, sans-serif" font-weight="bold" font-size="7.9" text-anchor="end" fill="#000" stroke="#000" stroke-width="0.21">20</text>
<line x1="275.4" y1="1154.54" x2="279" y2="1154.54" stroke="#111" stroke-width="1.1"/>
<text transform="translate(273.5 1157.34) scale(0.96 1)" font-family="&quot;Liberation Sans&quot;, sans-serif" font-weight="bold" font-size="7.9" text-anchor="end" fill="#000" stroke="#000" stroke-width="0.21">40</text>
<line x1="275.4" y1="1136.96" x2="279" y2="1136.96" stroke="#111" stroke-width="1.1"/>
<text transform="translate(273.5 1139.76) scale(0.96 1)" font-family="&quot;Liberation Sans&quot;, sans-serif" font-weight="bold" font-size="7.9" text-anchor="end" fill="#000" stroke="#000" stroke-width="0.21">60</text>
<line x1="275.4" y1="1119.38" x2="279" y2="1119.38" stroke="#111" stroke-width="1.1"/>
<text transform="translate(273.5 1122.18) scale(0.96 1)" font-family="&quot;Liberation Sans&quot;, sans-serif" font-weight="bold" font-size="7.9" text-anchor="end" fill="#000" stroke="#000" stroke-width="0.21">80</text>
<line x1="275.4" y1="1101.8" x2="279" y2="1101.8" stroke="#111" stroke-width="1.1"/>
<text transform="translate(273.5 1104.6) scale(0.96 1)" font-family="&quot;Liberation Sans&quot;, sans-serif" font-weight="bold" font-size="7.9" text-anchor="end" fill="#000" stroke="#000" stroke-width="0.21">100</text>
<line x1="275.4" y1="1084.22" x2="279" y2="1084.22" stroke="#111" stroke-width="1.1"/>
<text transform="translate(273.5 1087.02) scale(0.96 1)" font-family="&quot;Liberation Sans&quot;, sans-serif" font-weight="bold" font-size="7.9" text-anchor="end" fill="#000" stroke="#000" stroke-width="0.21">120</text>
<text transform="translate(325.4 1082.7)" font-family="&quot;Liberation Sans&quot;, sans-serif" font-weight="bold" font-size="9" text-anchor="middle" fill="#000" stroke="#000" stroke-width="0.23">NF2</text>
<text transform="translate(323.95 1231.9)" font-family="&quot;Liberation Sans&quot;, sans-serif" font-weight="bold" font-size="8.2" text-anchor="middle" fill="#000" stroke="#000" stroke-width="0.21">Digestion stage</text>
<text transform="translate(254.3 1164.56) rotate(-90) scale(0.91 1)" font-family="&quot;Liberation Sans&quot;, sans-serif" font-weight="bold" font-size="9.2" text-anchor="start" fill="#000" stroke="#000" stroke-width="0.24">Content<tspan font-weight="normal" dx="7.6">(</tspan>%<tspan font-weight="normal">)</tspan></text>
<clipPath id="cc4"><rect x="0" y="0" width="680" height="1240"/></clipPath>
<g clip-path="url(#cc4)">
<rect x="393.7" y="1088.3" width="10.5" height="6" fill="#c0291e" stroke="#111" stroke-width="1.2"/>
<text transform="translate(409.8 1094.3)" font-family="&quot;Liberation Sans&quot;, sans-serif" font-weight="normal" font-size="8.5" text-anchor="start" fill="#000">α-helix</text>
<rect x="393.7" y="1102.47" width="10.5" height="6" fill="#e0584d" stroke="#111" stroke-width="1.2"/>
<text transform="translate(409.8 1108.47)" font-family="&quot;Liberation Sans&quot;, sans-serif" font-weight="normal" font-size="8.5" text-anchor="start" fill="#000">β-sheet</text>
<rect x="393.7" y="1116.64" width="10.5" height="6" fill="#eb968c" stroke="#111" stroke-width="1.2"/>
<text transform="translate(409.8 1122.64)" font-family="&quot;Liberation Sans&quot;, sans-serif" font-weight="normal" font-size="8.5" text-anchor="start" fill="#000">β-turn</text>
<rect x="393.7" y="1130.81" width="10.5" height="6" fill="#f9e2df" stroke="#111" stroke-width="1.2"/>
<text transform="translate(409.8 1136.81)" font-family="&quot;Liberation Sans&quot;, sans-serif" font-weight="normal" font-size="8.5" text-anchor="start" fill="#000">Random coil</text>
</g>
</g>
<g>
<rect x="502.15" y="1187.96" width="12.5" height="2.04" fill="#c0291e"/>
<rect x="502.15" y="1156.1" width="12.5" height="31.86" fill="#e0584d"/>
<rect x="502.15" y="1105.22" width="12.5" height="50.89" fill="#eb968c"/>
<rect x="502.15" y="1101.5" width="12.5" height="3.72" fill="#f9e2df"/>
<line x1="502.15" y1="1187.96" x2="514.65" y2="1187.96" stroke="#111" stroke-width="1.25"/>
<line x1="502.15" y1="1156.1" x2="514.65" y2="1156.1" stroke="#111" stroke-width="1.25"/>
<line x1="502.15" y1="1105.22" x2="514.65" y2="1105.22" stroke="#111" stroke-width="1.25"/>
<path d="M508.4 1187.96V1186.19M504.6 1186.19H512.2" stroke="#111" stroke-width="0.8" fill="none"/>
<path d="M508.4 1156.1V1153.45M504.6 1153.45H512.2" stroke="#111" stroke-width="0.8" fill="none"/>
<path d="M508.4 1105.22V1103.45M504.6 1103.45H512.2" stroke="#111" stroke-width="0.8" fill="none"/>
<path d="M508.4 1101.5V1100.17M504.6 1100.17H512.2" stroke="#111" stroke-width="0.8" fill="none"/>
<path d="M508.4 1190V1186.8" stroke="#111" stroke-width="1.3"/>
<rect x="502.15" y="1102.35" width="12.5" height="87.65" fill="none" stroke="#111" stroke-width="1.7"/>
<text transform="translate(510.2 1196.3) rotate(-45)" font-family="&quot;Liberation Sans&quot;, sans-serif" font-weight="bold" font-size="8.2" text-anchor="end" fill="#000" stroke="#000" stroke-width="0.21">Control</text>
<rect x="524.85" y="1182.21" width="12.5" height="7.79" fill="#c0291e"/>
<rect x="524.85" y="1164.87" width="12.5" height="17.35" fill="#e0584d"/>
<rect x="524.85" y="1119.47" width="12.5" height="45.4" fill="#eb968c"/>
<rect x="524.85" y="1101.5" width="12.5" height="17.97" fill="#f9e2df"/>
<line x1="524.85" y1="1182.21" x2="537.35" y2="1182.21" stroke="#111" stroke-width="1.25"/>
<line x1="524.85" y1="1164.87" x2="537.35" y2="1164.87" stroke="#111" stroke-width="1.25"/>
<line x1="524.85" y1="1119.47" x2="537.35" y2="1119.47" stroke="#111" stroke-width="1.25"/>
<path d="M531.1 1182.21V1180M527.3 1180H534.9" stroke="#111" stroke-width="0.8" fill="none"/>
<path d="M531.1 1164.87V1161.33M527.3 1161.33H534.9" stroke="#111" stroke-width="0.8" fill="none"/>
<path d="M531.1 1119.47V1116.81M527.3 1116.81H534.9" stroke="#111" stroke-width="0.8" fill="none"/>
<path d="M531.1 1101.5V1100.17M527.3 1100.17H534.9" stroke="#111" stroke-width="0.8" fill="none"/>
<path d="M531.1 1190V1186.8" stroke="#111" stroke-width="1.3"/>
<rect x="524.85" y="1102.35" width="12.5" height="87.65" fill="none" stroke="#111" stroke-width="1.7"/>
<text transform="translate(532.9 1196.3) rotate(-45)" font-family="&quot;Liberation Sans&quot;, sans-serif" font-weight="bold" font-size="8.2" text-anchor="end" fill="#000" stroke="#000" stroke-width="0.21">Oral</text>
<rect x="547.45" y="1179.82" width="12.5" height="10.18" fill="#c0291e"/>
<rect x="547.45" y="1154.78" width="12.5" height="25.05" fill="#e0584d"/>
<rect x="547.45" y="1123.54" width="12.5" height="31.24" fill="#eb968c"/>
<rect x="547.45" y="1101.5" width="12.5" height="22.04" fill="#f9e2df"/>
<line x1="547.45" y1="1179.82" x2="559.95" y2="1179.82" stroke="#111" stroke-width="1.25"/>
<line x1="547.45" y1="1154.78" x2="559.95" y2="1154.78" stroke="#111" stroke-width="1.25"/>
<line x1="547.45" y1="1123.54" x2="559.95" y2="1123.54" stroke="#111" stroke-width="1.25"/>
<path d="M553.7 1179.82V1177.17M549.9 1177.17H557.5" stroke="#111" stroke-width="0.8" fill="none"/>
<path d="M553.7 1154.78V1152.12M549.9 1152.12H557.5" stroke="#111" stroke-width="0.8" fill="none"/>
<path d="M553.7 1123.54V1120.44M549.9 1120.44H557.5" stroke="#111" stroke-width="0.8" fill="none"/>
<path d="M553.7 1101.5V1099.73M549.9 1099.73H557.5" stroke="#111" stroke-width="0.8" fill="none"/>
<path d="M553.7 1190V1186.8" stroke="#111" stroke-width="1.3"/>
<rect x="547.45" y="1102.35" width="12.5" height="87.65" fill="none" stroke="#111" stroke-width="1.7"/>
<text transform="translate(555.5 1196.3) rotate(-45)" font-family="&quot;Liberation Sans&quot;, sans-serif" font-weight="bold" font-size="8.2" text-anchor="end" fill="#000" stroke="#000" stroke-width="0.21">Stomach</text>
<rect x="570.15" y="1177.79" width="12.5" height="12.21" fill="#c0291e"/>
<rect x="570.15" y="1148.32" width="12.5" height="29.47" fill="#e0584d"/>
<rect x="570.15" y="1127.96" width="12.5" height="20.36" fill="#eb968c"/>
<rect x="570.15" y="1101.5" width="12.5" height="26.46" fill="#f9e2df"/>
<line x1="570.15" y1="1177.79" x2="582.65" y2="1177.79" stroke="#111" stroke-width="1.25"/>
<line x1="570.15" y1="1148.32" x2="582.65" y2="1148.32" stroke="#111" stroke-width="1.25"/>
<line x1="570.15" y1="1127.96" x2="582.65" y2="1127.96" stroke="#111" stroke-width="1.25"/>
<path d="M576.4 1177.79V1176.02M572.6 1176.02H580.2" stroke="#111" stroke-width="0.8" fill="none"/>
<path d="M576.4 1148.32V1144.78M572.6 1144.78H580.2" stroke="#111" stroke-width="0.8" fill="none"/>
<path d="M576.4 1127.96V1125.75M572.6 1125.75H580.2" stroke="#111" stroke-width="0.8" fill="none"/>
<path d="M576.4 1101.5V1099.29M572.6 1099.29H580.2" stroke="#111" stroke-width="0.8" fill="none"/>
<path d="M576.4 1190V1186.8" stroke="#111" stroke-width="1.3"/>
<rect x="570.15" y="1102.35" width="12.5" height="87.65" fill="none" stroke="#111" stroke-width="1.7"/>
<text transform="translate(578.2 1196.3) rotate(-45)" font-family="&quot;Liberation Sans&quot;, sans-serif" font-weight="bold" font-size="8.2" text-anchor="end" fill="#000" stroke="#000" stroke-width="0.21">Intestinal</text>
<path d="M493.7 1083.8V1190H591.1" stroke="#111" stroke-width="1.35" fill="none"/>
<line x1="493.7" y1="1190" x2="497.3" y2="1190" stroke="#111" stroke-width="1.1"/>
<text transform="translate(491.8 1192.8) scale(0.96 1)" font-family="&quot;Liberation Sans&quot;, sans-serif" font-weight="bold" font-size="7.9" text-anchor="end" fill="#000" stroke="#000" stroke-width="0.21">0</text>
<line x1="493.7" y1="1172.3" x2="497.3" y2="1172.3" stroke="#111" stroke-width="1.1"/>
<text transform="translate(491.8 1175.1) scale(0.96 1)" font-family="&quot;Liberation Sans&quot;, sans-serif" font-weight="bold" font-size="7.9" text-anchor="end" fill="#000" stroke="#000" stroke-width="0.21">20</text>
<line x1="493.7" y1="1154.6" x2="497.3" y2="1154.6" stroke="#111" stroke-width="1.1"/>
<text transform="translate(491.8 1157.4) scale(0.96 1)" font-family="&quot;Liberation Sans&quot;, sans-serif" font-weight="bold" font-size="7.9" text-anchor="end" fill="#000" stroke="#000" stroke-width="0.21">40</text>
<line x1="493.7" y1="1136.9" x2="497.3" y2="1136.9" stroke="#111" stroke-width="1.1"/>
<text transform="translate(491.8 1139.7) scale(0.96 1)" font-family="&quot;Liberation Sans&quot;, sans-serif" font-weight="bold" font-size="7.9" text-anchor="end" fill="#000" stroke="#000" stroke-width="0.21">60</text>
<line x1="493.7" y1="1119.2" x2="497.3" y2="1119.2" stroke="#111" stroke-width="1.1"/>
<text transform="translate(491.8 1122) scale(0.96 1)" font-family="&quot;Liberation Sans&quot;, sans-serif" font-weight="bold" font-size="7.9" text-anchor="end" fill="#000" stroke="#000" stroke-width="0.21">80</text>
<line x1="493.7" y1="1101.5" x2="497.3" y2="1101.5" stroke="#111" stroke-width="1.1"/>
<text transform="translate(491.8 1104.3) scale(0.96 1)" font-family="&quot;Liberation Sans&quot;, sans-serif" font-weight="bold" font-size="7.9" text-anchor="end" fill="#000" stroke="#000" stroke-width="0.21">100</text>
<line x1="493.7" y1="1083.8" x2="497.3" y2="1083.8" stroke="#111" stroke-width="1.1"/>
<text transform="translate(491.8 1086.6) scale(0.96 1)" font-family="&quot;Liberation Sans&quot;, sans-serif" font-weight="bold" font-size="7.9" text-anchor="end" fill="#000" stroke="#000" stroke-width="0.21">120</text>
<text transform="translate(543.3 1082.7)" font-family="&quot;Liberation Sans&quot;, sans-serif" font-weight="bold" font-size="9" text-anchor="middle" fill="#000" stroke="#000" stroke-width="0.23">NF3</text>
<text transform="translate(542.4 1232.2)" font-family="&quot;Liberation Sans&quot;, sans-serif" font-weight="bold" font-size="8.2" text-anchor="middle" fill="#000" stroke="#000" stroke-width="0.21">Digestion stage</text>
<text transform="translate(472.6 1164.5) rotate(-90) scale(0.91 1)" font-family="&quot;Liberation Sans&quot;, sans-serif" font-weight="bold" font-size="9.2" text-anchor="start" fill="#000" stroke="#000" stroke-width="0.24">Content<tspan font-weight="normal" dx="7.6">(</tspan>%<tspan font-weight="normal">)</tspan></text>
<clipPath id="cc5"><rect x="0" y="0" width="680" height="1240"/></clipPath>
<g clip-path="url(#cc5)">
<rect x="612.6" y="1087.8" width="10.7" height="6" fill="#c0291e" stroke="#111" stroke-width="1.2"/>
<text transform="translate(629 1093.8)" font-family="&quot;Liberation Sans&quot;, sans-serif" font-weight="normal" font-size="8.5" text-anchor="start" fill="#000">α-helix</text>
<rect x="612.6" y="1102.17" width="10.7" height="6" fill="#e0584d" stroke="#111" stroke-width="1.2"/>
<text transform="translate(629 1108.17)" font-family="&quot;Liberation Sans&quot;, sans-serif" font-weight="normal" font-size="8.5" text-anchor="start" fill="#000">β-sheet</text>
<rect x="612.6" y="1116.54" width="10.7" height="6" fill="#eb968c" stroke="#111" stroke-width="1.2"/>
<text transform="translate(629 1122.54)" font-family="&quot;Liberation Sans&quot;, sans-serif" font-weight="normal" font-size="8.5" text-anchor="start" fill="#000">β-turn</text>
<rect x="612.6" y="1130.91" width="10.7" height="6" fill="#f9e2df" stroke="#111" stroke-width="1.2"/>
<text transform="translate(629 1136.91)" font-family="&quot;Liberation Sans&quot;, sans-serif" font-weight="normal" font-size="8.5" text-anchor="start" fill="#000">Random coil</text>
</g>
</g>
<text transform="translate(1.2 912.6) scale(0.9 1)" font-family="&quot;Liberation Serif&quot;, serif" font-weight="bold" font-size="22" text-anchor="start" fill="#000" stroke="#000" stroke-width="0.3">C</text>
</svg>
</body></html>
